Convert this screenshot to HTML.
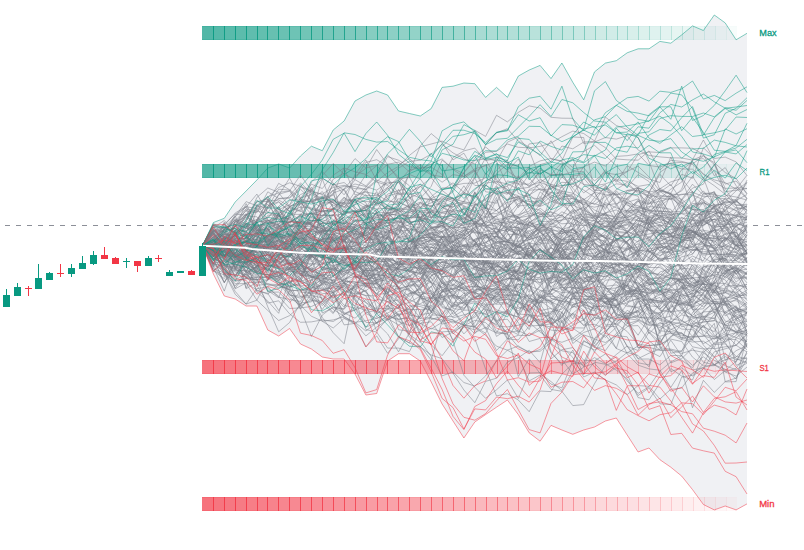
<!DOCTYPE html>
<html><head><meta charset="utf-8"><style>
html,body{margin:0;padding:0;background:#fff;}
body{width:804px;height:550px;overflow:hidden;}
svg{display:block;}
.t{stroke:#089981;}
.r{stroke:#f23645;}
.g{stroke:#787b86;}
#L path{fill:none;stroke-width:1;stroke-opacity:0.5;stroke-linejoin:miter;}
text{font-family:"Liberation Sans",sans-serif;font-size:9.6px;stroke-width:0.3px;}
</style></head><body>
<svg width="804" height="550" viewBox="0 0 804 550">
<rect width="804" height="550" fill="#ffffff"/>
<line x1="5" y1="225.5" x2="804" y2="225.5" stroke="#787b86" stroke-opacity="0.85" stroke-width="1" stroke-dasharray="5 6"/>
<path d="M202.5 245.5 213.4 222.5 224.3 218.3 235.2 202.0 246.1 191.0 256.9 180.0 267.8 168.0 278.7 164.0 289.6 168.0 300.5 156.0 311.4 146.2 322.3 150.7 333.2 130.0 344.1 121.0 355.0 101.0 365.9 95.0 376.7 91.0 387.6 95.0 398.5 111.0 409.4 113.5 420.3 116.0 431.2 108.6 442.1 87.4 453.0 86.2 463.9 83.0 474.8 83.7 485.6 97.4 496.5 87.4 507.4 97.3 518.3 76.1 529.2 70.0 540.1 65.4 551.0 78.6 561.9 63.0 572.8 82.3 583.7 99.8 594.5 71.9 605.4 63.1 616.3 60.7 627.2 52.8 638.1 48.8 649.0 48.8 659.9 41.4 670.8 43.2 681.7 34.9 692.5 25.9 703.4 30.5 714.3 15.0 725.2 22.9 736.1 39.8 747.0 33.3 747.0 503.9 736.1 509.9 725.2 506.0 714.3 509.9 703.4 504.5 692.5 489.6 681.7 476.1 670.8 467.2 659.9 459.7 649.0 448.0 638.1 452.0 627.2 435.0 616.3 418.0 605.4 421.0 594.5 427.0 583.7 430.0 572.8 434.3 561.9 430.0 551.0 425.4 540.1 441.2 529.2 432.8 518.3 414.6 507.4 400.0 496.5 407.2 485.6 414.6 474.8 422.0 463.9 438.0 453.0 421.0 442.1 404.0 431.2 382.0 420.3 361.0 409.4 353.7 398.5 353.7 387.6 361.0 376.7 393.5 365.9 395.0 355.0 374.0 344.1 359.0 333.2 359.0 322.3 357.0 311.4 349.0 300.5 344.0 289.6 328.5 278.7 336.0 267.8 330.0 256.9 306.0 246.1 306.0 235.2 299.0 224.3 296.0 213.4 274.0 202.5 245.5Z" fill="#f0f1f4"/>
<g id="B">
<rect x="202" y="26" width="11" height="14" fill="#089981" fill-opacity="0.700"/>
<rect x="202" y="26" width="11" height="1" fill="#089981" fill-opacity="0.175"/>
<rect x="202" y="39" width="11" height="1" fill="#089981" fill-opacity="0.175"/>
<rect x="213" y="26" width="11" height="14" fill="#089981" fill-opacity="0.686"/>
<rect x="213" y="26" width="11" height="1" fill="#089981" fill-opacity="0.172"/>
<rect x="213" y="39" width="11" height="1" fill="#089981" fill-opacity="0.172"/>
<rect x="213" y="26" width="1" height="14" fill="#089981" fill-opacity="0.901"/>
<rect x="224" y="26" width="11" height="14" fill="#089981" fill-opacity="0.672"/>
<rect x="224" y="26" width="11" height="1" fill="#089981" fill-opacity="0.168"/>
<rect x="224" y="39" width="11" height="1" fill="#089981" fill-opacity="0.168"/>
<rect x="224" y="26" width="1" height="14" fill="#089981" fill-opacity="0.892"/>
<rect x="235" y="26" width="11" height="14" fill="#089981" fill-opacity="0.658"/>
<rect x="235" y="26" width="11" height="1" fill="#089981" fill-opacity="0.165"/>
<rect x="235" y="39" width="11" height="1" fill="#089981" fill-opacity="0.165"/>
<rect x="235" y="26" width="1" height="14" fill="#089981" fill-opacity="0.883"/>
<rect x="246" y="26" width="11" height="14" fill="#089981" fill-opacity="0.644"/>
<rect x="246" y="26" width="11" height="1" fill="#089981" fill-opacity="0.161"/>
<rect x="246" y="39" width="11" height="1" fill="#089981" fill-opacity="0.161"/>
<rect x="246" y="26" width="1" height="14" fill="#089981" fill-opacity="0.873"/>
<rect x="257" y="26" width="10" height="14" fill="#089981" fill-opacity="0.630"/>
<rect x="257" y="26" width="10" height="1" fill="#089981" fill-opacity="0.158"/>
<rect x="257" y="39" width="10" height="1" fill="#089981" fill-opacity="0.158"/>
<rect x="257" y="26" width="1" height="14" fill="#089981" fill-opacity="0.863"/>
<rect x="267" y="26" width="11" height="14" fill="#089981" fill-opacity="0.616"/>
<rect x="267" y="26" width="11" height="1" fill="#089981" fill-opacity="0.154"/>
<rect x="267" y="39" width="11" height="1" fill="#089981" fill-opacity="0.154"/>
<rect x="267" y="26" width="1" height="14" fill="#089981" fill-opacity="0.853"/>
<rect x="278" y="26" width="11" height="14" fill="#089981" fill-opacity="0.602"/>
<rect x="278" y="26" width="11" height="1" fill="#089981" fill-opacity="0.151"/>
<rect x="278" y="39" width="11" height="1" fill="#089981" fill-opacity="0.151"/>
<rect x="278" y="26" width="1" height="14" fill="#089981" fill-opacity="0.842"/>
<rect x="289" y="26" width="11" height="14" fill="#089981" fill-opacity="0.588"/>
<rect x="289" y="26" width="11" height="1" fill="#089981" fill-opacity="0.147"/>
<rect x="289" y="39" width="11" height="1" fill="#089981" fill-opacity="0.147"/>
<rect x="289" y="26" width="1" height="14" fill="#089981" fill-opacity="0.831"/>
<rect x="300" y="26" width="11" height="14" fill="#089981" fill-opacity="0.574"/>
<rect x="300" y="26" width="11" height="1" fill="#089981" fill-opacity="0.144"/>
<rect x="300" y="39" width="11" height="1" fill="#089981" fill-opacity="0.144"/>
<rect x="300" y="26" width="1" height="14" fill="#089981" fill-opacity="0.819"/>
<rect x="311" y="26" width="11" height="14" fill="#089981" fill-opacity="0.560"/>
<rect x="311" y="26" width="11" height="1" fill="#089981" fill-opacity="0.140"/>
<rect x="311" y="39" width="11" height="1" fill="#089981" fill-opacity="0.140"/>
<rect x="311" y="26" width="1" height="14" fill="#089981" fill-opacity="0.807"/>
<rect x="322" y="26" width="11" height="14" fill="#089981" fill-opacity="0.546"/>
<rect x="322" y="26" width="11" height="1" fill="#089981" fill-opacity="0.137"/>
<rect x="322" y="39" width="11" height="1" fill="#089981" fill-opacity="0.137"/>
<rect x="322" y="26" width="1" height="14" fill="#089981" fill-opacity="0.794"/>
<rect x="333" y="26" width="11" height="14" fill="#089981" fill-opacity="0.532"/>
<rect x="333" y="26" width="11" height="1" fill="#089981" fill-opacity="0.133"/>
<rect x="333" y="39" width="11" height="1" fill="#089981" fill-opacity="0.133"/>
<rect x="333" y="26" width="1" height="14" fill="#089981" fill-opacity="0.781"/>
<rect x="344" y="26" width="11" height="14" fill="#089981" fill-opacity="0.519"/>
<rect x="344" y="26" width="11" height="1" fill="#089981" fill-opacity="0.130"/>
<rect x="344" y="39" width="11" height="1" fill="#089981" fill-opacity="0.130"/>
<rect x="344" y="26" width="1" height="14" fill="#089981" fill-opacity="0.768"/>
<rect x="355" y="26" width="11" height="14" fill="#089981" fill-opacity="0.505"/>
<rect x="355" y="26" width="11" height="1" fill="#089981" fill-opacity="0.126"/>
<rect x="355" y="39" width="11" height="1" fill="#089981" fill-opacity="0.126"/>
<rect x="355" y="26" width="1" height="14" fill="#089981" fill-opacity="0.755"/>
<rect x="366" y="26" width="11" height="14" fill="#089981" fill-opacity="0.491"/>
<rect x="366" y="26" width="11" height="1" fill="#089981" fill-opacity="0.123"/>
<rect x="366" y="39" width="11" height="1" fill="#089981" fill-opacity="0.123"/>
<rect x="366" y="26" width="1" height="14" fill="#089981" fill-opacity="0.741"/>
<rect x="377" y="26" width="10" height="14" fill="#089981" fill-opacity="0.477"/>
<rect x="377" y="26" width="10" height="1" fill="#089981" fill-opacity="0.119"/>
<rect x="377" y="39" width="10" height="1" fill="#089981" fill-opacity="0.119"/>
<rect x="377" y="26" width="1" height="14" fill="#089981" fill-opacity="0.726"/>
<rect x="387" y="26" width="11" height="14" fill="#089981" fill-opacity="0.463"/>
<rect x="387" y="26" width="11" height="1" fill="#089981" fill-opacity="0.116"/>
<rect x="387" y="39" width="11" height="1" fill="#089981" fill-opacity="0.116"/>
<rect x="387" y="26" width="1" height="14" fill="#089981" fill-opacity="0.711"/>
<rect x="398" y="26" width="11" height="14" fill="#089981" fill-opacity="0.449"/>
<rect x="398" y="26" width="11" height="1" fill="#089981" fill-opacity="0.112"/>
<rect x="398" y="39" width="11" height="1" fill="#089981" fill-opacity="0.112"/>
<rect x="398" y="26" width="1" height="14" fill="#089981" fill-opacity="0.696"/>
<rect x="409" y="26" width="11" height="14" fill="#089981" fill-opacity="0.435"/>
<rect x="409" y="26" width="11" height="1" fill="#089981" fill-opacity="0.109"/>
<rect x="409" y="39" width="11" height="1" fill="#089981" fill-opacity="0.109"/>
<rect x="409" y="26" width="1" height="14" fill="#089981" fill-opacity="0.681"/>
<rect x="420" y="26" width="11" height="14" fill="#089981" fill-opacity="0.421"/>
<rect x="420" y="26" width="11" height="1" fill="#089981" fill-opacity="0.105"/>
<rect x="420" y="39" width="11" height="1" fill="#089981" fill-opacity="0.105"/>
<rect x="420" y="26" width="1" height="14" fill="#089981" fill-opacity="0.665"/>
<rect x="431" y="26" width="11" height="14" fill="#089981" fill-opacity="0.407"/>
<rect x="431" y="26" width="11" height="1" fill="#089981" fill-opacity="0.102"/>
<rect x="431" y="39" width="11" height="1" fill="#089981" fill-opacity="0.102"/>
<rect x="431" y="26" width="1" height="14" fill="#089981" fill-opacity="0.648"/>
<rect x="442" y="26" width="11" height="14" fill="#089981" fill-opacity="0.393"/>
<rect x="442" y="26" width="11" height="1" fill="#089981" fill-opacity="0.098"/>
<rect x="442" y="39" width="11" height="1" fill="#089981" fill-opacity="0.098"/>
<rect x="442" y="26" width="1" height="14" fill="#089981" fill-opacity="0.631"/>
<rect x="453" y="26" width="11" height="14" fill="#089981" fill-opacity="0.379"/>
<rect x="453" y="26" width="11" height="1" fill="#089981" fill-opacity="0.095"/>
<rect x="453" y="39" width="11" height="1" fill="#089981" fill-opacity="0.095"/>
<rect x="453" y="26" width="1" height="14" fill="#089981" fill-opacity="0.614"/>
<rect x="464" y="26" width="11" height="14" fill="#089981" fill-opacity="0.365"/>
<rect x="464" y="26" width="11" height="1" fill="#089981" fill-opacity="0.091"/>
<rect x="464" y="39" width="11" height="1" fill="#089981" fill-opacity="0.091"/>
<rect x="464" y="26" width="1" height="14" fill="#089981" fill-opacity="0.597"/>
<rect x="475" y="26" width="11" height="14" fill="#089981" fill-opacity="0.351"/>
<rect x="475" y="26" width="11" height="1" fill="#089981" fill-opacity="0.088"/>
<rect x="475" y="39" width="11" height="1" fill="#089981" fill-opacity="0.088"/>
<rect x="475" y="26" width="1" height="14" fill="#089981" fill-opacity="0.579"/>
<rect x="486" y="26" width="11" height="14" fill="#089981" fill-opacity="0.337"/>
<rect x="486" y="26" width="11" height="1" fill="#089981" fill-opacity="0.084"/>
<rect x="486" y="39" width="11" height="1" fill="#089981" fill-opacity="0.084"/>
<rect x="486" y="26" width="1" height="14" fill="#089981" fill-opacity="0.561"/>
<rect x="497" y="26" width="10" height="14" fill="#089981" fill-opacity="0.323"/>
<rect x="497" y="26" width="10" height="1" fill="#089981" fill-opacity="0.081"/>
<rect x="497" y="39" width="10" height="1" fill="#089981" fill-opacity="0.081"/>
<rect x="497" y="26" width="1" height="14" fill="#089981" fill-opacity="0.542"/>
<rect x="507" y="26" width="11" height="14" fill="#089981" fill-opacity="0.309"/>
<rect x="507" y="26" width="11" height="1" fill="#089981" fill-opacity="0.077"/>
<rect x="507" y="39" width="11" height="1" fill="#089981" fill-opacity="0.077"/>
<rect x="507" y="26" width="1" height="14" fill="#089981" fill-opacity="0.523"/>
<rect x="518" y="26" width="11" height="14" fill="#089981" fill-opacity="0.295"/>
<rect x="518" y="26" width="11" height="1" fill="#089981" fill-opacity="0.074"/>
<rect x="518" y="39" width="11" height="1" fill="#089981" fill-opacity="0.074"/>
<rect x="518" y="26" width="1" height="14" fill="#089981" fill-opacity="0.503"/>
<rect x="529" y="26" width="11" height="14" fill="#089981" fill-opacity="0.281"/>
<rect x="529" y="26" width="11" height="1" fill="#089981" fill-opacity="0.070"/>
<rect x="529" y="39" width="11" height="1" fill="#089981" fill-opacity="0.070"/>
<rect x="529" y="26" width="1" height="14" fill="#089981" fill-opacity="0.483"/>
<rect x="540" y="26" width="11" height="14" fill="#089981" fill-opacity="0.267"/>
<rect x="540" y="26" width="11" height="1" fill="#089981" fill-opacity="0.067"/>
<rect x="540" y="39" width="11" height="1" fill="#089981" fill-opacity="0.067"/>
<rect x="540" y="26" width="1" height="14" fill="#089981" fill-opacity="0.463"/>
<rect x="551" y="26" width="11" height="14" fill="#089981" fill-opacity="0.253"/>
<rect x="551" y="26" width="11" height="1" fill="#089981" fill-opacity="0.063"/>
<rect x="551" y="39" width="11" height="1" fill="#089981" fill-opacity="0.063"/>
<rect x="551" y="26" width="1" height="14" fill="#089981" fill-opacity="0.442"/>
<rect x="562" y="26" width="11" height="14" fill="#089981" fill-opacity="0.239"/>
<rect x="562" y="26" width="11" height="1" fill="#089981" fill-opacity="0.060"/>
<rect x="562" y="39" width="11" height="1" fill="#089981" fill-opacity="0.060"/>
<rect x="562" y="26" width="1" height="14" fill="#089981" fill-opacity="0.421"/>
<rect x="573" y="26" width="11" height="14" fill="#089981" fill-opacity="0.225"/>
<rect x="573" y="26" width="11" height="1" fill="#089981" fill-opacity="0.056"/>
<rect x="573" y="39" width="11" height="1" fill="#089981" fill-opacity="0.056"/>
<rect x="573" y="26" width="1" height="14" fill="#089981" fill-opacity="0.400"/>
<rect x="584" y="26" width="11" height="14" fill="#089981" fill-opacity="0.211"/>
<rect x="584" y="26" width="11" height="1" fill="#089981" fill-opacity="0.053"/>
<rect x="584" y="39" width="11" height="1" fill="#089981" fill-opacity="0.053"/>
<rect x="584" y="26" width="1" height="14" fill="#089981" fill-opacity="0.378"/>
<rect x="595" y="26" width="11" height="14" fill="#089981" fill-opacity="0.198"/>
<rect x="595" y="26" width="11" height="1" fill="#089981" fill-opacity="0.049"/>
<rect x="595" y="39" width="11" height="1" fill="#089981" fill-opacity="0.049"/>
<rect x="595" y="26" width="1" height="14" fill="#089981" fill-opacity="0.356"/>
<rect x="606" y="26" width="11" height="14" fill="#089981" fill-opacity="0.184"/>
<rect x="606" y="26" width="11" height="1" fill="#089981" fill-opacity="0.046"/>
<rect x="606" y="39" width="11" height="1" fill="#089981" fill-opacity="0.046"/>
<rect x="606" y="26" width="1" height="14" fill="#089981" fill-opacity="0.333"/>
<rect x="617" y="26" width="10" height="14" fill="#089981" fill-opacity="0.170"/>
<rect x="617" y="26" width="10" height="1" fill="#089981" fill-opacity="0.042"/>
<rect x="617" y="39" width="10" height="1" fill="#089981" fill-opacity="0.042"/>
<rect x="617" y="26" width="1" height="14" fill="#089981" fill-opacity="0.310"/>
<rect x="627" y="26" width="11" height="14" fill="#089981" fill-opacity="0.156"/>
<rect x="627" y="26" width="11" height="1" fill="#089981" fill-opacity="0.039"/>
<rect x="627" y="39" width="11" height="1" fill="#089981" fill-opacity="0.039"/>
<rect x="627" y="26" width="1" height="14" fill="#089981" fill-opacity="0.287"/>
<rect x="638" y="26" width="11" height="14" fill="#089981" fill-opacity="0.142"/>
<rect x="638" y="26" width="11" height="1" fill="#089981" fill-opacity="0.035"/>
<rect x="638" y="39" width="11" height="1" fill="#089981" fill-opacity="0.035"/>
<rect x="638" y="26" width="1" height="14" fill="#089981" fill-opacity="0.263"/>
<rect x="649" y="26" width="11" height="14" fill="#089981" fill-opacity="0.128"/>
<rect x="649" y="26" width="11" height="1" fill="#089981" fill-opacity="0.032"/>
<rect x="649" y="39" width="11" height="1" fill="#089981" fill-opacity="0.032"/>
<rect x="649" y="26" width="1" height="14" fill="#089981" fill-opacity="0.239"/>
<rect x="660" y="26" width="11" height="14" fill="#089981" fill-opacity="0.114"/>
<rect x="660" y="26" width="11" height="1" fill="#089981" fill-opacity="0.028"/>
<rect x="660" y="39" width="11" height="1" fill="#089981" fill-opacity="0.028"/>
<rect x="660" y="26" width="1" height="14" fill="#089981" fill-opacity="0.215"/>
<rect x="671" y="26" width="11" height="14" fill="#089981" fill-opacity="0.100"/>
<rect x="671" y="26" width="11" height="1" fill="#089981" fill-opacity="0.025"/>
<rect x="671" y="39" width="11" height="1" fill="#089981" fill-opacity="0.025"/>
<rect x="671" y="26" width="1" height="14" fill="#089981" fill-opacity="0.190"/>
<rect x="682" y="26" width="11" height="14" fill="#089981" fill-opacity="0.086"/>
<rect x="682" y="26" width="11" height="1" fill="#089981" fill-opacity="0.021"/>
<rect x="682" y="39" width="11" height="1" fill="#089981" fill-opacity="0.021"/>
<rect x="682" y="26" width="1" height="14" fill="#089981" fill-opacity="0.164"/>
<rect x="693" y="26" width="11" height="14" fill="#089981" fill-opacity="0.072"/>
<rect x="693" y="26" width="11" height="1" fill="#089981" fill-opacity="0.018"/>
<rect x="693" y="39" width="11" height="1" fill="#089981" fill-opacity="0.018"/>
<rect x="693" y="26" width="1" height="14" fill="#089981" fill-opacity="0.139"/>
<rect x="704" y="26" width="11" height="14" fill="#089981" fill-opacity="0.058"/>
<rect x="704" y="26" width="11" height="1" fill="#089981" fill-opacity="0.014"/>
<rect x="704" y="39" width="11" height="1" fill="#089981" fill-opacity="0.014"/>
<rect x="704" y="26" width="1" height="14" fill="#089981" fill-opacity="0.112"/>
<rect x="715" y="26" width="11" height="14" fill="#089981" fill-opacity="0.044"/>
<rect x="715" y="26" width="11" height="1" fill="#089981" fill-opacity="0.011"/>
<rect x="715" y="39" width="11" height="1" fill="#089981" fill-opacity="0.011"/>
<rect x="715" y="26" width="1" height="14" fill="#089981" fill-opacity="0.086"/>
<rect x="726" y="26" width="11" height="14" fill="#089981" fill-opacity="0.030"/>
<rect x="726" y="26" width="11" height="1" fill="#089981" fill-opacity="0.008"/>
<rect x="726" y="39" width="11" height="1" fill="#089981" fill-opacity="0.008"/>
<rect x="726" y="26" width="1" height="14" fill="#089981" fill-opacity="0.059"/>
<rect x="202" y="164" width="11" height="14" fill="#089981" fill-opacity="0.700"/>
<rect x="202" y="164" width="11" height="1" fill="#089981" fill-opacity="0.175"/>
<rect x="202" y="177" width="11" height="1" fill="#089981" fill-opacity="0.175"/>
<rect x="213" y="164" width="11" height="14" fill="#089981" fill-opacity="0.686"/>
<rect x="213" y="164" width="11" height="1" fill="#089981" fill-opacity="0.172"/>
<rect x="213" y="177" width="11" height="1" fill="#089981" fill-opacity="0.172"/>
<rect x="213" y="164" width="1" height="14" fill="#089981" fill-opacity="0.901"/>
<rect x="224" y="164" width="11" height="14" fill="#089981" fill-opacity="0.672"/>
<rect x="224" y="164" width="11" height="1" fill="#089981" fill-opacity="0.168"/>
<rect x="224" y="177" width="11" height="1" fill="#089981" fill-opacity="0.168"/>
<rect x="224" y="164" width="1" height="14" fill="#089981" fill-opacity="0.892"/>
<rect x="235" y="164" width="11" height="14" fill="#089981" fill-opacity="0.658"/>
<rect x="235" y="164" width="11" height="1" fill="#089981" fill-opacity="0.165"/>
<rect x="235" y="177" width="11" height="1" fill="#089981" fill-opacity="0.165"/>
<rect x="235" y="164" width="1" height="14" fill="#089981" fill-opacity="0.883"/>
<rect x="246" y="164" width="11" height="14" fill="#089981" fill-opacity="0.644"/>
<rect x="246" y="164" width="11" height="1" fill="#089981" fill-opacity="0.161"/>
<rect x="246" y="177" width="11" height="1" fill="#089981" fill-opacity="0.161"/>
<rect x="246" y="164" width="1" height="14" fill="#089981" fill-opacity="0.873"/>
<rect x="257" y="164" width="10" height="14" fill="#089981" fill-opacity="0.630"/>
<rect x="257" y="164" width="10" height="1" fill="#089981" fill-opacity="0.158"/>
<rect x="257" y="177" width="10" height="1" fill="#089981" fill-opacity="0.158"/>
<rect x="257" y="164" width="1" height="14" fill="#089981" fill-opacity="0.863"/>
<rect x="267" y="164" width="11" height="14" fill="#089981" fill-opacity="0.616"/>
<rect x="267" y="164" width="11" height="1" fill="#089981" fill-opacity="0.154"/>
<rect x="267" y="177" width="11" height="1" fill="#089981" fill-opacity="0.154"/>
<rect x="267" y="164" width="1" height="14" fill="#089981" fill-opacity="0.853"/>
<rect x="278" y="164" width="11" height="14" fill="#089981" fill-opacity="0.602"/>
<rect x="278" y="164" width="11" height="1" fill="#089981" fill-opacity="0.151"/>
<rect x="278" y="177" width="11" height="1" fill="#089981" fill-opacity="0.151"/>
<rect x="278" y="164" width="1" height="14" fill="#089981" fill-opacity="0.842"/>
<rect x="289" y="164" width="11" height="14" fill="#089981" fill-opacity="0.588"/>
<rect x="289" y="164" width="11" height="1" fill="#089981" fill-opacity="0.147"/>
<rect x="289" y="177" width="11" height="1" fill="#089981" fill-opacity="0.147"/>
<rect x="289" y="164" width="1" height="14" fill="#089981" fill-opacity="0.831"/>
<rect x="300" y="164" width="11" height="14" fill="#089981" fill-opacity="0.574"/>
<rect x="300" y="164" width="11" height="1" fill="#089981" fill-opacity="0.144"/>
<rect x="300" y="177" width="11" height="1" fill="#089981" fill-opacity="0.144"/>
<rect x="300" y="164" width="1" height="14" fill="#089981" fill-opacity="0.819"/>
<rect x="311" y="164" width="11" height="14" fill="#089981" fill-opacity="0.560"/>
<rect x="311" y="164" width="11" height="1" fill="#089981" fill-opacity="0.140"/>
<rect x="311" y="177" width="11" height="1" fill="#089981" fill-opacity="0.140"/>
<rect x="311" y="164" width="1" height="14" fill="#089981" fill-opacity="0.807"/>
<rect x="322" y="164" width="11" height="14" fill="#089981" fill-opacity="0.546"/>
<rect x="322" y="164" width="11" height="1" fill="#089981" fill-opacity="0.137"/>
<rect x="322" y="177" width="11" height="1" fill="#089981" fill-opacity="0.137"/>
<rect x="322" y="164" width="1" height="14" fill="#089981" fill-opacity="0.794"/>
<rect x="333" y="164" width="11" height="14" fill="#089981" fill-opacity="0.532"/>
<rect x="333" y="164" width="11" height="1" fill="#089981" fill-opacity="0.133"/>
<rect x="333" y="177" width="11" height="1" fill="#089981" fill-opacity="0.133"/>
<rect x="333" y="164" width="1" height="14" fill="#089981" fill-opacity="0.781"/>
<rect x="344" y="164" width="11" height="14" fill="#089981" fill-opacity="0.519"/>
<rect x="344" y="164" width="11" height="1" fill="#089981" fill-opacity="0.130"/>
<rect x="344" y="177" width="11" height="1" fill="#089981" fill-opacity="0.130"/>
<rect x="344" y="164" width="1" height="14" fill="#089981" fill-opacity="0.768"/>
<rect x="355" y="164" width="11" height="14" fill="#089981" fill-opacity="0.505"/>
<rect x="355" y="164" width="11" height="1" fill="#089981" fill-opacity="0.126"/>
<rect x="355" y="177" width="11" height="1" fill="#089981" fill-opacity="0.126"/>
<rect x="355" y="164" width="1" height="14" fill="#089981" fill-opacity="0.755"/>
<rect x="366" y="164" width="11" height="14" fill="#089981" fill-opacity="0.491"/>
<rect x="366" y="164" width="11" height="1" fill="#089981" fill-opacity="0.123"/>
<rect x="366" y="177" width="11" height="1" fill="#089981" fill-opacity="0.123"/>
<rect x="366" y="164" width="1" height="14" fill="#089981" fill-opacity="0.741"/>
<rect x="377" y="164" width="10" height="14" fill="#089981" fill-opacity="0.477"/>
<rect x="377" y="164" width="10" height="1" fill="#089981" fill-opacity="0.119"/>
<rect x="377" y="177" width="10" height="1" fill="#089981" fill-opacity="0.119"/>
<rect x="377" y="164" width="1" height="14" fill="#089981" fill-opacity="0.726"/>
<rect x="387" y="164" width="11" height="14" fill="#089981" fill-opacity="0.463"/>
<rect x="387" y="164" width="11" height="1" fill="#089981" fill-opacity="0.116"/>
<rect x="387" y="177" width="11" height="1" fill="#089981" fill-opacity="0.116"/>
<rect x="387" y="164" width="1" height="14" fill="#089981" fill-opacity="0.711"/>
<rect x="398" y="164" width="11" height="14" fill="#089981" fill-opacity="0.449"/>
<rect x="398" y="164" width="11" height="1" fill="#089981" fill-opacity="0.112"/>
<rect x="398" y="177" width="11" height="1" fill="#089981" fill-opacity="0.112"/>
<rect x="398" y="164" width="1" height="14" fill="#089981" fill-opacity="0.696"/>
<rect x="409" y="164" width="11" height="14" fill="#089981" fill-opacity="0.435"/>
<rect x="409" y="164" width="11" height="1" fill="#089981" fill-opacity="0.109"/>
<rect x="409" y="177" width="11" height="1" fill="#089981" fill-opacity="0.109"/>
<rect x="409" y="164" width="1" height="14" fill="#089981" fill-opacity="0.681"/>
<rect x="420" y="164" width="11" height="14" fill="#089981" fill-opacity="0.421"/>
<rect x="420" y="164" width="11" height="1" fill="#089981" fill-opacity="0.105"/>
<rect x="420" y="177" width="11" height="1" fill="#089981" fill-opacity="0.105"/>
<rect x="420" y="164" width="1" height="14" fill="#089981" fill-opacity="0.665"/>
<rect x="431" y="164" width="11" height="14" fill="#089981" fill-opacity="0.407"/>
<rect x="431" y="164" width="11" height="1" fill="#089981" fill-opacity="0.102"/>
<rect x="431" y="177" width="11" height="1" fill="#089981" fill-opacity="0.102"/>
<rect x="431" y="164" width="1" height="14" fill="#089981" fill-opacity="0.648"/>
<rect x="442" y="164" width="11" height="14" fill="#089981" fill-opacity="0.393"/>
<rect x="442" y="164" width="11" height="1" fill="#089981" fill-opacity="0.098"/>
<rect x="442" y="177" width="11" height="1" fill="#089981" fill-opacity="0.098"/>
<rect x="442" y="164" width="1" height="14" fill="#089981" fill-opacity="0.631"/>
<rect x="453" y="164" width="11" height="14" fill="#089981" fill-opacity="0.379"/>
<rect x="453" y="164" width="11" height="1" fill="#089981" fill-opacity="0.095"/>
<rect x="453" y="177" width="11" height="1" fill="#089981" fill-opacity="0.095"/>
<rect x="453" y="164" width="1" height="14" fill="#089981" fill-opacity="0.614"/>
<rect x="464" y="164" width="11" height="14" fill="#089981" fill-opacity="0.365"/>
<rect x="464" y="164" width="11" height="1" fill="#089981" fill-opacity="0.091"/>
<rect x="464" y="177" width="11" height="1" fill="#089981" fill-opacity="0.091"/>
<rect x="464" y="164" width="1" height="14" fill="#089981" fill-opacity="0.597"/>
<rect x="475" y="164" width="11" height="14" fill="#089981" fill-opacity="0.351"/>
<rect x="475" y="164" width="11" height="1" fill="#089981" fill-opacity="0.088"/>
<rect x="475" y="177" width="11" height="1" fill="#089981" fill-opacity="0.088"/>
<rect x="475" y="164" width="1" height="14" fill="#089981" fill-opacity="0.579"/>
<rect x="486" y="164" width="11" height="14" fill="#089981" fill-opacity="0.337"/>
<rect x="486" y="164" width="11" height="1" fill="#089981" fill-opacity="0.084"/>
<rect x="486" y="177" width="11" height="1" fill="#089981" fill-opacity="0.084"/>
<rect x="486" y="164" width="1" height="14" fill="#089981" fill-opacity="0.561"/>
<rect x="497" y="164" width="10" height="14" fill="#089981" fill-opacity="0.323"/>
<rect x="497" y="164" width="10" height="1" fill="#089981" fill-opacity="0.081"/>
<rect x="497" y="177" width="10" height="1" fill="#089981" fill-opacity="0.081"/>
<rect x="497" y="164" width="1" height="14" fill="#089981" fill-opacity="0.542"/>
<rect x="507" y="164" width="11" height="14" fill="#089981" fill-opacity="0.309"/>
<rect x="507" y="164" width="11" height="1" fill="#089981" fill-opacity="0.077"/>
<rect x="507" y="177" width="11" height="1" fill="#089981" fill-opacity="0.077"/>
<rect x="507" y="164" width="1" height="14" fill="#089981" fill-opacity="0.523"/>
<rect x="518" y="164" width="11" height="14" fill="#089981" fill-opacity="0.295"/>
<rect x="518" y="164" width="11" height="1" fill="#089981" fill-opacity="0.074"/>
<rect x="518" y="177" width="11" height="1" fill="#089981" fill-opacity="0.074"/>
<rect x="518" y="164" width="1" height="14" fill="#089981" fill-opacity="0.503"/>
<rect x="529" y="164" width="11" height="14" fill="#089981" fill-opacity="0.281"/>
<rect x="529" y="164" width="11" height="1" fill="#089981" fill-opacity="0.070"/>
<rect x="529" y="177" width="11" height="1" fill="#089981" fill-opacity="0.070"/>
<rect x="529" y="164" width="1" height="14" fill="#089981" fill-opacity="0.483"/>
<rect x="540" y="164" width="11" height="14" fill="#089981" fill-opacity="0.267"/>
<rect x="540" y="164" width="11" height="1" fill="#089981" fill-opacity="0.067"/>
<rect x="540" y="177" width="11" height="1" fill="#089981" fill-opacity="0.067"/>
<rect x="540" y="164" width="1" height="14" fill="#089981" fill-opacity="0.463"/>
<rect x="551" y="164" width="11" height="14" fill="#089981" fill-opacity="0.253"/>
<rect x="551" y="164" width="11" height="1" fill="#089981" fill-opacity="0.063"/>
<rect x="551" y="177" width="11" height="1" fill="#089981" fill-opacity="0.063"/>
<rect x="551" y="164" width="1" height="14" fill="#089981" fill-opacity="0.442"/>
<rect x="562" y="164" width="11" height="14" fill="#089981" fill-opacity="0.239"/>
<rect x="562" y="164" width="11" height="1" fill="#089981" fill-opacity="0.060"/>
<rect x="562" y="177" width="11" height="1" fill="#089981" fill-opacity="0.060"/>
<rect x="562" y="164" width="1" height="14" fill="#089981" fill-opacity="0.421"/>
<rect x="573" y="164" width="11" height="14" fill="#089981" fill-opacity="0.225"/>
<rect x="573" y="164" width="11" height="1" fill="#089981" fill-opacity="0.056"/>
<rect x="573" y="177" width="11" height="1" fill="#089981" fill-opacity="0.056"/>
<rect x="573" y="164" width="1" height="14" fill="#089981" fill-opacity="0.400"/>
<rect x="584" y="164" width="11" height="14" fill="#089981" fill-opacity="0.211"/>
<rect x="584" y="164" width="11" height="1" fill="#089981" fill-opacity="0.053"/>
<rect x="584" y="177" width="11" height="1" fill="#089981" fill-opacity="0.053"/>
<rect x="584" y="164" width="1" height="14" fill="#089981" fill-opacity="0.378"/>
<rect x="595" y="164" width="11" height="14" fill="#089981" fill-opacity="0.198"/>
<rect x="595" y="164" width="11" height="1" fill="#089981" fill-opacity="0.049"/>
<rect x="595" y="177" width="11" height="1" fill="#089981" fill-opacity="0.049"/>
<rect x="595" y="164" width="1" height="14" fill="#089981" fill-opacity="0.356"/>
<rect x="606" y="164" width="11" height="14" fill="#089981" fill-opacity="0.184"/>
<rect x="606" y="164" width="11" height="1" fill="#089981" fill-opacity="0.046"/>
<rect x="606" y="177" width="11" height="1" fill="#089981" fill-opacity="0.046"/>
<rect x="606" y="164" width="1" height="14" fill="#089981" fill-opacity="0.333"/>
<rect x="617" y="164" width="10" height="14" fill="#089981" fill-opacity="0.170"/>
<rect x="617" y="164" width="10" height="1" fill="#089981" fill-opacity="0.042"/>
<rect x="617" y="177" width="10" height="1" fill="#089981" fill-opacity="0.042"/>
<rect x="617" y="164" width="1" height="14" fill="#089981" fill-opacity="0.310"/>
<rect x="627" y="164" width="11" height="14" fill="#089981" fill-opacity="0.156"/>
<rect x="627" y="164" width="11" height="1" fill="#089981" fill-opacity="0.039"/>
<rect x="627" y="177" width="11" height="1" fill="#089981" fill-opacity="0.039"/>
<rect x="627" y="164" width="1" height="14" fill="#089981" fill-opacity="0.287"/>
<rect x="638" y="164" width="11" height="14" fill="#089981" fill-opacity="0.142"/>
<rect x="638" y="164" width="11" height="1" fill="#089981" fill-opacity="0.035"/>
<rect x="638" y="177" width="11" height="1" fill="#089981" fill-opacity="0.035"/>
<rect x="638" y="164" width="1" height="14" fill="#089981" fill-opacity="0.263"/>
<rect x="649" y="164" width="11" height="14" fill="#089981" fill-opacity="0.128"/>
<rect x="649" y="164" width="11" height="1" fill="#089981" fill-opacity="0.032"/>
<rect x="649" y="177" width="11" height="1" fill="#089981" fill-opacity="0.032"/>
<rect x="649" y="164" width="1" height="14" fill="#089981" fill-opacity="0.239"/>
<rect x="660" y="164" width="11" height="14" fill="#089981" fill-opacity="0.114"/>
<rect x="660" y="164" width="11" height="1" fill="#089981" fill-opacity="0.028"/>
<rect x="660" y="177" width="11" height="1" fill="#089981" fill-opacity="0.028"/>
<rect x="660" y="164" width="1" height="14" fill="#089981" fill-opacity="0.215"/>
<rect x="671" y="164" width="11" height="14" fill="#089981" fill-opacity="0.100"/>
<rect x="671" y="164" width="11" height="1" fill="#089981" fill-opacity="0.025"/>
<rect x="671" y="177" width="11" height="1" fill="#089981" fill-opacity="0.025"/>
<rect x="671" y="164" width="1" height="14" fill="#089981" fill-opacity="0.190"/>
<rect x="682" y="164" width="11" height="14" fill="#089981" fill-opacity="0.086"/>
<rect x="682" y="164" width="11" height="1" fill="#089981" fill-opacity="0.021"/>
<rect x="682" y="177" width="11" height="1" fill="#089981" fill-opacity="0.021"/>
<rect x="682" y="164" width="1" height="14" fill="#089981" fill-opacity="0.164"/>
<rect x="693" y="164" width="11" height="14" fill="#089981" fill-opacity="0.072"/>
<rect x="693" y="164" width="11" height="1" fill="#089981" fill-opacity="0.018"/>
<rect x="693" y="177" width="11" height="1" fill="#089981" fill-opacity="0.018"/>
<rect x="693" y="164" width="1" height="14" fill="#089981" fill-opacity="0.139"/>
<rect x="704" y="164" width="11" height="14" fill="#089981" fill-opacity="0.058"/>
<rect x="704" y="164" width="11" height="1" fill="#089981" fill-opacity="0.014"/>
<rect x="704" y="177" width="11" height="1" fill="#089981" fill-opacity="0.014"/>
<rect x="704" y="164" width="1" height="14" fill="#089981" fill-opacity="0.112"/>
<rect x="715" y="164" width="11" height="14" fill="#089981" fill-opacity="0.044"/>
<rect x="715" y="164" width="11" height="1" fill="#089981" fill-opacity="0.011"/>
<rect x="715" y="177" width="11" height="1" fill="#089981" fill-opacity="0.011"/>
<rect x="715" y="164" width="1" height="14" fill="#089981" fill-opacity="0.086"/>
<rect x="726" y="164" width="11" height="14" fill="#089981" fill-opacity="0.030"/>
<rect x="726" y="164" width="11" height="1" fill="#089981" fill-opacity="0.008"/>
<rect x="726" y="177" width="11" height="1" fill="#089981" fill-opacity="0.008"/>
<rect x="726" y="164" width="1" height="14" fill="#089981" fill-opacity="0.059"/>
<rect x="202" y="360" width="11" height="14" fill="#f23645" fill-opacity="0.700"/>
<rect x="202" y="360" width="11" height="1" fill="#f23645" fill-opacity="0.175"/>
<rect x="202" y="373" width="11" height="1" fill="#f23645" fill-opacity="0.175"/>
<rect x="213" y="360" width="11" height="14" fill="#f23645" fill-opacity="0.686"/>
<rect x="213" y="360" width="11" height="1" fill="#f23645" fill-opacity="0.172"/>
<rect x="213" y="373" width="11" height="1" fill="#f23645" fill-opacity="0.172"/>
<rect x="213" y="360" width="1" height="14" fill="#f23645" fill-opacity="0.901"/>
<rect x="224" y="360" width="11" height="14" fill="#f23645" fill-opacity="0.672"/>
<rect x="224" y="360" width="11" height="1" fill="#f23645" fill-opacity="0.168"/>
<rect x="224" y="373" width="11" height="1" fill="#f23645" fill-opacity="0.168"/>
<rect x="224" y="360" width="1" height="14" fill="#f23645" fill-opacity="0.892"/>
<rect x="235" y="360" width="11" height="14" fill="#f23645" fill-opacity="0.658"/>
<rect x="235" y="360" width="11" height="1" fill="#f23645" fill-opacity="0.165"/>
<rect x="235" y="373" width="11" height="1" fill="#f23645" fill-opacity="0.165"/>
<rect x="235" y="360" width="1" height="14" fill="#f23645" fill-opacity="0.883"/>
<rect x="246" y="360" width="11" height="14" fill="#f23645" fill-opacity="0.644"/>
<rect x="246" y="360" width="11" height="1" fill="#f23645" fill-opacity="0.161"/>
<rect x="246" y="373" width="11" height="1" fill="#f23645" fill-opacity="0.161"/>
<rect x="246" y="360" width="1" height="14" fill="#f23645" fill-opacity="0.873"/>
<rect x="257" y="360" width="10" height="14" fill="#f23645" fill-opacity="0.630"/>
<rect x="257" y="360" width="10" height="1" fill="#f23645" fill-opacity="0.158"/>
<rect x="257" y="373" width="10" height="1" fill="#f23645" fill-opacity="0.158"/>
<rect x="257" y="360" width="1" height="14" fill="#f23645" fill-opacity="0.863"/>
<rect x="267" y="360" width="11" height="14" fill="#f23645" fill-opacity="0.616"/>
<rect x="267" y="360" width="11" height="1" fill="#f23645" fill-opacity="0.154"/>
<rect x="267" y="373" width="11" height="1" fill="#f23645" fill-opacity="0.154"/>
<rect x="267" y="360" width="1" height="14" fill="#f23645" fill-opacity="0.853"/>
<rect x="278" y="360" width="11" height="14" fill="#f23645" fill-opacity="0.602"/>
<rect x="278" y="360" width="11" height="1" fill="#f23645" fill-opacity="0.151"/>
<rect x="278" y="373" width="11" height="1" fill="#f23645" fill-opacity="0.151"/>
<rect x="278" y="360" width="1" height="14" fill="#f23645" fill-opacity="0.842"/>
<rect x="289" y="360" width="11" height="14" fill="#f23645" fill-opacity="0.588"/>
<rect x="289" y="360" width="11" height="1" fill="#f23645" fill-opacity="0.147"/>
<rect x="289" y="373" width="11" height="1" fill="#f23645" fill-opacity="0.147"/>
<rect x="289" y="360" width="1" height="14" fill="#f23645" fill-opacity="0.831"/>
<rect x="300" y="360" width="11" height="14" fill="#f23645" fill-opacity="0.574"/>
<rect x="300" y="360" width="11" height="1" fill="#f23645" fill-opacity="0.144"/>
<rect x="300" y="373" width="11" height="1" fill="#f23645" fill-opacity="0.144"/>
<rect x="300" y="360" width="1" height="14" fill="#f23645" fill-opacity="0.819"/>
<rect x="311" y="360" width="11" height="14" fill="#f23645" fill-opacity="0.560"/>
<rect x="311" y="360" width="11" height="1" fill="#f23645" fill-opacity="0.140"/>
<rect x="311" y="373" width="11" height="1" fill="#f23645" fill-opacity="0.140"/>
<rect x="311" y="360" width="1" height="14" fill="#f23645" fill-opacity="0.807"/>
<rect x="322" y="360" width="11" height="14" fill="#f23645" fill-opacity="0.546"/>
<rect x="322" y="360" width="11" height="1" fill="#f23645" fill-opacity="0.137"/>
<rect x="322" y="373" width="11" height="1" fill="#f23645" fill-opacity="0.137"/>
<rect x="322" y="360" width="1" height="14" fill="#f23645" fill-opacity="0.794"/>
<rect x="333" y="360" width="11" height="14" fill="#f23645" fill-opacity="0.532"/>
<rect x="333" y="360" width="11" height="1" fill="#f23645" fill-opacity="0.133"/>
<rect x="333" y="373" width="11" height="1" fill="#f23645" fill-opacity="0.133"/>
<rect x="333" y="360" width="1" height="14" fill="#f23645" fill-opacity="0.781"/>
<rect x="344" y="360" width="11" height="14" fill="#f23645" fill-opacity="0.519"/>
<rect x="344" y="360" width="11" height="1" fill="#f23645" fill-opacity="0.130"/>
<rect x="344" y="373" width="11" height="1" fill="#f23645" fill-opacity="0.130"/>
<rect x="344" y="360" width="1" height="14" fill="#f23645" fill-opacity="0.768"/>
<rect x="355" y="360" width="11" height="14" fill="#f23645" fill-opacity="0.505"/>
<rect x="355" y="360" width="11" height="1" fill="#f23645" fill-opacity="0.126"/>
<rect x="355" y="373" width="11" height="1" fill="#f23645" fill-opacity="0.126"/>
<rect x="355" y="360" width="1" height="14" fill="#f23645" fill-opacity="0.755"/>
<rect x="366" y="360" width="11" height="14" fill="#f23645" fill-opacity="0.491"/>
<rect x="366" y="360" width="11" height="1" fill="#f23645" fill-opacity="0.123"/>
<rect x="366" y="373" width="11" height="1" fill="#f23645" fill-opacity="0.123"/>
<rect x="366" y="360" width="1" height="14" fill="#f23645" fill-opacity="0.741"/>
<rect x="377" y="360" width="10" height="14" fill="#f23645" fill-opacity="0.477"/>
<rect x="377" y="360" width="10" height="1" fill="#f23645" fill-opacity="0.119"/>
<rect x="377" y="373" width="10" height="1" fill="#f23645" fill-opacity="0.119"/>
<rect x="377" y="360" width="1" height="14" fill="#f23645" fill-opacity="0.726"/>
<rect x="387" y="360" width="11" height="14" fill="#f23645" fill-opacity="0.463"/>
<rect x="387" y="360" width="11" height="1" fill="#f23645" fill-opacity="0.116"/>
<rect x="387" y="373" width="11" height="1" fill="#f23645" fill-opacity="0.116"/>
<rect x="387" y="360" width="1" height="14" fill="#f23645" fill-opacity="0.711"/>
<rect x="398" y="360" width="11" height="14" fill="#f23645" fill-opacity="0.449"/>
<rect x="398" y="360" width="11" height="1" fill="#f23645" fill-opacity="0.112"/>
<rect x="398" y="373" width="11" height="1" fill="#f23645" fill-opacity="0.112"/>
<rect x="398" y="360" width="1" height="14" fill="#f23645" fill-opacity="0.696"/>
<rect x="409" y="360" width="11" height="14" fill="#f23645" fill-opacity="0.435"/>
<rect x="409" y="360" width="11" height="1" fill="#f23645" fill-opacity="0.109"/>
<rect x="409" y="373" width="11" height="1" fill="#f23645" fill-opacity="0.109"/>
<rect x="409" y="360" width="1" height="14" fill="#f23645" fill-opacity="0.681"/>
<rect x="420" y="360" width="11" height="14" fill="#f23645" fill-opacity="0.421"/>
<rect x="420" y="360" width="11" height="1" fill="#f23645" fill-opacity="0.105"/>
<rect x="420" y="373" width="11" height="1" fill="#f23645" fill-opacity="0.105"/>
<rect x="420" y="360" width="1" height="14" fill="#f23645" fill-opacity="0.665"/>
<rect x="431" y="360" width="11" height="14" fill="#f23645" fill-opacity="0.407"/>
<rect x="431" y="360" width="11" height="1" fill="#f23645" fill-opacity="0.102"/>
<rect x="431" y="373" width="11" height="1" fill="#f23645" fill-opacity="0.102"/>
<rect x="431" y="360" width="1" height="14" fill="#f23645" fill-opacity="0.648"/>
<rect x="442" y="360" width="11" height="14" fill="#f23645" fill-opacity="0.393"/>
<rect x="442" y="360" width="11" height="1" fill="#f23645" fill-opacity="0.098"/>
<rect x="442" y="373" width="11" height="1" fill="#f23645" fill-opacity="0.098"/>
<rect x="442" y="360" width="1" height="14" fill="#f23645" fill-opacity="0.631"/>
<rect x="453" y="360" width="11" height="14" fill="#f23645" fill-opacity="0.379"/>
<rect x="453" y="360" width="11" height="1" fill="#f23645" fill-opacity="0.095"/>
<rect x="453" y="373" width="11" height="1" fill="#f23645" fill-opacity="0.095"/>
<rect x="453" y="360" width="1" height="14" fill="#f23645" fill-opacity="0.614"/>
<rect x="464" y="360" width="11" height="14" fill="#f23645" fill-opacity="0.365"/>
<rect x="464" y="360" width="11" height="1" fill="#f23645" fill-opacity="0.091"/>
<rect x="464" y="373" width="11" height="1" fill="#f23645" fill-opacity="0.091"/>
<rect x="464" y="360" width="1" height="14" fill="#f23645" fill-opacity="0.597"/>
<rect x="475" y="360" width="11" height="14" fill="#f23645" fill-opacity="0.351"/>
<rect x="475" y="360" width="11" height="1" fill="#f23645" fill-opacity="0.088"/>
<rect x="475" y="373" width="11" height="1" fill="#f23645" fill-opacity="0.088"/>
<rect x="475" y="360" width="1" height="14" fill="#f23645" fill-opacity="0.579"/>
<rect x="486" y="360" width="11" height="14" fill="#f23645" fill-opacity="0.337"/>
<rect x="486" y="360" width="11" height="1" fill="#f23645" fill-opacity="0.084"/>
<rect x="486" y="373" width="11" height="1" fill="#f23645" fill-opacity="0.084"/>
<rect x="486" y="360" width="1" height="14" fill="#f23645" fill-opacity="0.561"/>
<rect x="497" y="360" width="10" height="14" fill="#f23645" fill-opacity="0.323"/>
<rect x="497" y="360" width="10" height="1" fill="#f23645" fill-opacity="0.081"/>
<rect x="497" y="373" width="10" height="1" fill="#f23645" fill-opacity="0.081"/>
<rect x="497" y="360" width="1" height="14" fill="#f23645" fill-opacity="0.542"/>
<rect x="507" y="360" width="11" height="14" fill="#f23645" fill-opacity="0.309"/>
<rect x="507" y="360" width="11" height="1" fill="#f23645" fill-opacity="0.077"/>
<rect x="507" y="373" width="11" height="1" fill="#f23645" fill-opacity="0.077"/>
<rect x="507" y="360" width="1" height="14" fill="#f23645" fill-opacity="0.523"/>
<rect x="518" y="360" width="11" height="14" fill="#f23645" fill-opacity="0.295"/>
<rect x="518" y="360" width="11" height="1" fill="#f23645" fill-opacity="0.074"/>
<rect x="518" y="373" width="11" height="1" fill="#f23645" fill-opacity="0.074"/>
<rect x="518" y="360" width="1" height="14" fill="#f23645" fill-opacity="0.503"/>
<rect x="529" y="360" width="11" height="14" fill="#f23645" fill-opacity="0.281"/>
<rect x="529" y="360" width="11" height="1" fill="#f23645" fill-opacity="0.070"/>
<rect x="529" y="373" width="11" height="1" fill="#f23645" fill-opacity="0.070"/>
<rect x="529" y="360" width="1" height="14" fill="#f23645" fill-opacity="0.483"/>
<rect x="540" y="360" width="11" height="14" fill="#f23645" fill-opacity="0.267"/>
<rect x="540" y="360" width="11" height="1" fill="#f23645" fill-opacity="0.067"/>
<rect x="540" y="373" width="11" height="1" fill="#f23645" fill-opacity="0.067"/>
<rect x="540" y="360" width="1" height="14" fill="#f23645" fill-opacity="0.463"/>
<rect x="551" y="360" width="11" height="14" fill="#f23645" fill-opacity="0.253"/>
<rect x="551" y="360" width="11" height="1" fill="#f23645" fill-opacity="0.063"/>
<rect x="551" y="373" width="11" height="1" fill="#f23645" fill-opacity="0.063"/>
<rect x="551" y="360" width="1" height="14" fill="#f23645" fill-opacity="0.442"/>
<rect x="562" y="360" width="11" height="14" fill="#f23645" fill-opacity="0.239"/>
<rect x="562" y="360" width="11" height="1" fill="#f23645" fill-opacity="0.060"/>
<rect x="562" y="373" width="11" height="1" fill="#f23645" fill-opacity="0.060"/>
<rect x="562" y="360" width="1" height="14" fill="#f23645" fill-opacity="0.421"/>
<rect x="573" y="360" width="11" height="14" fill="#f23645" fill-opacity="0.225"/>
<rect x="573" y="360" width="11" height="1" fill="#f23645" fill-opacity="0.056"/>
<rect x="573" y="373" width="11" height="1" fill="#f23645" fill-opacity="0.056"/>
<rect x="573" y="360" width="1" height="14" fill="#f23645" fill-opacity="0.400"/>
<rect x="584" y="360" width="11" height="14" fill="#f23645" fill-opacity="0.211"/>
<rect x="584" y="360" width="11" height="1" fill="#f23645" fill-opacity="0.053"/>
<rect x="584" y="373" width="11" height="1" fill="#f23645" fill-opacity="0.053"/>
<rect x="584" y="360" width="1" height="14" fill="#f23645" fill-opacity="0.378"/>
<rect x="595" y="360" width="11" height="14" fill="#f23645" fill-opacity="0.198"/>
<rect x="595" y="360" width="11" height="1" fill="#f23645" fill-opacity="0.049"/>
<rect x="595" y="373" width="11" height="1" fill="#f23645" fill-opacity="0.049"/>
<rect x="595" y="360" width="1" height="14" fill="#f23645" fill-opacity="0.356"/>
<rect x="606" y="360" width="11" height="14" fill="#f23645" fill-opacity="0.184"/>
<rect x="606" y="360" width="11" height="1" fill="#f23645" fill-opacity="0.046"/>
<rect x="606" y="373" width="11" height="1" fill="#f23645" fill-opacity="0.046"/>
<rect x="606" y="360" width="1" height="14" fill="#f23645" fill-opacity="0.333"/>
<rect x="617" y="360" width="10" height="14" fill="#f23645" fill-opacity="0.170"/>
<rect x="617" y="360" width="10" height="1" fill="#f23645" fill-opacity="0.042"/>
<rect x="617" y="373" width="10" height="1" fill="#f23645" fill-opacity="0.042"/>
<rect x="617" y="360" width="1" height="14" fill="#f23645" fill-opacity="0.310"/>
<rect x="627" y="360" width="11" height="14" fill="#f23645" fill-opacity="0.156"/>
<rect x="627" y="360" width="11" height="1" fill="#f23645" fill-opacity="0.039"/>
<rect x="627" y="373" width="11" height="1" fill="#f23645" fill-opacity="0.039"/>
<rect x="627" y="360" width="1" height="14" fill="#f23645" fill-opacity="0.287"/>
<rect x="638" y="360" width="11" height="14" fill="#f23645" fill-opacity="0.142"/>
<rect x="638" y="360" width="11" height="1" fill="#f23645" fill-opacity="0.035"/>
<rect x="638" y="373" width="11" height="1" fill="#f23645" fill-opacity="0.035"/>
<rect x="638" y="360" width="1" height="14" fill="#f23645" fill-opacity="0.263"/>
<rect x="649" y="360" width="11" height="14" fill="#f23645" fill-opacity="0.128"/>
<rect x="649" y="360" width="11" height="1" fill="#f23645" fill-opacity="0.032"/>
<rect x="649" y="373" width="11" height="1" fill="#f23645" fill-opacity="0.032"/>
<rect x="649" y="360" width="1" height="14" fill="#f23645" fill-opacity="0.239"/>
<rect x="660" y="360" width="11" height="14" fill="#f23645" fill-opacity="0.114"/>
<rect x="660" y="360" width="11" height="1" fill="#f23645" fill-opacity="0.028"/>
<rect x="660" y="373" width="11" height="1" fill="#f23645" fill-opacity="0.028"/>
<rect x="660" y="360" width="1" height="14" fill="#f23645" fill-opacity="0.215"/>
<rect x="671" y="360" width="11" height="14" fill="#f23645" fill-opacity="0.100"/>
<rect x="671" y="360" width="11" height="1" fill="#f23645" fill-opacity="0.025"/>
<rect x="671" y="373" width="11" height="1" fill="#f23645" fill-opacity="0.025"/>
<rect x="671" y="360" width="1" height="14" fill="#f23645" fill-opacity="0.190"/>
<rect x="682" y="360" width="11" height="14" fill="#f23645" fill-opacity="0.086"/>
<rect x="682" y="360" width="11" height="1" fill="#f23645" fill-opacity="0.021"/>
<rect x="682" y="373" width="11" height="1" fill="#f23645" fill-opacity="0.021"/>
<rect x="682" y="360" width="1" height="14" fill="#f23645" fill-opacity="0.164"/>
<rect x="693" y="360" width="11" height="14" fill="#f23645" fill-opacity="0.072"/>
<rect x="693" y="360" width="11" height="1" fill="#f23645" fill-opacity="0.018"/>
<rect x="693" y="373" width="11" height="1" fill="#f23645" fill-opacity="0.018"/>
<rect x="693" y="360" width="1" height="14" fill="#f23645" fill-opacity="0.139"/>
<rect x="704" y="360" width="11" height="14" fill="#f23645" fill-opacity="0.058"/>
<rect x="704" y="360" width="11" height="1" fill="#f23645" fill-opacity="0.014"/>
<rect x="704" y="373" width="11" height="1" fill="#f23645" fill-opacity="0.014"/>
<rect x="704" y="360" width="1" height="14" fill="#f23645" fill-opacity="0.112"/>
<rect x="715" y="360" width="11" height="14" fill="#f23645" fill-opacity="0.044"/>
<rect x="715" y="360" width="11" height="1" fill="#f23645" fill-opacity="0.011"/>
<rect x="715" y="373" width="11" height="1" fill="#f23645" fill-opacity="0.011"/>
<rect x="715" y="360" width="1" height="14" fill="#f23645" fill-opacity="0.086"/>
<rect x="726" y="360" width="11" height="14" fill="#f23645" fill-opacity="0.030"/>
<rect x="726" y="360" width="11" height="1" fill="#f23645" fill-opacity="0.008"/>
<rect x="726" y="373" width="11" height="1" fill="#f23645" fill-opacity="0.008"/>
<rect x="726" y="360" width="1" height="14" fill="#f23645" fill-opacity="0.059"/>
<rect x="202" y="497" width="11" height="14" fill="#f23645" fill-opacity="0.700"/>
<rect x="202" y="497" width="11" height="1" fill="#f23645" fill-opacity="0.175"/>
<rect x="202" y="510" width="11" height="1" fill="#f23645" fill-opacity="0.175"/>
<rect x="213" y="497" width="11" height="14" fill="#f23645" fill-opacity="0.686"/>
<rect x="213" y="497" width="11" height="1" fill="#f23645" fill-opacity="0.172"/>
<rect x="213" y="510" width="11" height="1" fill="#f23645" fill-opacity="0.172"/>
<rect x="213" y="497" width="1" height="14" fill="#f23645" fill-opacity="0.901"/>
<rect x="224" y="497" width="11" height="14" fill="#f23645" fill-opacity="0.672"/>
<rect x="224" y="497" width="11" height="1" fill="#f23645" fill-opacity="0.168"/>
<rect x="224" y="510" width="11" height="1" fill="#f23645" fill-opacity="0.168"/>
<rect x="224" y="497" width="1" height="14" fill="#f23645" fill-opacity="0.892"/>
<rect x="235" y="497" width="11" height="14" fill="#f23645" fill-opacity="0.658"/>
<rect x="235" y="497" width="11" height="1" fill="#f23645" fill-opacity="0.165"/>
<rect x="235" y="510" width="11" height="1" fill="#f23645" fill-opacity="0.165"/>
<rect x="235" y="497" width="1" height="14" fill="#f23645" fill-opacity="0.883"/>
<rect x="246" y="497" width="11" height="14" fill="#f23645" fill-opacity="0.644"/>
<rect x="246" y="497" width="11" height="1" fill="#f23645" fill-opacity="0.161"/>
<rect x="246" y="510" width="11" height="1" fill="#f23645" fill-opacity="0.161"/>
<rect x="246" y="497" width="1" height="14" fill="#f23645" fill-opacity="0.873"/>
<rect x="257" y="497" width="10" height="14" fill="#f23645" fill-opacity="0.630"/>
<rect x="257" y="497" width="10" height="1" fill="#f23645" fill-opacity="0.158"/>
<rect x="257" y="510" width="10" height="1" fill="#f23645" fill-opacity="0.158"/>
<rect x="257" y="497" width="1" height="14" fill="#f23645" fill-opacity="0.863"/>
<rect x="267" y="497" width="11" height="14" fill="#f23645" fill-opacity="0.616"/>
<rect x="267" y="497" width="11" height="1" fill="#f23645" fill-opacity="0.154"/>
<rect x="267" y="510" width="11" height="1" fill="#f23645" fill-opacity="0.154"/>
<rect x="267" y="497" width="1" height="14" fill="#f23645" fill-opacity="0.853"/>
<rect x="278" y="497" width="11" height="14" fill="#f23645" fill-opacity="0.602"/>
<rect x="278" y="497" width="11" height="1" fill="#f23645" fill-opacity="0.151"/>
<rect x="278" y="510" width="11" height="1" fill="#f23645" fill-opacity="0.151"/>
<rect x="278" y="497" width="1" height="14" fill="#f23645" fill-opacity="0.842"/>
<rect x="289" y="497" width="11" height="14" fill="#f23645" fill-opacity="0.588"/>
<rect x="289" y="497" width="11" height="1" fill="#f23645" fill-opacity="0.147"/>
<rect x="289" y="510" width="11" height="1" fill="#f23645" fill-opacity="0.147"/>
<rect x="289" y="497" width="1" height="14" fill="#f23645" fill-opacity="0.831"/>
<rect x="300" y="497" width="11" height="14" fill="#f23645" fill-opacity="0.574"/>
<rect x="300" y="497" width="11" height="1" fill="#f23645" fill-opacity="0.144"/>
<rect x="300" y="510" width="11" height="1" fill="#f23645" fill-opacity="0.144"/>
<rect x="300" y="497" width="1" height="14" fill="#f23645" fill-opacity="0.819"/>
<rect x="311" y="497" width="11" height="14" fill="#f23645" fill-opacity="0.560"/>
<rect x="311" y="497" width="11" height="1" fill="#f23645" fill-opacity="0.140"/>
<rect x="311" y="510" width="11" height="1" fill="#f23645" fill-opacity="0.140"/>
<rect x="311" y="497" width="1" height="14" fill="#f23645" fill-opacity="0.807"/>
<rect x="322" y="497" width="11" height="14" fill="#f23645" fill-opacity="0.546"/>
<rect x="322" y="497" width="11" height="1" fill="#f23645" fill-opacity="0.137"/>
<rect x="322" y="510" width="11" height="1" fill="#f23645" fill-opacity="0.137"/>
<rect x="322" y="497" width="1" height="14" fill="#f23645" fill-opacity="0.794"/>
<rect x="333" y="497" width="11" height="14" fill="#f23645" fill-opacity="0.532"/>
<rect x="333" y="497" width="11" height="1" fill="#f23645" fill-opacity="0.133"/>
<rect x="333" y="510" width="11" height="1" fill="#f23645" fill-opacity="0.133"/>
<rect x="333" y="497" width="1" height="14" fill="#f23645" fill-opacity="0.781"/>
<rect x="344" y="497" width="11" height="14" fill="#f23645" fill-opacity="0.519"/>
<rect x="344" y="497" width="11" height="1" fill="#f23645" fill-opacity="0.130"/>
<rect x="344" y="510" width="11" height="1" fill="#f23645" fill-opacity="0.130"/>
<rect x="344" y="497" width="1" height="14" fill="#f23645" fill-opacity="0.768"/>
<rect x="355" y="497" width="11" height="14" fill="#f23645" fill-opacity="0.505"/>
<rect x="355" y="497" width="11" height="1" fill="#f23645" fill-opacity="0.126"/>
<rect x="355" y="510" width="11" height="1" fill="#f23645" fill-opacity="0.126"/>
<rect x="355" y="497" width="1" height="14" fill="#f23645" fill-opacity="0.755"/>
<rect x="366" y="497" width="11" height="14" fill="#f23645" fill-opacity="0.491"/>
<rect x="366" y="497" width="11" height="1" fill="#f23645" fill-opacity="0.123"/>
<rect x="366" y="510" width="11" height="1" fill="#f23645" fill-opacity="0.123"/>
<rect x="366" y="497" width="1" height="14" fill="#f23645" fill-opacity="0.741"/>
<rect x="377" y="497" width="10" height="14" fill="#f23645" fill-opacity="0.477"/>
<rect x="377" y="497" width="10" height="1" fill="#f23645" fill-opacity="0.119"/>
<rect x="377" y="510" width="10" height="1" fill="#f23645" fill-opacity="0.119"/>
<rect x="377" y="497" width="1" height="14" fill="#f23645" fill-opacity="0.726"/>
<rect x="387" y="497" width="11" height="14" fill="#f23645" fill-opacity="0.463"/>
<rect x="387" y="497" width="11" height="1" fill="#f23645" fill-opacity="0.116"/>
<rect x="387" y="510" width="11" height="1" fill="#f23645" fill-opacity="0.116"/>
<rect x="387" y="497" width="1" height="14" fill="#f23645" fill-opacity="0.711"/>
<rect x="398" y="497" width="11" height="14" fill="#f23645" fill-opacity="0.449"/>
<rect x="398" y="497" width="11" height="1" fill="#f23645" fill-opacity="0.112"/>
<rect x="398" y="510" width="11" height="1" fill="#f23645" fill-opacity="0.112"/>
<rect x="398" y="497" width="1" height="14" fill="#f23645" fill-opacity="0.696"/>
<rect x="409" y="497" width="11" height="14" fill="#f23645" fill-opacity="0.435"/>
<rect x="409" y="497" width="11" height="1" fill="#f23645" fill-opacity="0.109"/>
<rect x="409" y="510" width="11" height="1" fill="#f23645" fill-opacity="0.109"/>
<rect x="409" y="497" width="1" height="14" fill="#f23645" fill-opacity="0.681"/>
<rect x="420" y="497" width="11" height="14" fill="#f23645" fill-opacity="0.421"/>
<rect x="420" y="497" width="11" height="1" fill="#f23645" fill-opacity="0.105"/>
<rect x="420" y="510" width="11" height="1" fill="#f23645" fill-opacity="0.105"/>
<rect x="420" y="497" width="1" height="14" fill="#f23645" fill-opacity="0.665"/>
<rect x="431" y="497" width="11" height="14" fill="#f23645" fill-opacity="0.407"/>
<rect x="431" y="497" width="11" height="1" fill="#f23645" fill-opacity="0.102"/>
<rect x="431" y="510" width="11" height="1" fill="#f23645" fill-opacity="0.102"/>
<rect x="431" y="497" width="1" height="14" fill="#f23645" fill-opacity="0.648"/>
<rect x="442" y="497" width="11" height="14" fill="#f23645" fill-opacity="0.393"/>
<rect x="442" y="497" width="11" height="1" fill="#f23645" fill-opacity="0.098"/>
<rect x="442" y="510" width="11" height="1" fill="#f23645" fill-opacity="0.098"/>
<rect x="442" y="497" width="1" height="14" fill="#f23645" fill-opacity="0.631"/>
<rect x="453" y="497" width="11" height="14" fill="#f23645" fill-opacity="0.379"/>
<rect x="453" y="497" width="11" height="1" fill="#f23645" fill-opacity="0.095"/>
<rect x="453" y="510" width="11" height="1" fill="#f23645" fill-opacity="0.095"/>
<rect x="453" y="497" width="1" height="14" fill="#f23645" fill-opacity="0.614"/>
<rect x="464" y="497" width="11" height="14" fill="#f23645" fill-opacity="0.365"/>
<rect x="464" y="497" width="11" height="1" fill="#f23645" fill-opacity="0.091"/>
<rect x="464" y="510" width="11" height="1" fill="#f23645" fill-opacity="0.091"/>
<rect x="464" y="497" width="1" height="14" fill="#f23645" fill-opacity="0.597"/>
<rect x="475" y="497" width="11" height="14" fill="#f23645" fill-opacity="0.351"/>
<rect x="475" y="497" width="11" height="1" fill="#f23645" fill-opacity="0.088"/>
<rect x="475" y="510" width="11" height="1" fill="#f23645" fill-opacity="0.088"/>
<rect x="475" y="497" width="1" height="14" fill="#f23645" fill-opacity="0.579"/>
<rect x="486" y="497" width="11" height="14" fill="#f23645" fill-opacity="0.337"/>
<rect x="486" y="497" width="11" height="1" fill="#f23645" fill-opacity="0.084"/>
<rect x="486" y="510" width="11" height="1" fill="#f23645" fill-opacity="0.084"/>
<rect x="486" y="497" width="1" height="14" fill="#f23645" fill-opacity="0.561"/>
<rect x="497" y="497" width="10" height="14" fill="#f23645" fill-opacity="0.323"/>
<rect x="497" y="497" width="10" height="1" fill="#f23645" fill-opacity="0.081"/>
<rect x="497" y="510" width="10" height="1" fill="#f23645" fill-opacity="0.081"/>
<rect x="497" y="497" width="1" height="14" fill="#f23645" fill-opacity="0.542"/>
<rect x="507" y="497" width="11" height="14" fill="#f23645" fill-opacity="0.309"/>
<rect x="507" y="497" width="11" height="1" fill="#f23645" fill-opacity="0.077"/>
<rect x="507" y="510" width="11" height="1" fill="#f23645" fill-opacity="0.077"/>
<rect x="507" y="497" width="1" height="14" fill="#f23645" fill-opacity="0.523"/>
<rect x="518" y="497" width="11" height="14" fill="#f23645" fill-opacity="0.295"/>
<rect x="518" y="497" width="11" height="1" fill="#f23645" fill-opacity="0.074"/>
<rect x="518" y="510" width="11" height="1" fill="#f23645" fill-opacity="0.074"/>
<rect x="518" y="497" width="1" height="14" fill="#f23645" fill-opacity="0.503"/>
<rect x="529" y="497" width="11" height="14" fill="#f23645" fill-opacity="0.281"/>
<rect x="529" y="497" width="11" height="1" fill="#f23645" fill-opacity="0.070"/>
<rect x="529" y="510" width="11" height="1" fill="#f23645" fill-opacity="0.070"/>
<rect x="529" y="497" width="1" height="14" fill="#f23645" fill-opacity="0.483"/>
<rect x="540" y="497" width="11" height="14" fill="#f23645" fill-opacity="0.267"/>
<rect x="540" y="497" width="11" height="1" fill="#f23645" fill-opacity="0.067"/>
<rect x="540" y="510" width="11" height="1" fill="#f23645" fill-opacity="0.067"/>
<rect x="540" y="497" width="1" height="14" fill="#f23645" fill-opacity="0.463"/>
<rect x="551" y="497" width="11" height="14" fill="#f23645" fill-opacity="0.253"/>
<rect x="551" y="497" width="11" height="1" fill="#f23645" fill-opacity="0.063"/>
<rect x="551" y="510" width="11" height="1" fill="#f23645" fill-opacity="0.063"/>
<rect x="551" y="497" width="1" height="14" fill="#f23645" fill-opacity="0.442"/>
<rect x="562" y="497" width="11" height="14" fill="#f23645" fill-opacity="0.239"/>
<rect x="562" y="497" width="11" height="1" fill="#f23645" fill-opacity="0.060"/>
<rect x="562" y="510" width="11" height="1" fill="#f23645" fill-opacity="0.060"/>
<rect x="562" y="497" width="1" height="14" fill="#f23645" fill-opacity="0.421"/>
<rect x="573" y="497" width="11" height="14" fill="#f23645" fill-opacity="0.225"/>
<rect x="573" y="497" width="11" height="1" fill="#f23645" fill-opacity="0.056"/>
<rect x="573" y="510" width="11" height="1" fill="#f23645" fill-opacity="0.056"/>
<rect x="573" y="497" width="1" height="14" fill="#f23645" fill-opacity="0.400"/>
<rect x="584" y="497" width="11" height="14" fill="#f23645" fill-opacity="0.211"/>
<rect x="584" y="497" width="11" height="1" fill="#f23645" fill-opacity="0.053"/>
<rect x="584" y="510" width="11" height="1" fill="#f23645" fill-opacity="0.053"/>
<rect x="584" y="497" width="1" height="14" fill="#f23645" fill-opacity="0.378"/>
<rect x="595" y="497" width="11" height="14" fill="#f23645" fill-opacity="0.198"/>
<rect x="595" y="497" width="11" height="1" fill="#f23645" fill-opacity="0.049"/>
<rect x="595" y="510" width="11" height="1" fill="#f23645" fill-opacity="0.049"/>
<rect x="595" y="497" width="1" height="14" fill="#f23645" fill-opacity="0.356"/>
<rect x="606" y="497" width="11" height="14" fill="#f23645" fill-opacity="0.184"/>
<rect x="606" y="497" width="11" height="1" fill="#f23645" fill-opacity="0.046"/>
<rect x="606" y="510" width="11" height="1" fill="#f23645" fill-opacity="0.046"/>
<rect x="606" y="497" width="1" height="14" fill="#f23645" fill-opacity="0.333"/>
<rect x="617" y="497" width="10" height="14" fill="#f23645" fill-opacity="0.170"/>
<rect x="617" y="497" width="10" height="1" fill="#f23645" fill-opacity="0.042"/>
<rect x="617" y="510" width="10" height="1" fill="#f23645" fill-opacity="0.042"/>
<rect x="617" y="497" width="1" height="14" fill="#f23645" fill-opacity="0.310"/>
<rect x="627" y="497" width="11" height="14" fill="#f23645" fill-opacity="0.156"/>
<rect x="627" y="497" width="11" height="1" fill="#f23645" fill-opacity="0.039"/>
<rect x="627" y="510" width="11" height="1" fill="#f23645" fill-opacity="0.039"/>
<rect x="627" y="497" width="1" height="14" fill="#f23645" fill-opacity="0.287"/>
<rect x="638" y="497" width="11" height="14" fill="#f23645" fill-opacity="0.142"/>
<rect x="638" y="497" width="11" height="1" fill="#f23645" fill-opacity="0.035"/>
<rect x="638" y="510" width="11" height="1" fill="#f23645" fill-opacity="0.035"/>
<rect x="638" y="497" width="1" height="14" fill="#f23645" fill-opacity="0.263"/>
<rect x="649" y="497" width="11" height="14" fill="#f23645" fill-opacity="0.128"/>
<rect x="649" y="497" width="11" height="1" fill="#f23645" fill-opacity="0.032"/>
<rect x="649" y="510" width="11" height="1" fill="#f23645" fill-opacity="0.032"/>
<rect x="649" y="497" width="1" height="14" fill="#f23645" fill-opacity="0.239"/>
<rect x="660" y="497" width="11" height="14" fill="#f23645" fill-opacity="0.114"/>
<rect x="660" y="497" width="11" height="1" fill="#f23645" fill-opacity="0.028"/>
<rect x="660" y="510" width="11" height="1" fill="#f23645" fill-opacity="0.028"/>
<rect x="660" y="497" width="1" height="14" fill="#f23645" fill-opacity="0.215"/>
<rect x="671" y="497" width="11" height="14" fill="#f23645" fill-opacity="0.100"/>
<rect x="671" y="497" width="11" height="1" fill="#f23645" fill-opacity="0.025"/>
<rect x="671" y="510" width="11" height="1" fill="#f23645" fill-opacity="0.025"/>
<rect x="671" y="497" width="1" height="14" fill="#f23645" fill-opacity="0.190"/>
<rect x="682" y="497" width="11" height="14" fill="#f23645" fill-opacity="0.086"/>
<rect x="682" y="497" width="11" height="1" fill="#f23645" fill-opacity="0.021"/>
<rect x="682" y="510" width="11" height="1" fill="#f23645" fill-opacity="0.021"/>
<rect x="682" y="497" width="1" height="14" fill="#f23645" fill-opacity="0.164"/>
<rect x="693" y="497" width="11" height="14" fill="#f23645" fill-opacity="0.072"/>
<rect x="693" y="497" width="11" height="1" fill="#f23645" fill-opacity="0.018"/>
<rect x="693" y="510" width="11" height="1" fill="#f23645" fill-opacity="0.018"/>
<rect x="693" y="497" width="1" height="14" fill="#f23645" fill-opacity="0.139"/>
<rect x="704" y="497" width="11" height="14" fill="#f23645" fill-opacity="0.058"/>
<rect x="704" y="497" width="11" height="1" fill="#f23645" fill-opacity="0.014"/>
<rect x="704" y="510" width="11" height="1" fill="#f23645" fill-opacity="0.014"/>
<rect x="704" y="497" width="1" height="14" fill="#f23645" fill-opacity="0.112"/>
<rect x="715" y="497" width="11" height="14" fill="#f23645" fill-opacity="0.044"/>
<rect x="715" y="497" width="11" height="1" fill="#f23645" fill-opacity="0.011"/>
<rect x="715" y="510" width="11" height="1" fill="#f23645" fill-opacity="0.011"/>
<rect x="715" y="497" width="1" height="14" fill="#f23645" fill-opacity="0.086"/>
<rect x="726" y="497" width="11" height="14" fill="#f23645" fill-opacity="0.030"/>
<rect x="726" y="497" width="11" height="1" fill="#f23645" fill-opacity="0.008"/>
<rect x="726" y="510" width="11" height="1" fill="#f23645" fill-opacity="0.008"/>
<rect x="726" y="497" width="1" height="14" fill="#f23645" fill-opacity="0.059"/>
</g>
<g id="L">
<path class="g" d="M202.5 245.5 213.4 245.9 224.3 263.5 235.2 256.4 246.1 264.1 256.9 269.0 267.8 269.1 278.7 275.7 289.6 271.6 300.5 271.3 311.4 272.0 322.3 266.6 333.2 270.5 344.1 255.8 355.0 261.0 365.9 276.8 376.7 272.8 387.6 268.4 398.5 290.2 409.4 299.6 420.3 304.8 431.2 307.3 442.1 324.1 453.0 321.3 463.9 325.1 474.8 326.7 485.6 316.3 496.5 326.0 507.4 326.9 518.3 325.2 529.2 322.4 540.1 332.1 551.0 339.2 561.9 346.7 572.8 357.4 583.7 377.0 594.5 372.0 605.4 380.0 616.3 384.9 627.2 394.6 638.1 385.6 649.0 386.3 659.9 399.0 670.8 389.3 681.7 388.1 692.5 373.0 703.4 367.4 714.3 364.7 725.2 372.0 736.1 376.1 747.0 367.0"/>
<path class="g" d="M202.5 245.5 213.4 254.9 224.3 275.1 235.2 239.6 246.1 252.5 256.9 264.3 267.8 249.8 278.7 211.1 289.6 220.2 300.5 225.3 311.4 221.7 322.3 210.8 333.2 219.7 344.1 227.4 355.0 227.4 365.9 222.0 376.7 224.3 387.6 211.5 398.5 198.7 409.4 200.6 420.3 218.1 431.2 222.3 442.1 225.8 453.0 227.1 463.9 222.2 474.8 206.9 485.6 225.0 496.5 226.1 507.4 215.3 518.3 203.5 529.2 199.3 540.1 205.3 551.0 196.3 561.9 191.2 572.8 198.9 583.7 204.4 594.5 207.2 605.4 204.5 616.3 221.2 627.2 232.9 638.1 223.6 649.0 229.8 659.9 233.1 670.8 248.9 681.7 264.2 692.5 277.8 703.4 283.6 714.3 303.6 725.2 304.2 736.1 312.6 747.0 309.6"/>
<path class="g" d="M202.5 245.5 213.4 242.4 224.3 246.2 235.2 253.3 246.1 255.6 256.9 252.3 267.8 274.7 278.7 271.8 289.6 269.5 300.5 269.5 311.4 254.7 322.3 257.9 333.2 249.7 344.1 235.1 355.0 252.2 365.9 246.7 376.7 243.6 387.6 233.0 398.5 221.7 409.4 219.9 420.3 211.2 431.2 209.3 442.1 221.9 453.0 228.4 463.9 224.6 474.8 223.8 485.6 223.9 496.5 233.2 507.4 223.5 518.3 218.1 529.2 212.9 540.1 216.8 551.0 211.6 561.9 227.9 572.8 242.9 583.7 249.7 594.5 240.2 605.4 231.3 616.3 228.5 627.2 219.4 638.1 220.5 649.0 224.0 659.9 222.5 670.8 215.0 681.7 212.4 692.5 203.6 703.4 203.0 714.3 206.4 725.2 198.7 736.1 208.2 747.0 207.9"/>
<path class="g" d="M202.5 245.5 213.4 253.1 224.3 245.9 235.2 247.6 246.1 240.4 256.9 245.1 267.8 238.0 278.7 247.5 289.6 240.6 300.5 238.3 311.4 251.1 322.3 253.3 333.2 254.1 344.1 253.2 355.0 256.5 365.9 249.2 376.7 241.0 387.6 252.4 398.5 252.6 409.4 254.5 420.3 254.6 431.2 255.8 442.1 264.9 453.0 266.8 463.9 266.3 474.8 261.9 485.6 263.7 496.5 272.6 507.4 269.1 518.3 266.3 529.2 275.8 540.1 278.0 551.0 286.9 561.9 279.6 572.8 274.6 583.7 267.4 594.5 271.2 605.4 260.4 616.3 265.1 627.2 265.5 638.1 269.9 649.0 276.9 659.9 284.9 670.8 268.1 681.7 273.5 692.5 282.8 703.4 280.7 714.3 286.7 725.2 292.4 736.1 299.0 747.0 291.9"/>
<path class="g" d="M202.5 245.5 213.4 250.7 224.3 256.5 235.2 237.8 246.1 259.9 256.9 250.2 267.8 236.1 278.7 234.0 289.6 231.0 300.5 224.5 311.4 231.1 322.3 222.9 333.2 246.5 344.1 251.0 355.0 225.5 365.9 223.8 376.7 238.0 387.6 248.6 398.5 268.7 409.4 271.8 420.3 273.0 431.2 278.1 442.1 298.5 453.0 307.1 463.9 302.2 474.8 310.9 485.6 284.3 496.5 255.1 507.4 228.6 518.3 220.5 529.2 244.6 540.1 229.7 551.0 255.1 561.9 233.8 572.8 228.6 583.7 219.3 594.5 230.8 605.4 227.1 616.3 215.2 627.2 192.4 638.1 187.7 649.0 197.2 659.9 206.7 670.8 243.4 681.7 260.6 692.5 265.1 703.4 282.9 714.3 293.0 725.2 293.2 736.1 268.0 747.0 289.5"/>
<path class="g" d="M202.5 245.5 213.4 225.2 224.3 228.3 235.2 224.2 246.1 237.5 256.9 239.7 267.8 206.6 278.7 198.8 289.6 198.2 300.5 189.3 311.4 199.8 322.3 227.3 333.2 240.4 344.1 254.9 355.0 255.8 365.9 270.1 376.7 270.0 387.6 278.9 398.5 282.8 409.4 267.4 420.3 267.3 431.2 282.5 442.1 287.2 453.0 292.3 463.9 287.2 474.8 293.5 485.6 294.1 496.5 296.6 507.4 280.0 518.3 270.4 529.2 274.8 540.1 254.1 551.0 260.0 561.9 252.0 572.8 292.9 583.7 302.8 594.5 327.2 605.4 313.3 616.3 287.4 627.2 285.4 638.1 292.2 649.0 277.6 659.9 285.5 670.8 318.8 681.7 320.6 692.5 327.3 703.4 321.8 714.3 320.8 725.2 287.3 736.1 296.5 747.0 298.3"/>
<path class="g" d="M202.5 245.5 213.4 252.0 224.3 255.0 235.2 257.2 246.1 238.5 256.9 225.9 267.8 224.8 278.7 221.1 289.6 226.5 300.5 226.5 311.4 226.7 322.3 231.8 333.2 239.8 344.1 250.9 355.0 259.5 365.9 268.5 376.7 268.1 387.6 262.8 398.5 283.7 409.4 279.0 420.3 293.9 431.2 312.7 442.1 290.8 453.0 281.1 463.9 255.6 474.8 260.6 485.6 250.3 496.5 260.3 507.4 241.6 518.3 250.0 529.2 257.4 540.1 228.9 551.0 218.6 561.9 223.8 572.8 223.0 583.7 254.6 594.5 227.1 605.4 226.3 616.3 226.9 627.2 224.5 638.1 234.8 649.0 229.7 659.9 215.3 670.8 221.1 681.7 220.4 692.5 240.0 703.4 221.1 714.3 206.5 725.2 215.8 736.1 207.6 747.0 209.7"/>
<path class="g" d="M202.5 245.5 213.4 244.2 224.3 227.6 235.2 216.2 246.1 235.6 256.9 224.7 267.8 229.1 278.7 248.1 289.6 245.9 300.5 255.2 311.4 245.7 322.3 239.6 333.2 231.8 344.1 224.5 355.0 217.3 365.9 213.7 376.7 213.6 387.6 218.6 398.5 218.3 409.4 231.8 420.3 245.4 431.2 247.2 442.1 237.6 453.0 240.9 463.9 260.2 474.8 266.7 485.6 260.2 496.5 261.3 507.4 256.9 518.3 276.0 529.2 273.3 540.1 298.3 551.0 289.4 561.9 292.5 572.8 291.9 583.7 294.0 594.5 301.3 605.4 298.3 616.3 299.2 627.2 321.5 638.1 347.6 649.0 347.3 659.9 350.4 670.8 350.1 681.7 353.4 692.5 350.2 703.4 352.4 714.3 342.9 725.2 335.7 736.1 332.6 747.0 346.1"/>
<path class="g" d="M202.5 245.5 213.4 240.5 224.3 240.5 235.2 253.2 246.1 257.0 256.9 262.3 267.8 242.5 278.7 251.7 289.6 251.0 300.5 273.3 311.4 285.1 322.3 299.9 333.2 292.2 344.1 286.3 355.0 294.2 365.9 306.5 376.7 323.6 387.6 305.2 398.5 314.6 409.4 337.1 420.3 346.2 431.2 360.0 442.1 321.1 453.0 319.6 463.9 333.9 474.8 322.6 485.6 305.0 496.5 294.7 507.4 294.3 518.3 284.3 529.2 286.0 540.1 268.7 551.0 259.1 561.9 273.1 572.8 281.5 583.7 265.2 594.5 261.0 605.4 254.7 616.3 249.0 627.2 256.2 638.1 251.5 649.0 224.2 659.9 218.1 670.8 194.4 681.7 205.1 692.5 216.0 703.4 193.3 714.3 194.8 725.2 196.6 736.1 187.6 747.0 188.5"/>
<path class="g" d="M202.5 245.5 213.4 237.8 224.3 229.8 235.2 221.8 246.1 217.3 256.9 222.4 267.8 220.2 278.7 226.9 289.6 225.9 300.5 225.5 311.4 241.9 322.3 258.1 333.2 266.3 344.1 271.7 355.0 273.9 365.9 287.1 376.7 287.6 387.6 282.5 398.5 271.4 409.4 269.8 420.3 274.7 431.2 263.8 442.1 277.2 453.0 274.8 463.9 264.3 474.8 278.3 485.6 287.7 496.5 276.5 507.4 269.9 518.3 272.4 529.2 273.6 540.1 270.7 551.0 268.5 561.9 269.9 572.8 260.3 583.7 248.3 594.5 243.6 605.4 250.1 616.3 254.0 627.2 240.7 638.1 234.4 649.0 221.2 659.9 211.7 670.8 221.2 681.7 225.7 692.5 231.5 703.4 211.6 714.3 222.5 725.2 210.5 736.1 199.5 747.0 182.6"/>
<path class="g" d="M202.5 245.5 213.4 225.1 224.3 229.6 235.2 216.9 246.1 206.8 256.9 208.4 267.8 197.4 278.7 187.5 289.6 182.8 300.5 186.4 311.4 190.9 322.3 194.5 333.2 199.7 344.1 208.2 355.0 191.6 365.9 195.7 376.7 195.4 387.6 187.4 398.5 204.0 409.4 217.5 420.3 213.9 431.2 217.5 442.1 216.7 453.0 216.1 463.9 222.8 474.8 218.3 485.6 227.0 496.5 229.1 507.4 231.4 518.3 224.6 529.2 217.4 540.1 211.8 551.0 220.0 561.9 216.8 572.8 219.1 583.7 224.2 594.5 230.9 605.4 238.2 616.3 240.4 627.2 231.1 638.1 221.2 649.0 220.4 659.9 230.7 670.8 229.6 681.7 227.5 692.5 231.4 703.4 234.2 714.3 230.3 725.2 231.1 736.1 223.9 747.0 226.7"/>
<path class="g" d="M202.5 245.5 213.4 231.4 224.3 237.5 235.2 269.7 246.1 271.4 256.9 248.7 267.8 247.8 278.7 258.8 289.6 264.3 300.5 287.1 311.4 300.1 322.3 301.5 333.2 295.4 344.1 307.3 355.0 284.1 365.9 291.8 376.7 312.8 387.6 288.4 398.5 297.4 409.4 293.6 420.3 289.7 431.2 268.5 442.1 258.4 453.0 255.4 463.9 247.5 474.8 240.5 485.6 260.2 496.5 233.7 507.4 244.7 518.3 254.6 529.2 243.1 540.1 258.8 551.0 261.3 561.9 281.1 572.8 276.4 583.7 298.7 594.5 317.9 605.4 318.1 616.3 324.6 627.2 315.6 638.1 297.2 649.0 332.4 659.9 345.1 670.8 371.6 681.7 367.8 692.5 376.0 703.4 368.9 714.3 351.8 725.2 348.8 736.1 345.3 747.0 334.6"/>
<path class="g" d="M202.5 245.5 213.4 261.2 224.3 255.9 235.2 288.8 246.1 282.9 256.9 282.0 267.8 283.5 278.7 287.9 289.6 286.6 300.5 284.1 311.4 279.8 322.3 288.3 333.2 288.1 344.1 289.5 355.0 278.4 365.9 272.2 376.7 275.1 387.6 275.8 398.5 287.6 409.4 315.5 420.3 296.4 431.2 303.0 442.1 291.7 453.0 283.9 463.9 289.4 474.8 285.7 485.6 288.3 496.5 288.7 507.4 273.9 518.3 268.8 529.2 248.5 540.1 242.2 551.0 254.6 561.9 260.6 572.8 235.1 583.7 239.0 594.5 228.7 605.4 239.0 616.3 217.8 627.2 201.8 638.1 211.4 649.0 217.9 659.9 214.9 670.8 232.1 681.7 236.2 692.5 234.7 703.4 243.2 714.3 261.4 725.2 278.2 736.1 270.2 747.0 282.9"/>
<path class="g" d="M202.5 245.5 213.4 229.7 224.3 237.2 235.2 238.1 246.1 238.5 256.9 227.7 267.8 220.4 278.7 231.1 289.6 225.1 300.5 230.4 311.4 251.8 322.3 231.5 333.2 230.3 344.1 223.4 355.0 211.2 365.9 207.8 376.7 191.5 387.6 215.2 398.5 208.8 409.4 224.0 420.3 217.3 431.2 228.5 442.1 223.2 453.0 228.5 463.9 233.6 474.8 265.2 485.6 290.0 496.5 290.1 507.4 307.3 518.3 301.2 529.2 310.6 540.1 295.2 551.0 304.4 561.9 294.7 572.8 307.9 583.7 291.2 594.5 281.3 605.4 265.9 616.3 251.5 627.2 264.2 638.1 266.7 649.0 261.7 659.9 244.6 670.8 239.6 681.7 243.0 692.5 234.3 703.4 234.6 714.3 229.7 725.2 245.2 736.1 258.1 747.0 250.1"/>
<path class="g" d="M202.5 245.5 213.4 256.8 224.3 240.3 235.2 242.7 246.1 241.3 256.9 219.1 267.8 208.7 278.7 195.4 289.6 178.1 300.5 198.1 311.4 194.4 322.3 235.2 333.2 251.3 344.1 239.8 355.0 252.7 365.9 228.0 376.7 230.8 387.6 252.3 398.5 228.8 409.4 249.3 420.3 220.4 431.2 214.4 442.1 223.5 453.0 212.8 463.9 223.7 474.8 191.8 485.6 217.2 496.5 210.5 507.4 219.1 518.3 242.1 529.2 231.4 540.1 226.4 551.0 196.8 561.9 204.5 572.8 213.6 583.7 206.4 594.5 243.3 605.4 263.7 616.3 264.2 627.2 246.2 638.1 251.9 649.0 282.8 659.9 307.7 670.8 333.2 681.7 339.9 692.5 312.6 703.4 301.4 714.3 281.5 725.2 315.9 736.1 310.2 747.0 308.4"/>
<path class="g" d="M202.5 245.5 213.4 239.0 224.3 246.1 235.2 236.4 246.1 223.6 256.9 227.3 267.8 221.1 278.7 214.5 289.6 231.2 300.5 235.4 311.4 249.9 322.3 255.5 333.2 254.0 344.1 275.0 355.0 260.2 365.9 272.7 376.7 308.1 387.6 294.2 398.5 301.7 409.4 315.1 420.3 316.8 431.2 298.2 442.1 289.4 453.0 288.2 463.9 290.9 474.8 332.6 485.6 327.4 496.5 333.1 507.4 312.6 518.3 278.1 529.2 290.0 540.1 297.0 551.0 293.0 561.9 305.1 572.8 291.8 583.7 320.7 594.5 306.0 605.4 294.4 616.3 307.7 627.2 323.8 638.1 298.5 649.0 308.5 659.9 314.4 670.8 353.3 681.7 350.7 692.5 337.3 703.4 336.3 714.3 323.4 725.2 381.9 736.1 381.6 747.0 335.3"/>
<path class="g" d="M202.5 245.5 213.4 245.1 224.3 254.3 235.2 277.1 246.1 257.8 256.9 265.6 267.8 270.4 278.7 257.1 289.6 256.5 300.5 264.9 311.4 278.1 322.3 267.7 333.2 269.7 344.1 271.8 355.0 277.1 365.9 279.3 376.7 277.8 387.6 270.5 398.5 288.1 409.4 290.2 420.3 295.4 431.2 290.6 442.1 299.9 453.0 294.7 463.9 304.7 474.8 296.7 485.6 295.5 496.5 289.4 507.4 289.6 518.3 285.7 529.2 298.3 540.1 300.6 551.0 308.4 561.9 312.4 572.8 296.1 583.7 279.3 594.5 274.6 605.4 276.9 616.3 272.6 627.2 266.0 638.1 269.4 649.0 261.8 659.9 264.9 670.8 246.9 681.7 251.4 692.5 244.2 703.4 244.2 714.3 255.0 725.2 254.0 736.1 254.9 747.0 265.8"/>
<path class="g" d="M202.5 245.5 213.4 230.3 224.3 238.0 235.2 261.6 246.1 253.6 256.9 249.8 267.8 244.7 278.7 227.0 289.6 236.5 300.5 260.0 311.4 255.7 322.3 240.4 333.2 251.2 344.1 247.5 355.0 265.8 365.9 276.7 376.7 267.5 387.6 256.7 398.5 263.7 409.4 263.1 420.3 260.7 431.2 259.8 442.1 244.2 453.0 250.9 463.9 244.6 474.8 243.9 485.6 246.0 496.5 255.1 507.4 247.8 518.3 252.6 529.2 244.8 540.1 256.7 551.0 267.6 561.9 273.8 572.8 275.6 583.7 286.5 594.5 289.6 605.4 274.9 616.3 281.9 627.2 285.8 638.1 263.6 649.0 264.1 659.9 261.9 670.8 255.0 681.7 252.8 692.5 249.4 703.4 251.9 714.3 250.3 725.2 238.4 736.1 242.4 747.0 216.1"/>
<path class="g" d="M202.5 245.5 213.4 241.5 224.3 222.2 235.2 257.0 246.1 264.1 256.9 238.8 267.8 253.2 278.7 228.5 289.6 246.4 300.5 247.2 311.4 238.0 322.3 229.6 333.2 232.0 344.1 226.6 355.0 233.4 365.9 233.8 376.7 251.9 387.6 238.0 398.5 206.4 409.4 220.2 420.3 273.8 431.2 291.6 442.1 305.2 453.0 266.2 463.9 254.1 474.8 245.3 485.6 265.3 496.5 245.1 507.4 249.4 518.3 254.4 529.2 283.4 540.1 313.8 551.0 318.1 561.9 322.5 572.8 313.7 583.7 325.4 594.5 317.4 605.4 302.0 616.3 294.5 627.2 293.9 638.1 287.1 649.0 313.8 659.9 312.6 670.8 301.3 681.7 305.1 692.5 304.9 703.4 316.3 714.3 335.2 725.2 342.7 736.1 358.7 747.0 362.8"/>
<path class="g" d="M202.5 245.5 213.4 255.1 224.3 245.8 235.2 240.2 246.1 264.8 256.9 276.8 267.8 276.7 278.7 280.3 289.6 270.8 300.5 273.6 311.4 270.1 322.3 263.2 333.2 266.0 344.1 262.1 355.0 264.9 365.9 273.3 376.7 278.2 387.6 257.1 398.5 273.3 409.4 289.4 420.3 314.7 431.2 313.0 442.1 280.7 453.0 307.5 463.9 278.4 474.8 273.5 485.6 275.3 496.5 286.0 507.4 295.0 518.3 300.9 529.2 281.1 540.1 269.5 551.0 255.8 561.9 249.6 572.8 249.2 583.7 268.7 594.5 299.1 605.4 308.2 616.3 307.0 627.2 318.5 638.1 320.1 649.0 325.4 659.9 323.8 670.8 322.4 681.7 337.9 692.5 336.6 703.4 336.0 714.3 339.1 725.2 333.9 736.1 345.2 747.0 333.7"/>
<path class="g" d="M202.5 245.5 213.4 247.3 224.3 252.4 235.2 236.7 246.1 234.6 256.9 261.7 267.8 266.2 278.7 264.3 289.6 254.5 300.5 233.9 311.4 213.9 322.3 210.9 333.2 209.6 344.1 203.6 355.0 174.4 365.9 160.0 376.7 180.6 387.6 199.1 398.5 205.6 409.4 194.5 420.3 184.1 431.2 198.8 442.1 202.1 453.0 198.2 463.9 207.3 474.8 224.2 485.6 236.7 496.5 243.1 507.4 245.0 518.3 222.5 529.2 227.0 540.1 240.6 551.0 222.8 561.9 232.0 572.8 232.8 583.7 238.1 594.5 224.9 605.4 200.2 616.3 189.6 627.2 182.3 638.1 193.8 649.0 203.2 659.9 198.1 670.8 199.4 681.7 189.1 692.5 159.9 703.4 158.6 714.3 171.4 725.2 191.7 736.1 190.3 747.0 188.5"/>
<path class="g" d="M202.5 245.5 213.4 248.8 224.3 238.6 235.2 236.2 246.1 244.3 256.9 230.3 267.8 229.3 278.7 243.4 289.6 229.5 300.5 238.0 311.4 238.1 322.3 241.6 333.2 251.7 344.1 252.6 355.0 262.1 365.9 249.2 376.7 222.5 387.6 223.0 398.5 221.6 409.4 226.4 420.3 227.6 431.2 238.3 442.1 247.4 453.0 253.9 463.9 260.8 474.8 257.7 485.6 249.5 496.5 253.6 507.4 255.9 518.3 253.5 529.2 260.9 540.1 266.6 551.0 266.5 561.9 272.3 572.8 274.1 583.7 254.4 594.5 266.0 605.4 268.6 616.3 262.3 627.2 261.9 638.1 251.8 649.0 236.1 659.9 250.8 670.8 252.9 681.7 249.6 692.5 246.7 703.4 253.8 714.3 253.7 725.2 267.0 736.1 277.3 747.0 277.0"/>
<path class="g" d="M202.5 245.5 213.4 244.4 224.3 255.4 235.2 230.3 246.1 230.8 256.9 244.4 267.8 244.0 278.7 249.9 289.6 243.5 300.5 246.6 311.4 230.4 322.3 225.8 333.2 232.1 344.1 253.6 355.0 232.6 365.9 224.9 376.7 235.2 387.6 259.4 398.5 262.4 409.4 257.9 420.3 238.0 431.2 237.0 442.1 228.8 453.0 219.9 463.9 219.3 474.8 205.7 485.6 200.0 496.5 185.6 507.4 207.2 518.3 197.9 529.2 205.3 540.1 199.5 551.0 193.3 561.9 176.8 572.8 187.3 583.7 175.6 594.5 187.2 605.4 189.2 616.3 178.1 627.2 171.8 638.1 154.5 649.0 151.9 659.9 152.5 670.8 147.9 681.7 147.9 692.5 148.3 703.4 154.3 714.3 175.8 725.2 167.6 736.1 185.6 747.0 198.3"/>
<path class="g" d="M202.5 245.5 213.4 253.1 224.3 249.7 235.2 238.4 246.1 251.5 256.9 256.5 267.8 255.3 278.7 255.0 289.6 256.7 300.5 249.9 311.4 239.2 322.3 240.1 333.2 239.4 344.1 235.9 355.0 226.8 365.9 227.7 376.7 229.0 387.6 212.7 398.5 211.8 409.4 207.1 420.3 203.7 431.2 206.2 442.1 202.7 453.0 207.5 463.9 192.6 474.8 197.1 485.6 183.1 496.5 181.6 507.4 184.0 518.3 188.9 529.2 187.3 540.1 179.6 551.0 184.4 561.9 197.9 572.8 204.8 583.7 210.6 594.5 215.0 605.4 227.3 616.3 231.6 627.2 244.9 638.1 266.9 649.0 253.0 659.9 237.8 670.8 240.9 681.7 221.8 692.5 219.9 703.4 210.3 714.3 212.4 725.2 222.1 736.1 227.5 747.0 232.5"/>
<path class="g" d="M202.5 245.5 213.4 230.0 224.3 231.8 235.2 219.7 246.1 226.5 256.9 221.5 267.8 199.4 278.7 226.3 289.6 221.4 300.5 223.3 311.4 222.4 322.3 237.0 333.2 276.3 344.1 267.0 355.0 253.0 365.9 250.4 376.7 262.3 387.6 243.7 398.5 256.5 409.4 244.1 420.3 238.4 431.2 252.4 442.1 249.9 453.0 250.7 463.9 255.5 474.8 220.8 485.6 230.6 496.5 232.1 507.4 264.6 518.3 281.8 529.2 266.4 540.1 265.5 551.0 298.4 561.9 301.0 572.8 302.5 583.7 310.2 594.5 343.8 605.4 319.8 616.3 291.5 627.2 284.4 638.1 289.0 649.0 301.5 659.9 309.4 670.8 297.4 681.7 285.9 692.5 285.2 703.4 290.0 714.3 291.1 725.2 304.8 736.1 319.2 747.0 345.1"/>
<path class="g" d="M202.5 245.5 213.4 241.0 224.3 248.2 235.2 232.0 246.1 235.4 256.9 245.8 267.8 247.8 278.7 239.8 289.6 234.9 300.5 230.0 311.4 262.1 322.3 249.5 333.2 239.8 344.1 246.3 355.0 258.0 365.9 260.1 376.7 232.5 387.6 236.1 398.5 244.3 409.4 236.7 420.3 263.5 431.2 252.9 442.1 251.6 453.0 262.5 463.9 251.6 474.8 262.9 485.6 265.0 496.5 269.8 507.4 270.5 518.3 271.4 529.2 245.3 540.1 258.8 551.0 258.6 561.9 264.6 572.8 248.2 583.7 259.9 594.5 286.6 605.4 295.1 616.3 315.9 627.2 276.4 638.1 267.9 649.0 274.5 659.9 261.2 670.8 252.7 681.7 268.0 692.5 280.0 703.4 284.6 714.3 271.8 725.2 273.9 736.1 264.6 747.0 253.7"/>
<path class="g" d="M202.5 245.5 213.4 238.9 224.3 234.6 235.2 216.4 246.1 201.6 256.9 205.9 267.8 208.2 278.7 202.1 289.6 211.3 300.5 207.1 311.4 208.1 322.3 210.5 333.2 211.8 344.1 221.4 355.0 225.0 365.9 230.7 376.7 227.1 387.6 229.6 398.5 234.7 409.4 212.2 420.3 218.6 431.2 236.7 442.1 250.0 453.0 252.2 463.9 264.2 474.8 283.2 485.6 294.0 496.5 304.2 507.4 303.8 518.3 308.5 529.2 305.5 540.1 290.7 551.0 294.7 561.9 286.9 572.8 296.1 583.7 296.4 594.5 296.5 605.4 303.5 616.3 306.5 627.2 293.8 638.1 275.3 649.0 284.0 659.9 284.3 670.8 277.8 681.7 280.6 692.5 265.2 703.4 275.2 714.3 260.3 725.2 270.6 736.1 268.1 747.0 273.4"/>
<path class="g" d="M202.5 245.5 213.4 255.6 224.3 255.9 235.2 260.3 246.1 264.3 256.9 240.8 267.8 242.4 278.7 231.3 289.6 252.7 300.5 262.4 311.4 253.4 322.3 254.6 333.2 249.2 344.1 248.8 355.0 248.6 365.9 259.7 376.7 264.6 387.6 273.9 398.5 281.6 409.4 290.2 420.3 296.4 431.2 286.9 442.1 269.9 453.0 254.6 463.9 237.8 474.8 240.9 485.6 234.6 496.5 233.0 507.4 251.7 518.3 242.1 529.2 258.6 540.1 267.1 551.0 269.0 561.9 286.4 572.8 293.7 583.7 291.9 594.5 294.2 605.4 297.0 616.3 314.0 627.2 318.3 638.1 316.8 649.0 319.4 659.9 312.7 670.8 308.4 681.7 287.8 692.5 263.2 703.4 272.7 714.3 292.7 725.2 290.0 736.1 292.2 747.0 303.3"/>
<path class="g" d="M202.5 245.5 213.4 236.9 224.3 232.9 235.2 238.8 246.1 221.1 256.9 234.3 267.8 217.7 278.7 206.8 289.6 222.6 300.5 215.3 311.4 199.5 322.3 191.5 333.2 207.7 344.1 215.0 355.0 196.2 365.9 202.8 376.7 226.6 387.6 212.3 398.5 224.6 409.4 231.4 420.3 257.1 431.2 269.8 442.1 274.0 453.0 266.8 463.9 288.8 474.8 282.2 485.6 295.4 496.5 320.4 507.4 319.2 518.3 333.1 529.2 315.8 540.1 325.7 551.0 319.6 561.9 359.4 572.8 374.1 583.7 367.2 594.5 339.1 605.4 342.5 616.3 335.6 627.2 336.8 638.1 359.1 649.0 359.0 659.9 364.9 670.8 355.4 681.7 355.7 692.5 365.4 703.4 356.8 714.3 364.8 725.2 359.8 736.1 357.1 747.0 345.9"/>
<path class="g" d="M202.5 245.5 213.4 270.8 224.3 278.6 235.2 263.2 246.1 272.0 256.9 278.5 267.8 306.9 278.7 331.8 289.6 322.5 300.5 302.9 311.4 301.9 322.3 281.7 333.2 254.8 344.1 240.5 355.0 224.0 365.9 228.6 376.7 223.2 387.6 219.8 398.5 217.4 409.4 220.2 420.3 237.4 431.2 232.4 442.1 237.7 453.0 233.0 463.9 265.9 474.8 284.2 485.6 289.9 496.5 292.8 507.4 304.8 518.3 311.1 529.2 299.4 540.1 310.7 551.0 308.3 561.9 322.2 572.8 340.6 583.7 332.5 594.5 328.8 605.4 337.4 616.3 327.3 627.2 346.3 638.1 358.6 649.0 353.2 659.9 349.1 670.8 336.2 681.7 332.6 692.5 346.8 703.4 349.0 714.3 348.3 725.2 364.9 736.1 337.8 747.0 329.5"/>
<path class="g" d="M202.5 245.5 213.4 229.1 224.3 242.0 235.2 246.3 246.1 236.9 256.9 243.5 267.8 237.3 278.7 233.4 289.6 237.8 300.5 221.6 311.4 220.6 322.3 220.0 333.2 222.5 344.1 213.7 355.0 222.3 365.9 209.0 376.7 225.6 387.6 219.9 398.5 220.3 409.4 218.7 420.3 202.2 431.2 206.9 442.1 196.3 453.0 200.6 463.9 193.0 474.8 211.7 485.6 208.3 496.5 210.6 507.4 199.3 518.3 196.6 529.2 195.0 540.1 188.5 551.0 192.8 561.9 193.2 572.8 204.0 583.7 198.7 594.5 213.8 605.4 213.8 616.3 224.5 627.2 210.7 638.1 209.6 649.0 223.2 659.9 217.3 670.8 223.9 681.7 231.3 692.5 216.5 703.4 239.8 714.3 240.6 725.2 250.8 736.1 261.0 747.0 265.7"/>
<path class="g" d="M202.5 245.5 213.4 240.7 224.3 241.0 235.2 255.9 246.1 247.7 256.9 247.5 267.8 237.1 278.7 227.1 289.6 216.8 300.5 232.7 311.4 235.2 322.3 228.1 333.2 228.1 344.1 223.1 355.0 213.1 365.9 207.8 376.7 199.0 387.6 208.7 398.5 208.6 409.4 209.9 420.3 217.7 431.2 211.8 442.1 199.3 453.0 192.0 463.9 172.8 474.8 160.3 485.6 159.0 496.5 179.4 507.4 189.8 518.3 207.8 529.2 190.2 540.1 189.5 551.0 195.1 561.9 199.8 572.8 217.1 583.7 219.9 594.5 220.7 605.4 227.1 616.3 224.1 627.2 232.2 638.1 250.3 649.0 250.2 659.9 260.6 670.8 258.2 681.7 254.8 692.5 241.2 703.4 257.5 714.3 263.7 725.2 256.6 736.1 256.3 747.0 253.6"/>
<path class="g" d="M202.5 245.5 213.4 249.8 224.3 248.3 235.2 248.5 246.1 271.2 256.9 267.3 267.8 245.6 278.7 248.9 289.6 212.6 300.5 220.6 311.4 212.8 322.3 229.5 333.2 247.8 344.1 252.0 355.0 269.6 365.9 260.5 376.7 270.3 387.6 299.1 398.5 288.1 409.4 285.9 420.3 297.8 431.2 302.1 442.1 295.1 453.0 314.4 463.9 305.2 474.8 302.7 485.6 306.8 496.5 323.3 507.4 333.6 518.3 376.6 529.2 358.8 540.1 373.6 551.0 381.6 561.9 390.6 572.8 371.1 583.7 341.3 594.5 345.8 605.4 334.9 616.3 348.5 627.2 316.2 638.1 310.4 649.0 323.6 659.9 317.1 670.8 306.8 681.7 304.0 692.5 301.9 703.4 265.4 714.3 272.8 725.2 251.6 736.1 266.9 747.0 279.1"/>
<path class="g" d="M202.5 245.5 213.4 255.1 224.3 243.2 235.2 235.3 246.1 258.2 256.9 239.4 267.8 237.4 278.7 251.0 289.6 255.9 300.5 243.1 311.4 245.6 322.3 269.8 333.2 254.2 344.1 246.2 355.0 271.5 365.9 263.5 376.7 254.7 387.6 266.2 398.5 263.3 409.4 247.9 420.3 267.2 431.2 301.0 442.1 317.1 453.0 305.1 463.9 309.1 474.8 294.5 485.6 261.9 496.5 279.9 507.4 273.6 518.3 271.0 529.2 260.4 540.1 238.1 551.0 259.2 561.9 290.1 572.8 279.5 583.7 293.2 594.5 306.3 605.4 306.7 616.3 307.0 627.2 313.6 638.1 312.2 649.0 301.9 659.9 300.2 670.8 312.4 681.7 301.7 692.5 316.9 703.4 312.2 714.3 300.8 725.2 313.5 736.1 305.7 747.0 325.7"/>
<path class="g" d="M202.5 245.5 213.4 254.0 224.3 270.1 235.2 248.6 246.1 232.4 256.9 264.1 267.8 258.2 278.7 254.5 289.6 245.4 300.5 232.3 311.4 217.9 322.3 200.3 333.2 179.2 344.1 173.2 355.0 158.6 365.9 168.0 376.7 165.3 387.6 155.1 398.5 164.7 409.4 158.5 420.3 168.6 431.2 164.1 442.1 158.9 453.0 169.6 463.9 176.7 474.8 170.0 485.6 188.7 496.5 191.3 507.4 214.0 518.3 216.8 529.2 207.7 540.1 210.2 551.0 221.1 561.9 211.8 572.8 216.7 583.7 213.8 594.5 234.3 605.4 246.4 616.3 238.8 627.2 262.7 638.1 273.0 649.0 258.7 659.9 239.4 670.8 217.1 681.7 234.1 692.5 214.3 703.4 214.6 714.3 206.3 725.2 202.7 736.1 199.5 747.0 213.5"/>
<path class="g" d="M202.5 245.5 213.4 249.5 224.3 242.4 235.2 268.1 246.1 254.2 256.9 250.0 267.8 243.7 278.7 245.9 289.6 242.8 300.5 235.7 311.4 233.6 322.3 241.6 333.2 241.1 344.1 239.5 355.0 251.9 365.9 240.8 376.7 232.4 387.6 232.0 398.5 226.9 409.4 240.8 420.3 251.0 431.2 272.8 442.1 254.1 453.0 257.1 463.9 251.4 474.8 266.3 485.6 270.5 496.5 256.5 507.4 240.1 518.3 252.5 529.2 222.5 540.1 225.5 551.0 226.0 561.9 260.3 572.8 251.9 583.7 250.9 594.5 224.0 605.4 257.1 616.3 232.5 627.2 233.1 638.1 249.5 649.0 242.8 659.9 233.4 670.8 235.0 681.7 245.6 692.5 250.1 703.4 248.3 714.3 221.4 725.2 231.4 736.1 244.6 747.0 263.0"/>
<path class="g" d="M202.5 245.5 213.4 250.6 224.3 250.3 235.2 267.9 246.1 278.4 256.9 279.8 267.8 276.2 278.7 273.9 289.6 283.7 300.5 285.9 311.4 291.7 322.3 295.4 333.2 307.0 344.1 308.8 355.0 282.9 365.9 280.1 376.7 273.7 387.6 285.1 398.5 292.2 409.4 288.2 420.3 277.6 431.2 267.8 442.1 251.6 453.0 250.3 463.9 251.9 474.8 244.8 485.6 242.4 496.5 249.0 507.4 269.4 518.3 271.4 529.2 245.7 540.1 252.7 551.0 248.3 561.9 251.6 572.8 245.1 583.7 242.6 594.5 240.7 605.4 234.2 616.3 218.2 627.2 231.6 638.1 235.2 649.0 251.2 659.9 255.6 670.8 250.7 681.7 242.5 692.5 226.3 703.4 220.8 714.3 219.4 725.2 221.5 736.1 216.9 747.0 198.1"/>
<path class="g" d="M202.5 245.5 213.4 241.9 224.3 228.5 235.2 232.6 246.1 225.6 256.9 245.1 267.8 246.7 278.7 248.0 289.6 228.2 300.5 237.0 311.4 243.1 322.3 244.3 333.2 240.1 344.1 238.5 355.0 242.9 365.9 221.2 376.7 230.0 387.6 215.0 398.5 214.0 409.4 217.8 420.3 217.7 431.2 205.0 442.1 216.9 453.0 219.2 463.9 225.8 474.8 244.0 485.6 250.1 496.5 258.3 507.4 260.5 518.3 229.9 529.2 215.9 540.1 212.8 551.0 225.0 561.9 214.5 572.8 227.5 583.7 211.4 594.5 197.6 605.4 204.9 616.3 203.7 627.2 220.6 638.1 227.5 649.0 238.3 659.9 229.7 670.8 236.5 681.7 233.3 692.5 219.4 703.4 226.1 714.3 213.8 725.2 210.4 736.1 216.6 747.0 217.4"/>
<path class="g" d="M202.5 245.5 213.4 268.8 224.3 272.9 235.2 294.3 246.1 304.1 256.9 300.2 267.8 278.7 278.7 275.9 289.6 268.6 300.5 265.1 311.4 258.2 322.3 253.8 333.2 245.2 344.1 250.2 355.0 248.0 365.9 251.1 376.7 246.1 387.6 233.6 398.5 229.7 409.4 241.1 420.3 234.1 431.2 210.3 442.1 224.5 453.0 236.2 463.9 251.8 474.8 259.1 485.6 263.5 496.5 263.9 507.4 272.8 518.3 294.8 529.2 307.5 540.1 327.1 551.0 352.8 561.9 363.8 572.8 360.9 583.7 365.2 594.5 357.6 605.4 363.8 616.3 370.1 627.2 378.9 638.1 395.5 649.0 387.9 659.9 403.8 670.8 404.5 681.7 377.1 692.5 375.2 703.4 364.0 714.3 343.4 725.2 342.0 736.1 335.7 747.0 311.7"/>
<path class="g" d="M202.5 245.5 213.4 243.0 224.3 260.0 235.2 256.9 246.1 250.6 256.9 245.0 267.8 229.8 278.7 226.7 289.6 211.7 300.5 203.9 311.4 200.1 322.3 198.5 333.2 190.4 344.1 186.2 355.0 186.5 365.9 190.0 376.7 181.4 387.6 172.6 398.5 166.4 409.4 155.4 420.3 146.9 431.2 144.0 442.1 141.1 453.0 146.5 463.9 149.9 474.8 130.3 485.6 136.4 496.5 115.3 507.4 121.9 518.3 112.4 529.2 105.9 540.1 108.1 551.0 117.3 561.9 118.2 572.8 118.3 583.7 143.5 594.5 142.1 605.4 137.5 616.3 139.1 627.2 135.7 638.1 150.0 649.0 155.5 659.9 156.9 670.8 157.8 681.7 158.0 692.5 160.1 703.4 155.4 714.3 164.3 725.2 188.4 736.1 188.0 747.0 198.7"/>
<path class="g" d="M202.5 245.5 213.4 250.5 224.3 272.5 235.2 291.4 246.1 304.1 256.9 288.6 267.8 286.9 278.7 297.2 289.6 299.4 300.5 301.5 311.4 279.8 322.3 269.4 333.2 282.6 344.1 275.8 355.0 267.2 365.9 257.0 376.7 260.4 387.6 251.4 398.5 250.1 409.4 241.5 420.3 233.1 431.2 229.3 442.1 225.4 453.0 220.9 463.9 206.2 474.8 215.3 485.6 224.2 496.5 215.2 507.4 206.7 518.3 222.0 529.2 225.6 540.1 227.3 551.0 228.4 561.9 233.8 572.8 229.9 583.7 237.4 594.5 256.8 605.4 257.2 616.3 254.7 627.2 258.6 638.1 267.5 649.0 279.8 659.9 287.1 670.8 291.5 681.7 296.3 692.5 309.6 703.4 308.8 714.3 290.8 725.2 283.6 736.1 269.8 747.0 289.5"/>
<path class="g" d="M202.5 245.5 213.4 235.1 224.3 234.0 235.2 236.9 246.1 228.0 256.9 232.9 267.8 220.8 278.7 218.2 289.6 218.6 300.5 199.1 311.4 224.9 322.3 233.3 333.2 220.5 344.1 210.2 355.0 196.3 365.9 192.0 376.7 194.2 387.6 201.2 398.5 202.1 409.4 206.7 420.3 217.0 431.2 211.1 442.1 218.4 453.0 221.1 463.9 262.6 474.8 276.9 485.6 290.3 496.5 298.2 507.4 297.3 518.3 283.2 529.2 298.6 540.1 302.6 551.0 301.9 561.9 306.7 572.8 290.4 583.7 263.9 594.5 258.0 605.4 247.0 616.3 240.5 627.2 232.3 638.1 256.6 649.0 267.8 659.9 256.5 670.8 244.6 681.7 231.1 692.5 230.3 703.4 238.5 714.3 227.6 725.2 225.5 736.1 214.4 747.0 213.9"/>
<path class="g" d="M202.5 245.5 213.4 234.4 224.3 227.2 235.2 227.1 246.1 214.3 256.9 228.5 267.8 241.6 278.7 235.3 289.6 216.5 300.5 200.2 311.4 209.9 322.3 222.6 333.2 223.0 344.1 222.4 355.0 231.7 365.9 235.6 376.7 228.7 387.6 219.7 398.5 225.2 409.4 241.3 420.3 241.9 431.2 237.6 442.1 231.1 453.0 224.8 463.9 213.3 474.8 221.6 485.6 226.2 496.5 222.7 507.4 216.9 518.3 214.7 529.2 211.2 540.1 196.5 551.0 209.7 561.9 191.1 572.8 193.2 583.7 199.4 594.5 204.5 605.4 196.3 616.3 192.9 627.2 213.2 638.1 210.8 649.0 211.9 659.9 216.1 670.8 214.5 681.7 229.8 692.5 235.7 703.4 243.7 714.3 247.7 725.2 270.6 736.1 287.9 747.0 271.4"/>
<path class="g" d="M202.5 245.5 213.4 231.1 224.3 224.2 235.2 214.0 246.1 215.2 256.9 201.8 267.8 201.4 278.7 209.6 289.6 204.8 300.5 194.6 311.4 189.8 322.3 175.5 333.2 163.5 344.1 174.3 355.0 179.4 365.9 162.4 376.7 159.7 387.6 166.2 398.5 177.0 409.4 185.8 420.3 198.8 431.2 199.2 442.1 199.9 453.0 197.7 463.9 212.2 474.8 223.7 485.6 246.7 496.5 261.5 507.4 252.3 518.3 234.9 529.2 218.5 540.1 208.2 551.0 216.7 561.9 200.2 572.8 175.9 583.7 174.4 594.5 185.3 605.4 195.7 616.3 217.2 627.2 217.5 638.1 211.3 649.0 208.2 659.9 192.2 670.8 184.5 681.7 201.0 692.5 227.7 703.4 244.0 714.3 248.3 725.2 245.8 736.1 249.4 747.0 226.4"/>
<path class="g" d="M202.5 245.5 213.4 247.7 224.3 256.4 235.2 254.9 246.1 271.2 256.9 290.8 267.8 293.3 278.7 310.6 289.6 291.0 300.5 309.1 311.4 293.9 322.3 282.5 333.2 283.7 344.1 262.0 355.0 269.2 365.9 247.0 376.7 239.2 387.6 251.0 398.5 250.4 409.4 255.2 420.3 258.5 431.2 265.6 442.1 275.1 453.0 262.1 463.9 272.0 474.8 276.3 485.6 277.5 496.5 283.8 507.4 303.9 518.3 291.0 529.2 285.3 540.1 297.6 551.0 301.3 561.9 321.0 572.8 338.3 583.7 345.0 594.5 350.0 605.4 344.2 616.3 333.6 627.2 323.6 638.1 320.6 649.0 307.0 659.9 319.0 670.8 321.8 681.7 324.2 692.5 325.7 703.4 327.4 714.3 314.5 725.2 297.6 736.1 307.4 747.0 322.1"/>
<path class="g" d="M202.5 245.5 213.4 256.5 224.3 255.7 235.2 263.6 246.1 243.5 256.9 241.6 267.8 260.7 278.7 256.2 289.6 270.1 300.5 274.8 311.4 275.5 322.3 280.8 333.2 291.9 344.1 314.7 355.0 307.3 365.9 322.4 376.7 322.9 387.6 318.8 398.5 311.3 409.4 309.5 420.3 309.5 431.2 308.8 442.1 316.7 453.0 316.6 463.9 310.2 474.8 310.0 485.6 314.0 496.5 320.6 507.4 332.8 518.3 330.7 529.2 335.5 540.1 330.1 551.0 343.8 561.9 350.8 572.8 352.6 583.7 366.8 594.5 363.4 605.4 374.9 616.3 367.5 627.2 380.9 638.1 393.4 649.0 386.7 659.9 371.1 670.8 362.0 681.7 355.8 692.5 370.0 703.4 367.7 714.3 379.5 725.2 370.6 736.1 361.3 747.0 343.3"/>
<path class="g" d="M202.5 245.5 213.4 244.1 224.3 259.2 235.2 265.5 246.1 277.3 256.9 277.7 267.8 266.2 278.7 282.2 289.6 287.5 300.5 282.5 311.4 251.2 322.3 207.1 333.2 230.1 344.1 219.5 355.0 229.6 365.9 266.7 376.7 248.6 387.6 263.3 398.5 289.1 409.4 285.5 420.3 286.4 431.2 266.2 442.1 290.6 453.0 298.2 463.9 298.2 474.8 286.6 485.6 260.9 496.5 272.9 507.4 283.8 518.3 299.6 529.2 312.8 540.1 296.8 551.0 301.9 561.9 328.6 572.8 313.3 583.7 319.6 594.5 329.8 605.4 321.2 616.3 293.6 627.2 265.6 638.1 286.2 649.0 303.9 659.9 345.0 670.8 337.6 681.7 323.6 692.5 318.8 703.4 316.3 714.3 318.3 725.2 302.5 736.1 310.6 747.0 302.4"/>
<path class="g" d="M202.5 245.5 213.4 248.2 224.3 229.2 235.2 222.3 246.1 210.8 256.9 212.7 267.8 191.8 278.7 198.5 289.6 197.3 300.5 187.0 311.4 192.0 322.3 194.0 333.2 187.4 344.1 185.3 355.0 188.7 365.9 189.0 376.7 180.0 387.6 184.2 398.5 180.4 409.4 208.0 420.3 224.0 431.2 234.3 442.1 219.0 453.0 231.5 463.9 223.1 474.8 193.2 485.6 208.8 496.5 186.8 507.4 200.4 518.3 183.9 529.2 167.6 540.1 182.5 551.0 174.6 561.9 162.6 572.8 180.6 583.7 192.9 594.5 184.8 605.4 169.7 616.3 182.3 627.2 165.7 638.1 172.4 649.0 179.0 659.9 182.5 670.8 157.1 681.7 178.7 692.5 208.2 703.4 200.3 714.3 207.1 725.2 240.2 736.1 229.7 747.0 261.3"/>
<path class="g" d="M202.5 245.5 213.4 234.0 224.3 244.4 235.2 231.9 246.1 235.6 256.9 245.3 267.8 249.8 278.7 255.6 289.6 245.6 300.5 258.2 311.4 254.7 322.3 236.7 333.2 265.4 344.1 262.9 355.0 240.0 365.9 233.6 376.7 224.2 387.6 211.9 398.5 204.8 409.4 198.8 420.3 186.1 431.2 199.5 442.1 219.9 453.0 201.9 463.9 185.8 474.8 202.7 485.6 185.2 496.5 191.4 507.4 194.2 518.3 175.6 529.2 201.5 540.1 202.0 551.0 186.8 561.9 190.9 572.8 177.6 583.7 184.4 594.5 185.8 605.4 183.9 616.3 179.7 627.2 181.3 638.1 186.4 649.0 184.5 659.9 196.8 670.8 196.6 681.7 190.9 692.5 176.3 703.4 193.3 714.3 193.1 725.2 203.3 736.1 201.0 747.0 210.5"/>
<path class="g" d="M202.5 245.5 213.4 250.3 224.3 229.7 235.2 219.9 246.1 235.6 256.9 220.7 267.8 205.9 278.7 201.6 289.6 211.6 300.5 198.3 311.4 184.2 322.3 188.5 333.2 175.2 344.1 167.9 355.0 171.8 365.9 174.4 376.7 182.0 387.6 185.4 398.5 194.7 409.4 193.6 420.3 198.1 431.2 217.4 442.1 207.5 453.0 211.6 463.9 219.1 474.8 221.3 485.6 231.7 496.5 227.8 507.4 218.7 518.3 230.3 529.2 239.8 540.1 225.3 551.0 238.1 561.9 255.2 572.8 261.5 583.7 260.6 594.5 260.3 605.4 252.0 616.3 253.9 627.2 250.0 638.1 241.0 649.0 237.8 659.9 226.7 670.8 220.3 681.7 230.4 692.5 223.8 703.4 219.4 714.3 215.5 725.2 217.8 736.1 226.9 747.0 215.3"/>
<path class="g" d="M202.5 245.5 213.4 243.4 224.3 255.3 235.2 247.8 246.1 245.9 256.9 245.6 267.8 239.6 278.7 257.2 289.6 263.4 300.5 270.8 311.4 276.2 322.3 283.7 333.2 286.0 344.1 287.7 355.0 300.5 365.9 310.2 376.7 308.8 387.6 308.4 398.5 308.2 409.4 294.8 420.3 287.8 431.2 281.7 442.1 267.7 453.0 266.9 463.9 261.3 474.8 261.0 485.6 262.9 496.5 264.1 507.4 273.3 518.3 278.5 529.2 272.5 540.1 254.3 551.0 257.3 561.9 240.9 572.8 234.0 583.7 230.1 594.5 234.0 605.4 237.5 616.3 224.1 627.2 215.3 638.1 220.5 649.0 223.1 659.9 234.8 670.8 226.0 681.7 228.3 692.5 220.5 703.4 220.1 714.3 197.1 725.2 199.0 736.1 205.4 747.0 233.1"/>
<path class="g" d="M202.5 245.5 213.4 246.5 224.3 236.9 235.2 241.8 246.1 256.7 256.9 242.0 267.8 236.3 278.7 251.1 289.6 250.4 300.5 274.4 311.4 264.6 322.3 252.7 333.2 246.8 344.1 260.2 355.0 265.3 365.9 259.7 376.7 271.1 387.6 263.0 398.5 269.6 409.4 286.6 420.3 280.6 431.2 258.5 442.1 276.6 453.0 276.1 463.9 268.3 474.8 280.2 485.6 271.8 496.5 279.1 507.4 286.2 518.3 307.0 529.2 311.4 540.1 297.7 551.0 296.1 561.9 298.4 572.8 304.7 583.7 301.0 594.5 294.3 605.4 302.9 616.3 292.2 627.2 278.8 638.1 283.4 649.0 293.4 659.9 285.8 670.8 277.9 681.7 280.0 692.5 277.7 703.4 287.2 714.3 290.3 725.2 296.6 736.1 317.1 747.0 313.1"/>
<path class="g" d="M202.5 245.5 213.4 251.2 224.3 247.1 235.2 245.1 246.1 249.7 256.9 251.3 267.8 265.9 278.7 266.1 289.6 252.3 300.5 236.4 311.4 245.4 322.3 256.6 333.2 236.2 344.1 213.0 355.0 211.5 365.9 210.5 376.7 236.4 387.6 259.5 398.5 269.2 409.4 252.9 420.3 243.0 431.2 244.7 442.1 245.4 453.0 251.8 463.9 248.6 474.8 245.1 485.6 252.0 496.5 244.6 507.4 258.5 518.3 278.1 529.2 272.2 540.1 269.1 551.0 271.8 561.9 262.1 572.8 256.5 583.7 240.4 594.5 251.8 605.4 269.0 616.3 266.6 627.2 261.0 638.1 268.9 649.0 284.7 659.9 272.0 670.8 268.7 681.7 262.8 692.5 256.1 703.4 260.9 714.3 236.6 725.2 237.2 736.1 245.8 747.0 251.2"/>
<path class="g" d="M202.5 245.5 213.4 231.4 224.3 249.5 235.2 264.4 246.1 277.2 256.9 260.0 267.8 247.0 278.7 227.6 289.6 213.4 300.5 198.1 311.4 191.4 322.3 178.1 333.2 184.9 344.1 182.5 355.0 191.7 365.9 174.6 376.7 165.7 387.6 177.8 398.5 193.5 409.4 174.4 420.3 179.0 431.2 193.6 442.1 207.2 453.0 204.5 463.9 201.4 474.8 204.5 485.6 208.1 496.5 173.4 507.4 164.4 518.3 166.0 529.2 143.9 540.1 142.6 551.0 158.9 561.9 160.9 572.8 137.0 583.7 137.5 594.5 192.7 605.4 172.9 616.3 174.6 627.2 171.4 638.1 166.1 649.0 176.9 659.9 191.3 670.8 199.4 681.7 194.2 692.5 195.0 703.4 199.7 714.3 225.9 725.2 269.0 736.1 272.8 747.0 293.8"/>
<path class="g" d="M202.5 245.5 213.4 251.7 224.3 237.8 235.2 242.0 246.1 234.9 256.9 236.3 267.8 228.1 278.7 254.4 289.6 248.5 300.5 260.0 311.4 282.9 322.3 289.5 333.2 292.5 344.1 305.2 355.0 308.3 365.9 327.0 376.7 322.9 387.6 316.4 398.5 319.7 409.4 316.4 420.3 330.7 431.2 319.4 442.1 316.3 453.0 323.2 463.9 316.6 474.8 307.5 485.6 295.7 496.5 289.4 507.4 290.6 518.3 291.7 529.2 301.1 540.1 309.2 551.0 324.0 561.9 315.9 572.8 306.4 583.7 305.7 594.5 294.7 605.4 280.1 616.3 279.5 627.2 281.1 638.1 283.0 649.0 289.6 659.9 291.6 670.8 292.5 681.7 299.3 692.5 292.9 703.4 270.5 714.3 256.4 725.2 260.9 736.1 245.2 747.0 232.7"/>
<path class="g" d="M202.5 245.5 213.4 256.9 224.3 239.9 235.2 239.6 246.1 251.1 256.9 234.0 267.8 237.8 278.7 214.9 289.6 200.4 300.5 198.8 311.4 202.3 322.3 196.9 333.2 202.9 344.1 202.8 355.0 200.9 365.9 201.5 376.7 202.2 387.6 208.8 398.5 212.7 409.4 242.6 420.3 238.1 431.2 240.7 442.1 243.1 453.0 242.6 463.9 234.5 474.8 241.1 485.6 259.0 496.5 259.6 507.4 251.9 518.3 263.4 529.2 267.8 540.1 273.6 551.0 324.1 561.9 306.7 572.8 315.5 583.7 325.2 594.5 324.4 605.4 328.9 616.3 305.1 627.2 302.9 638.1 298.1 649.0 310.0 659.9 315.1 670.8 298.4 681.7 294.9 692.5 297.2 703.4 282.8 714.3 264.3 725.2 254.2 736.1 251.8 747.0 244.9"/>
<path class="g" d="M202.5 245.5 213.4 240.2 224.3 254.9 235.2 249.9 246.1 241.6 256.9 222.1 267.8 239.0 278.7 246.8 289.6 238.6 300.5 248.2 311.4 256.0 322.3 263.1 333.2 269.4 344.1 283.3 355.0 287.2 365.9 268.6 376.7 253.8 387.6 258.6 398.5 261.8 409.4 271.1 420.3 273.3 431.2 271.3 442.1 279.8 453.0 297.5 463.9 295.8 474.8 286.1 485.6 288.9 496.5 289.5 507.4 278.0 518.3 279.2 529.2 285.7 540.1 290.3 551.0 291.3 561.9 278.0 572.8 281.1 583.7 283.4 594.5 276.7 605.4 263.6 616.3 253.6 627.2 259.6 638.1 252.5 649.0 267.5 659.9 267.5 670.8 274.6 681.7 282.1 692.5 284.4 703.4 279.4 714.3 287.6 725.2 303.5 736.1 313.9 747.0 319.6"/>
<path class="g" d="M202.5 245.5 213.4 241.9 224.3 225.4 235.2 213.0 246.1 206.3 256.9 230.7 267.8 230.9 278.7 221.1 289.6 222.2 300.5 214.8 311.4 240.3 322.3 240.6 333.2 250.8 344.1 248.2 355.0 245.9 365.9 230.6 376.7 220.2 387.6 227.4 398.5 266.0 409.4 237.9 420.3 230.3 431.2 241.1 442.1 249.1 453.0 229.7 463.9 216.8 474.8 229.9 485.6 238.2 496.5 232.8 507.4 216.8 518.3 217.6 529.2 238.0 540.1 224.9 551.0 228.7 561.9 244.4 572.8 237.9 583.7 253.2 594.5 236.2 605.4 242.6 616.3 218.6 627.2 197.7 638.1 189.8 649.0 198.1 659.9 188.1 670.8 195.0 681.7 199.5 692.5 184.2 703.4 195.2 714.3 191.9 725.2 225.1 736.1 220.6 747.0 219.1"/>
<path class="g" d="M202.5 245.5 213.4 252.0 224.3 238.8 235.2 248.8 246.1 257.6 256.9 261.7 267.8 247.9 278.7 252.9 289.6 262.7 300.5 287.8 311.4 294.3 322.3 290.4 333.2 285.2 344.1 279.5 355.0 272.5 365.9 270.4 376.7 271.0 387.6 250.6 398.5 259.0 409.4 241.0 420.3 239.6 431.2 251.6 442.1 236.3 453.0 239.4 463.9 237.7 474.8 245.8 485.6 227.0 496.5 239.9 507.4 202.4 518.3 199.3 529.2 204.3 540.1 219.0 551.0 238.8 561.9 229.6 572.8 225.9 583.7 217.4 594.5 227.4 605.4 230.3 616.3 235.6 627.2 236.5 638.1 226.6 649.0 222.7 659.9 244.9 670.8 249.6 681.7 237.5 692.5 237.4 703.4 264.6 714.3 260.0 725.2 258.2 736.1 271.4 747.0 279.5"/>
<path class="g" d="M202.5 245.5 213.4 233.5 224.3 248.2 235.2 233.9 246.1 223.6 256.9 236.4 267.8 241.4 278.7 224.5 289.6 206.7 300.5 201.0 311.4 201.9 322.3 198.1 333.2 201.7 344.1 189.1 355.0 207.3 365.9 215.8 376.7 229.5 387.6 233.1 398.5 250.6 409.4 252.9 420.3 265.2 431.2 282.6 442.1 302.3 453.0 284.5 463.9 289.4 474.8 297.8 485.6 291.0 496.5 301.1 507.4 299.3 518.3 302.2 529.2 310.9 540.1 324.9 551.0 327.0 561.9 312.4 572.8 324.5 583.7 313.4 594.5 314.8 605.4 319.5 616.3 310.2 627.2 296.6 638.1 296.2 649.0 279.6 659.9 281.2 670.8 285.9 681.7 281.8 692.5 296.8 703.4 286.9 714.3 298.3 725.2 312.0 736.1 317.1 747.0 325.4"/>
<path class="g" d="M202.5 245.5 213.4 245.8 224.3 254.5 235.2 267.1 246.1 274.6 256.9 272.0 267.8 262.9 278.7 260.1 289.6 254.7 300.5 259.3 311.4 271.3 322.3 274.4 333.2 276.1 344.1 254.8 355.0 235.9 365.9 231.3 376.7 235.7 387.6 231.8 398.5 234.8 409.4 248.9 420.3 253.8 431.2 239.0 442.1 222.5 453.0 209.6 463.9 212.4 474.8 222.9 485.6 227.3 496.5 218.9 507.4 229.4 518.3 234.4 529.2 223.2 540.1 214.0 551.0 215.2 561.9 206.9 572.8 197.2 583.7 205.2 594.5 218.7 605.4 213.3 616.3 205.7 627.2 219.2 638.1 230.0 649.0 240.6 659.9 250.9 670.8 244.1 681.7 246.7 692.5 218.4 703.4 211.3 714.3 211.9 725.2 201.4 736.1 190.8 747.0 182.3"/>
<path class="g" d="M202.5 245.5 213.4 249.5 224.3 264.7 235.2 270.8 246.1 270.3 256.9 277.6 267.8 277.6 278.7 282.2 289.6 297.4 300.5 305.4 311.4 316.2 322.3 321.2 333.2 319.9 344.1 316.8 355.0 322.3 365.9 331.0 376.7 322.7 387.6 315.7 398.5 319.0 409.4 318.2 420.3 323.3 431.2 321.8 442.1 337.5 453.0 331.9 463.9 325.2 474.8 327.2 485.6 309.5 496.5 312.4 507.4 338.9 518.3 339.9 529.2 326.0 540.1 325.4 551.0 316.6 561.9 330.2 572.8 327.8 583.7 328.0 594.5 317.5 605.4 320.7 616.3 316.0 627.2 313.0 638.1 319.1 649.0 324.7 659.9 325.7 670.8 332.9 681.7 335.2 692.5 337.3 703.4 325.5 714.3 344.6 725.2 343.8 736.1 356.4 747.0 358.8"/>
<path class="g" d="M202.5 245.5 213.4 232.6 224.3 276.7 235.2 257.9 246.1 257.6 256.9 266.3 267.8 260.5 278.7 251.1 289.6 263.1 300.5 258.2 311.4 296.7 322.3 321.3 333.2 328.0 344.1 318.4 355.0 324.1 365.9 346.8 376.7 335.8 387.6 353.3 398.5 338.8 409.4 314.1 420.3 298.8 431.2 298.0 442.1 283.0 453.0 295.0 463.9 286.1 474.8 286.8 485.6 267.1 496.5 267.1 507.4 255.2 518.3 274.9 529.2 279.6 540.1 279.4 551.0 278.2 561.9 284.8 572.8 281.4 583.7 289.7 594.5 288.2 605.4 303.9 616.3 306.0 627.2 319.9 638.1 301.9 649.0 298.9 659.9 303.0 670.8 297.6 681.7 290.6 692.5 267.5 703.4 284.4 714.3 283.7 725.2 270.8 736.1 278.8 747.0 277.7"/>
<path class="g" d="M202.5 245.5 213.4 232.2 224.3 248.7 235.2 220.8 246.1 229.1 256.9 207.0 267.8 196.7 278.7 192.9 289.6 206.5 300.5 203.7 311.4 209.8 322.3 211.6 333.2 210.4 344.1 197.9 355.0 202.1 365.9 208.4 376.7 200.3 387.6 205.6 398.5 211.0 409.4 212.5 420.3 207.6 431.2 196.7 442.1 188.0 453.0 187.4 463.9 178.3 474.8 170.8 485.6 191.8 496.5 193.0 507.4 199.9 518.3 196.7 529.2 205.1 540.1 206.3 551.0 183.6 561.9 165.4 572.8 158.5 583.7 184.9 594.5 192.2 605.4 194.8 616.3 194.8 627.2 193.4 638.1 196.2 649.0 228.4 659.9 210.5 670.8 219.7 681.7 213.3 692.5 213.1 703.4 220.3 714.3 214.0 725.2 211.3 736.1 223.8 747.0 225.6"/>
<path class="g" d="M202.5 245.5 213.4 245.0 224.3 250.6 235.2 230.5 246.1 223.6 256.9 219.5 267.8 217.8 278.7 206.4 289.6 195.6 300.5 182.9 311.4 193.0 322.3 198.6 333.2 194.7 344.1 167.9 355.0 195.0 365.9 191.2 376.7 204.4 387.6 198.9 398.5 180.3 409.4 197.2 420.3 207.0 431.2 226.7 442.1 239.2 453.0 241.8 463.9 245.8 474.8 253.9 485.6 268.7 496.5 251.5 507.4 247.5 518.3 253.4 529.2 255.1 540.1 259.8 551.0 263.6 561.9 245.1 572.8 239.9 583.7 254.8 594.5 242.9 605.4 249.7 616.3 256.6 627.2 259.8 638.1 262.5 649.0 264.8 659.9 258.3 670.8 258.5 681.7 278.5 692.5 287.5 703.4 282.4 714.3 277.4 725.2 264.7 736.1 270.6 747.0 257.4"/>
<path class="g" d="M202.5 245.5 213.4 265.2 224.3 229.3 235.2 245.3 246.1 288.8 256.9 282.1 267.8 280.6 278.7 249.6 289.6 265.9 300.5 273.5 311.4 276.0 322.3 313.0 333.2 307.8 344.1 309.3 355.0 295.8 365.9 283.2 376.7 284.0 387.6 299.2 398.5 306.5 409.4 325.9 420.3 320.8 431.2 317.9 442.1 321.3 453.0 305.0 463.9 303.0 474.8 301.4 485.6 310.4 496.5 331.6 507.4 334.1 518.3 304.0 529.2 293.8 540.1 303.3 551.0 277.4 561.9 258.3 572.8 273.9 583.7 282.4 594.5 277.2 605.4 287.4 616.3 299.5 627.2 306.5 638.1 307.2 649.0 303.9 659.9 347.8 670.8 349.1 681.7 351.7 692.5 325.3 703.4 317.9 714.3 312.1 725.2 360.4 736.1 350.7 747.0 345.5"/>
<path class="g" d="M202.5 245.5 213.4 250.6 224.3 236.8 235.2 245.8 246.1 241.0 256.9 245.0 267.8 254.1 278.7 262.2 289.6 260.1 300.5 270.9 311.4 265.9 322.3 242.0 333.2 234.6 344.1 226.0 355.0 226.3 365.9 214.3 376.7 222.3 387.6 230.9 398.5 228.0 409.4 224.7 420.3 224.0 431.2 231.2 442.1 225.4 453.0 232.7 463.9 227.3 474.8 232.4 485.6 235.2 496.5 243.3 507.4 240.4 518.3 241.3 529.2 239.9 540.1 231.8 551.0 243.3 561.9 255.1 572.8 279.1 583.7 288.1 594.5 297.1 605.4 302.2 616.3 300.4 627.2 294.4 638.1 293.3 649.0 302.4 659.9 302.8 670.8 278.2 681.7 287.4 692.5 290.5 703.4 293.0 714.3 280.6 725.2 271.8 736.1 265.7 747.0 261.2"/>
<path class="g" d="M202.5 245.5 213.4 254.5 224.3 265.7 235.2 266.8 246.1 252.4 256.9 241.9 267.8 248.7 278.7 244.5 289.6 241.4 300.5 249.9 311.4 241.9 322.3 256.2 333.2 235.6 344.1 241.4 355.0 242.4 365.9 245.8 376.7 258.1 387.6 260.4 398.5 245.7 409.4 263.5 420.3 251.9 431.2 243.5 442.1 244.6 453.0 261.0 463.9 259.2 474.8 263.4 485.6 275.4 496.5 284.2 507.4 287.9 518.3 314.2 529.2 300.4 540.1 303.3 551.0 291.7 561.9 268.8 572.8 270.5 583.7 281.4 594.5 261.3 605.4 266.4 616.3 268.3 627.2 276.1 638.1 272.6 649.0 260.0 659.9 251.5 670.8 243.2 681.7 248.2 692.5 246.5 703.4 241.2 714.3 262.5 725.2 272.8 736.1 267.0 747.0 257.5"/>
<path class="g" d="M202.5 245.5 213.4 248.2 224.3 237.8 235.2 230.2 246.1 220.6 256.9 201.7 267.8 198.9 278.7 213.4 289.6 235.9 300.5 233.8 311.4 219.9 322.3 225.0 333.2 240.2 344.1 228.1 355.0 229.1 365.9 240.7 376.7 238.7 387.6 244.1 398.5 260.2 409.4 250.6 420.3 259.1 431.2 259.6 442.1 242.5 453.0 231.4 463.9 236.2 474.8 226.8 485.6 222.0 496.5 216.1 507.4 210.4 518.3 217.5 529.2 225.5 540.1 219.9 551.0 234.7 561.9 233.2 572.8 211.2 583.7 207.9 594.5 220.9 605.4 226.2 616.3 232.2 627.2 243.6 638.1 252.4 649.0 223.6 659.9 206.4 670.8 197.7 681.7 224.2 692.5 231.0 703.4 234.4 714.3 249.9 725.2 238.3 736.1 253.0 747.0 253.8"/>
<path class="g" d="M202.5 245.5 213.4 247.9 224.3 258.3 235.2 250.8 246.1 250.6 256.9 251.7 267.8 240.3 278.7 234.9 289.6 255.8 300.5 268.2 311.4 269.3 322.3 275.0 333.2 284.7 344.1 265.2 355.0 264.6 365.9 286.5 376.7 279.7 387.6 277.3 398.5 276.8 409.4 276.2 420.3 295.5 431.2 286.0 442.1 315.0 453.0 295.8 463.9 314.1 474.8 327.4 485.6 335.2 496.5 346.2 507.4 350.2 518.3 356.5 529.2 380.9 540.1 375.0 551.0 389.4 561.9 391.3 572.8 405.6 583.7 404.6 594.5 383.7 605.4 365.5 616.3 361.2 627.2 352.4 638.1 355.5 649.0 366.9 659.9 337.3 670.8 362.9 681.7 358.6 692.5 348.1 703.4 362.2 714.3 364.9 725.2 369.2 736.1 379.0 747.0 351.2"/>
<path class="g" d="M202.5 245.5 213.4 224.2 224.3 232.3 235.2 227.3 246.1 203.6 256.9 225.4 267.8 244.7 278.7 239.5 289.6 251.0 300.5 252.7 311.4 259.1 322.3 286.4 333.2 302.7 344.1 324.9 355.0 323.4 365.9 335.9 376.7 327.1 387.6 319.8 398.5 314.7 409.4 307.9 420.3 334.1 431.2 328.2 442.1 331.9 453.0 331.1 463.9 321.8 474.8 317.3 485.6 307.7 496.5 294.2 507.4 285.8 518.3 269.3 529.2 250.2 540.1 271.7 551.0 266.2 561.9 257.5 572.8 258.6 583.7 261.3 594.5 239.1 605.4 246.8 616.3 276.6 627.2 286.4 638.1 299.8 649.0 322.7 659.9 314.4 670.8 300.9 681.7 303.7 692.5 296.9 703.4 294.7 714.3 303.3 725.2 325.6 736.1 324.6 747.0 320.8"/>
<path class="g" d="M202.5 245.5 213.4 270.6 224.3 262.0 235.2 256.9 246.1 247.7 256.9 244.7 267.8 244.6 278.7 236.2 289.6 224.6 300.5 202.3 311.4 214.1 322.3 215.4 333.2 215.5 344.1 213.9 355.0 199.4 365.9 205.8 376.7 209.0 387.6 208.1 398.5 210.4 409.4 219.4 420.3 238.0 431.2 232.8 442.1 231.7 453.0 227.3 463.9 227.7 474.8 225.1 485.6 209.9 496.5 219.6 507.4 218.0 518.3 221.9 529.2 217.8 540.1 204.4 551.0 191.7 561.9 199.2 572.8 198.5 583.7 201.7 594.5 210.0 605.4 215.0 616.3 239.1 627.2 242.3 638.1 225.5 649.0 218.2 659.9 226.8 670.8 249.6 681.7 240.5 692.5 236.9 703.4 217.4 714.3 211.6 725.2 214.5 736.1 215.2 747.0 218.1"/>
<path class="g" d="M202.5 245.5 213.4 254.8 224.3 261.4 235.2 249.7 246.1 241.4 256.9 247.1 267.8 263.1 278.7 280.0 289.6 295.2 300.5 296.3 311.4 295.0 322.3 303.4 333.2 313.6 344.1 294.7 355.0 296.2 365.9 290.0 376.7 313.4 387.6 309.7 398.5 294.5 409.4 284.5 420.3 285.1 431.2 257.1 442.1 266.9 453.0 275.8 463.9 268.1 474.8 274.8 485.6 244.0 496.5 226.7 507.4 242.3 518.3 245.0 529.2 239.5 540.1 236.7 551.0 258.0 561.9 245.3 572.8 253.7 583.7 292.2 594.5 271.0 605.4 286.7 616.3 296.9 627.2 290.5 638.1 292.2 649.0 304.1 659.9 333.5 670.8 304.5 681.7 313.8 692.5 306.9 703.4 303.5 714.3 303.5 725.2 301.9 736.1 300.6 747.0 308.6"/>
<path class="g" d="M202.5 245.5 213.4 259.2 224.3 270.7 235.2 283.8 246.1 283.5 256.9 300.2 267.8 310.5 278.7 320.5 289.6 315.6 300.5 305.6 311.4 279.6 322.3 277.3 333.2 301.3 344.1 291.8 355.0 287.9 365.9 282.6 376.7 294.0 387.6 302.2 398.5 308.4 409.4 282.0 420.3 280.7 431.2 253.8 442.1 278.8 453.0 296.9 463.9 276.1 474.8 256.6 485.6 258.4 496.5 277.6 507.4 289.3 518.3 276.8 529.2 262.6 540.1 259.2 551.0 289.8 561.9 287.1 572.8 287.7 583.7 289.3 594.5 292.1 605.4 304.0 616.3 296.4 627.2 282.4 638.1 316.8 649.0 299.4 659.9 301.6 670.8 296.6 681.7 286.9 692.5 303.5 703.4 299.7 714.3 276.6 725.2 238.7 736.1 246.0 747.0 224.4"/>
<path class="g" d="M202.5 245.5 213.4 267.1 224.3 291.1 235.2 259.7 246.1 252.8 256.9 249.2 267.8 261.4 278.7 238.4 289.6 261.4 300.5 256.4 311.4 257.2 322.3 230.0 333.2 232.9 344.1 234.3 355.0 238.7 365.9 232.5 376.7 246.7 387.6 255.7 398.5 264.4 409.4 264.6 420.3 269.3 431.2 283.4 442.1 297.3 453.0 304.0 463.9 293.1 474.8 300.8 485.6 305.1 496.5 303.9 507.4 286.8 518.3 284.3 529.2 284.1 540.1 307.8 551.0 279.4 561.9 273.5 572.8 280.1 583.7 277.6 594.5 282.6 605.4 265.3 616.3 269.7 627.2 274.4 638.1 286.5 649.0 282.4 659.9 283.4 670.8 312.8 681.7 296.5 692.5 293.4 703.4 302.5 714.3 301.6 725.2 300.9 736.1 310.2 747.0 309.7"/>
<path class="g" d="M202.5 245.5 213.4 249.8 224.3 263.9 235.2 257.2 246.1 266.8 256.9 267.9 267.8 276.9 278.7 276.0 289.6 268.4 300.5 264.5 311.4 277.3 322.3 276.9 333.2 266.4 344.1 281.8 355.0 281.8 365.9 284.2 376.7 282.5 387.6 278.5 398.5 266.1 409.4 251.1 420.3 262.3 431.2 247.0 442.1 253.5 453.0 252.3 463.9 252.9 474.8 260.1 485.6 261.3 496.5 266.3 507.4 267.4 518.3 259.0 529.2 264.1 540.1 255.8 551.0 262.2 561.9 243.0 572.8 251.5 583.7 254.0 594.5 253.2 605.4 248.8 616.3 239.8 627.2 243.6 638.1 250.7 649.0 257.9 659.9 263.6 670.8 268.3 681.7 262.1 692.5 250.2 703.4 249.2 714.3 252.1 725.2 259.4 736.1 274.3 747.0 263.5"/>
<path class="g" d="M202.5 245.5 213.4 254.2 224.3 254.5 235.2 257.1 246.1 244.8 256.9 226.8 267.8 240.6 278.7 223.0 289.6 206.7 300.5 210.8 311.4 217.6 322.3 221.4 333.2 257.8 344.1 280.0 355.0 283.9 365.9 286.4 376.7 268.9 387.6 292.7 398.5 287.6 409.4 296.7 420.3 288.1 431.2 312.2 442.1 316.6 453.0 320.1 463.9 325.0 474.8 338.4 485.6 369.0 496.5 395.9 507.4 393.7 518.3 400.0 529.2 411.7 540.1 391.0 551.0 391.6 561.9 374.2 572.8 363.5 583.7 362.8 594.5 338.9 605.4 330.8 616.3 323.0 627.2 310.3 638.1 317.4 649.0 317.4 659.9 303.8 670.8 297.7 681.7 308.1 692.5 322.9 703.4 311.9 714.3 311.2 725.2 328.2 736.1 365.3 747.0 361.0"/>
<path class="g" d="M202.5 245.5 213.4 267.0 224.3 242.5 235.2 248.6 246.1 244.7 256.9 235.2 267.8 222.2 278.7 224.8 289.6 244.0 300.5 231.9 311.4 238.8 322.3 246.1 333.2 256.8 344.1 235.9 355.0 277.5 365.9 269.6 376.7 290.9 387.6 270.0 398.5 269.8 409.4 267.6 420.3 282.5 431.2 292.0 442.1 314.1 453.0 303.9 463.9 308.1 474.8 296.8 485.6 309.0 496.5 336.4 507.4 329.3 518.3 334.6 529.2 306.0 540.1 313.2 551.0 351.5 561.9 365.5 572.8 350.1 583.7 374.7 594.5 362.2 605.4 364.3 616.3 354.5 627.2 346.0 638.1 362.8 649.0 364.9 659.9 329.4 670.8 323.2 681.7 310.5 692.5 298.3 703.4 281.3 714.3 269.2 725.2 265.2 736.1 255.1 747.0 253.5"/>
<path class="g" d="M202.5 245.5 213.4 258.4 224.3 282.7 235.2 263.3 246.1 252.5 256.9 237.2 267.8 199.1 278.7 213.8 289.6 231.5 300.5 233.5 311.4 238.1 322.3 244.0 333.2 233.7 344.1 241.3 355.0 216.1 365.9 204.7 376.7 211.9 387.6 213.1 398.5 216.1 409.4 215.3 420.3 217.6 431.2 220.0 442.1 221.6 453.0 244.4 463.9 260.0 474.8 261.0 485.6 267.0 496.5 286.6 507.4 290.6 518.3 257.6 529.2 262.3 540.1 249.4 551.0 261.7 561.9 265.7 572.8 288.0 583.7 287.5 594.5 282.2 605.4 261.2 616.3 272.0 627.2 248.4 638.1 231.6 649.0 199.5 659.9 219.4 670.8 223.0 681.7 200.2 692.5 188.1 703.4 184.2 714.3 164.0 725.2 184.1 736.1 181.0 747.0 193.8"/>
<path class="g" d="M202.5 245.5 213.4 242.1 224.3 234.8 235.2 234.3 246.1 240.8 256.9 239.1 267.8 229.5 278.7 212.7 289.6 225.8 300.5 225.6 311.4 234.9 322.3 229.9 333.2 230.8 344.1 237.2 355.0 230.6 365.9 237.0 376.7 241.0 387.6 246.3 398.5 238.2 409.4 261.6 420.3 267.0 431.2 278.0 442.1 288.1 453.0 279.8 463.9 284.6 474.8 298.2 485.6 293.0 496.5 287.1 507.4 298.4 518.3 302.1 529.2 305.9 540.1 294.4 551.0 301.3 561.9 293.0 572.8 274.1 583.7 291.8 594.5 285.9 605.4 269.5 616.3 272.4 627.2 276.6 638.1 255.2 649.0 240.7 659.9 224.1 670.8 235.6 681.7 242.9 692.5 231.9 703.4 238.6 714.3 238.1 725.2 241.5 736.1 225.4 747.0 222.2"/>
<path class="g" d="M202.5 245.5 213.4 252.3 224.3 240.7 235.2 250.0 246.1 241.4 256.9 260.0 267.8 246.6 278.7 243.6 289.6 254.4 300.5 251.4 311.4 257.6 322.3 239.0 333.2 236.9 344.1 263.4 355.0 270.8 365.9 247.5 376.7 230.7 387.6 265.9 398.5 262.1 409.4 261.3 420.3 230.7 431.2 252.7 442.1 255.2 453.0 249.2 463.9 260.0 474.8 261.5 485.6 260.6 496.5 262.9 507.4 267.5 518.3 245.6 529.2 252.5 540.1 249.6 551.0 257.2 561.9 239.6 572.8 239.6 583.7 216.1 594.5 236.5 605.4 217.6 616.3 240.5 627.2 263.0 638.1 258.0 649.0 271.8 659.9 275.3 670.8 263.9 681.7 278.0 692.5 258.2 703.4 269.1 714.3 291.1 725.2 303.1 736.1 307.1 747.0 312.6"/>
<path class="g" d="M202.5 245.5 213.4 270.8 224.3 274.9 235.2 281.4 246.1 278.6 256.9 280.2 267.8 269.6 278.7 259.0 289.6 251.8 300.5 241.3 311.4 238.4 322.3 260.6 333.2 220.6 344.1 223.5 355.0 224.3 365.9 211.7 376.7 197.7 387.6 189.1 398.5 182.2 409.4 196.2 420.3 220.3 431.2 229.4 442.1 253.1 453.0 246.0 463.9 238.8 474.8 230.9 485.6 234.6 496.5 246.0 507.4 267.0 518.3 259.6 529.2 255.2 540.1 268.0 551.0 252.6 561.9 285.7 572.8 282.3 583.7 306.8 594.5 311.0 605.4 286.6 616.3 301.0 627.2 321.4 638.1 335.2 649.0 317.6 659.9 318.6 670.8 316.2 681.7 292.9 692.5 308.9 703.4 320.3 714.3 307.3 725.2 324.6 736.1 332.1 747.0 326.2"/>
<path class="g" d="M202.5 245.5 213.4 263.6 224.3 243.0 235.2 239.1 246.1 238.3 256.9 232.8 267.8 215.2 278.7 215.0 289.6 238.6 300.5 236.7 311.4 213.8 322.3 228.5 333.2 243.7 344.1 250.2 355.0 242.4 365.9 242.1 376.7 253.2 387.6 237.0 398.5 246.5 409.4 251.2 420.3 235.0 431.2 244.4 442.1 251.4 453.0 257.0 463.9 274.8 474.8 274.9 485.6 262.9 496.5 263.1 507.4 255.9 518.3 259.0 529.2 252.1 540.1 265.3 551.0 259.0 561.9 276.2 572.8 265.3 583.7 273.0 594.5 255.0 605.4 238.6 616.3 228.1 627.2 230.9 638.1 238.0 649.0 224.1 659.9 235.6 670.8 254.7 681.7 240.2 692.5 248.4 703.4 233.5 714.3 249.9 725.2 267.3 736.1 286.0 747.0 286.4"/>
<path class="g" d="M202.5 245.5 213.4 265.4 224.3 282.2 235.2 268.7 246.1 265.6 256.9 246.6 267.8 252.5 278.7 241.7 289.6 243.8 300.5 245.5 311.4 248.1 322.3 255.2 333.2 261.1 344.1 235.3 355.0 245.2 365.9 227.7 376.7 212.2 387.6 257.3 398.5 270.4 409.4 284.2 420.3 264.6 431.2 275.6 442.1 270.3 453.0 261.6 463.9 265.6 474.8 287.2 485.6 293.3 496.5 302.0 507.4 303.0 518.3 314.0 529.2 314.9 540.1 316.3 551.0 315.0 561.9 302.3 572.8 287.9 583.7 278.0 594.5 276.3 605.4 286.4 616.3 284.9 627.2 290.8 638.1 289.9 649.0 288.4 659.9 277.1 670.8 266.7 681.7 256.8 692.5 254.3 703.4 238.1 714.3 247.4 725.2 238.5 736.1 236.3 747.0 245.8"/>
<path class="g" d="M202.5 245.5 213.4 255.3 224.3 263.9 235.2 274.8 246.1 262.5 256.9 260.9 267.8 269.7 278.7 273.4 289.6 291.0 300.5 289.9 311.4 289.6 322.3 270.8 333.2 251.9 344.1 228.3 355.0 242.7 365.9 230.5 376.7 215.6 387.6 213.1 398.5 210.1 409.4 205.8 420.3 198.3 431.2 186.3 442.1 160.2 453.0 168.6 463.9 173.7 474.8 185.4 485.6 185.9 496.5 170.1 507.4 159.9 518.3 193.4 529.2 197.6 540.1 199.0 551.0 175.3 561.9 173.8 572.8 188.3 583.7 199.7 594.5 192.5 605.4 209.4 616.3 190.8 627.2 203.1 638.1 205.8 649.0 210.8 659.9 203.9 670.8 222.9 681.7 241.9 692.5 253.8 703.4 241.5 714.3 245.4 725.2 261.6 736.1 268.7 747.0 274.4"/>
<path class="g" d="M202.5 245.5 213.4 251.0 224.3 259.6 235.2 252.7 246.1 251.7 256.9 247.4 267.8 246.8 278.7 277.9 289.6 255.6 300.5 264.4 311.4 271.0 322.3 300.5 333.2 312.6 344.1 298.2 355.0 306.5 365.9 310.5 376.7 323.1 387.6 333.9 398.5 351.8 409.4 333.0 420.3 324.2 431.2 312.7 442.1 294.2 453.0 308.6 463.9 309.9 474.8 291.5 485.6 299.5 496.5 268.4 507.4 255.3 518.3 246.4 529.2 221.9 540.1 232.1 551.0 226.0 561.9 228.4 572.8 236.5 583.7 253.0 594.5 227.2 605.4 213.1 616.3 209.9 627.2 216.9 638.1 236.1 649.0 234.0 659.9 231.8 670.8 236.8 681.7 234.8 692.5 226.6 703.4 219.7 714.3 193.4 725.2 204.6 736.1 210.6 747.0 216.6"/>
<path class="g" d="M202.5 245.5 213.4 225.6 224.3 244.9 235.2 229.6 246.1 238.6 256.9 232.6 267.8 227.3 278.7 224.1 289.6 214.3 300.5 214.4 311.4 213.1 322.3 215.7 333.2 208.1 344.1 212.3 355.0 211.6 365.9 216.8 376.7 202.0 387.6 217.4 398.5 237.1 409.4 235.7 420.3 254.0 431.2 249.9 442.1 261.3 453.0 248.2 463.9 255.1 474.8 260.4 485.6 249.2 496.5 277.5 507.4 293.4 518.3 316.4 529.2 329.6 540.1 301.2 551.0 300.0 561.9 317.6 572.8 298.3 583.7 299.1 594.5 299.8 605.4 302.7 616.3 306.0 627.2 297.4 638.1 276.4 649.0 284.5 659.9 283.3 670.8 292.9 681.7 309.8 692.5 315.5 703.4 304.7 714.3 290.8 725.2 273.3 736.1 289.6 747.0 307.8"/>
<path class="g" d="M202.5 245.5 213.4 231.4 224.3 239.4 235.2 225.3 246.1 227.9 256.9 230.5 267.8 237.8 278.7 236.8 289.6 238.9 300.5 260.7 311.4 265.3 322.3 259.8 333.2 255.3 344.1 269.0 355.0 264.3 365.9 271.5 376.7 268.7 387.6 266.1 398.5 277.5 409.4 277.3 420.3 268.9 431.2 268.5 442.1 255.9 453.0 244.3 463.9 250.9 474.8 257.6 485.6 275.8 496.5 265.8 507.4 272.0 518.3 279.9 529.2 280.0 540.1 282.6 551.0 277.4 561.9 277.2 572.8 285.1 583.7 274.9 594.5 278.7 605.4 266.6 616.3 263.9 627.2 265.6 638.1 265.1 649.0 248.7 659.9 238.1 670.8 218.3 681.7 218.0 692.5 219.5 703.4 234.0 714.3 235.8 725.2 244.5 736.1 249.2 747.0 259.5"/>
<path class="g" d="M202.5 245.5 213.4 254.7 224.3 250.8 235.2 255.1 246.1 226.7 256.9 228.5 267.8 236.0 278.7 237.6 289.6 237.3 300.5 215.9 311.4 213.9 322.3 202.8 333.2 194.6 344.1 212.0 355.0 214.2 365.9 223.4 376.7 217.3 387.6 221.4 398.5 217.0 409.4 233.7 420.3 219.0 431.2 238.1 442.1 236.2 453.0 244.8 463.9 262.3 474.8 251.3 485.6 247.0 496.5 252.0 507.4 258.4 518.3 251.2 529.2 255.5 540.1 236.1 551.0 255.7 561.9 229.4 572.8 216.9 583.7 239.7 594.5 232.4 605.4 237.6 616.3 251.8 627.2 235.8 638.1 242.2 649.0 216.5 659.9 219.8 670.8 234.6 681.7 239.9 692.5 236.8 703.4 230.8 714.3 243.3 725.2 224.7 736.1 223.7 747.0 210.7"/>
<path class="g" d="M202.5 245.5 213.4 244.1 224.3 237.5 235.2 253.6 246.1 262.1 256.9 272.6 267.8 274.7 278.7 277.0 289.6 282.0 300.5 308.7 311.4 336.5 322.3 315.0 333.2 306.8 344.1 313.4 355.0 309.7 365.9 299.4 376.7 312.3 387.6 287.2 398.5 301.2 409.4 318.1 420.3 341.4 431.2 356.5 442.1 375.9 453.0 371.9 463.9 382.5 474.8 386.1 485.6 375.9 496.5 361.0 507.4 350.2 518.3 345.9 529.2 353.0 540.1 349.5 551.0 339.1 561.9 342.3 572.8 338.2 583.7 330.2 594.5 302.8 605.4 296.4 616.3 299.5 627.2 278.9 638.1 268.3 649.0 300.4 659.9 294.7 670.8 289.7 681.7 292.6 692.5 281.4 703.4 291.4 714.3 270.8 725.2 257.7 736.1 274.5 747.0 261.7"/>
<path class="g" d="M202.5 245.5 213.4 259.1 224.3 251.6 235.2 258.2 246.1 255.5 256.9 272.7 267.8 290.7 278.7 297.7 289.6 267.8 300.5 268.2 311.4 248.9 322.3 207.7 333.2 183.6 344.1 190.2 355.0 209.2 365.9 226.3 376.7 212.0 387.6 219.9 398.5 204.7 409.4 172.4 420.3 145.9 431.2 133.6 442.1 142.5 453.0 159.9 463.9 153.2 474.8 171.9 485.6 164.7 496.5 181.1 507.4 193.5 518.3 189.7 529.2 174.4 540.1 164.7 551.0 161.6 561.9 146.0 572.8 148.8 583.7 142.0 594.5 141.3 605.4 117.1 616.3 125.5 627.2 129.5 638.1 137.5 649.0 161.6 659.9 189.9 670.8 193.3 681.7 174.3 692.5 178.3 703.4 147.7 714.3 158.5 725.2 157.1 736.1 161.9 747.0 175.5"/>
<path class="g" d="M202.5 245.5 213.4 263.2 224.3 272.7 235.2 286.1 246.1 272.0 256.9 253.3 267.8 246.0 278.7 231.9 289.6 245.3 300.5 264.4 311.4 269.4 322.3 283.3 333.2 298.5 344.1 282.1 355.0 299.8 365.9 329.5 376.7 332.1 387.6 348.1 398.5 348.1 409.4 351.6 420.3 330.9 431.2 302.2 442.1 276.4 453.0 290.2 463.9 303.2 474.8 312.4 485.6 314.3 496.5 291.4 507.4 285.0 518.3 288.5 529.2 277.0 540.1 268.3 551.0 294.1 561.9 302.9 572.8 319.2 583.7 298.8 594.5 299.2 605.4 248.3 616.3 265.3 627.2 259.6 638.1 224.5 649.0 192.1 659.9 189.9 670.8 193.6 681.7 210.9 692.5 191.2 703.4 230.4 714.3 232.1 725.2 248.2 736.1 240.6 747.0 248.3"/>
<path class="g" d="M202.5 245.5 213.4 253.1 224.3 251.7 235.2 247.4 246.1 245.2 256.9 208.4 267.8 223.6 278.7 229.3 289.6 215.5 300.5 209.4 311.4 182.0 322.3 171.5 333.2 183.1 344.1 194.8 355.0 179.7 365.9 185.9 376.7 174.3 387.6 164.3 398.5 162.2 409.4 171.9 420.3 164.7 431.2 174.1 442.1 182.2 453.0 174.6 463.9 176.4 474.8 168.8 485.6 165.7 496.5 161.3 507.4 142.2 518.3 137.1 529.2 150.7 540.1 178.4 551.0 189.9 561.9 173.2 572.8 192.0 583.7 212.9 594.5 216.6 605.4 187.7 616.3 196.0 627.2 205.3 638.1 208.3 649.0 193.0 659.9 199.3 670.8 213.3 681.7 199.3 692.5 209.0 703.4 216.7 714.3 206.9 725.2 219.6 736.1 225.3 747.0 238.4"/>
<path class="g" d="M202.5 245.5 213.4 229.9 224.3 236.9 235.2 225.4 246.1 213.6 256.9 232.1 267.8 256.9 278.7 246.6 289.6 242.8 300.5 252.5 311.4 246.6 322.3 258.1 333.2 238.1 344.1 235.6 355.0 228.9 365.9 238.7 376.7 250.3 387.6 245.1 398.5 250.3 409.4 247.4 420.3 244.7 431.2 259.7 442.1 272.0 453.0 279.2 463.9 284.1 474.8 296.8 485.6 304.3 496.5 322.3 507.4 309.2 518.3 322.5 529.2 341.5 540.1 338.4 551.0 359.0 561.9 349.7 572.8 347.6 583.7 360.1 594.5 360.8 605.4 354.0 616.3 363.5 627.2 374.3 638.1 397.6 649.0 399.8 659.9 383.1 670.8 368.5 681.7 376.1 692.5 380.0 703.4 352.8 714.3 360.4 725.2 365.6 736.1 369.8 747.0 363.0"/>
<path class="g" d="M202.5 245.5 213.4 248.3 224.3 244.2 235.2 239.7 246.1 225.3 256.9 232.0 267.8 243.2 278.7 241.3 289.6 249.0 300.5 254.9 311.4 255.7 322.3 264.2 333.2 261.0 344.1 264.8 355.0 268.3 365.9 254.9 376.7 246.0 387.6 236.6 398.5 226.1 409.4 221.5 420.3 221.5 431.2 216.8 442.1 212.1 453.0 211.8 463.9 209.2 474.8 224.6 485.6 242.3 496.5 236.6 507.4 242.9 518.3 226.5 529.2 239.7 540.1 235.8 551.0 231.6 561.9 240.4 572.8 228.1 583.7 239.5 594.5 231.0 605.4 221.4 616.3 223.8 627.2 222.3 638.1 224.4 649.0 239.7 659.9 246.8 670.8 239.9 681.7 246.1 692.5 250.6 703.4 245.7 714.3 245.6 725.2 233.2 736.1 232.4 747.0 249.9"/>
<path class="g" d="M202.5 245.5 213.4 230.7 224.3 232.7 235.2 218.9 246.1 224.0 256.9 230.0 267.8 239.8 278.7 270.5 289.6 268.6 300.5 278.8 311.4 255.9 322.3 245.4 333.2 255.3 344.1 262.7 355.0 271.0 365.9 259.9 376.7 255.7 387.6 266.3 398.5 276.5 409.4 278.6 420.3 280.6 431.2 263.3 442.1 262.6 453.0 259.2 463.9 257.2 474.8 267.8 485.6 273.7 496.5 266.6 507.4 245.6 518.3 246.4 529.2 254.9 540.1 243.3 551.0 243.0 561.9 234.5 572.8 223.6 583.7 209.2 594.5 201.5 605.4 186.2 616.3 195.2 627.2 203.6 638.1 217.2 649.0 209.0 659.9 218.5 670.8 224.3 681.7 233.5 692.5 232.4 703.4 236.1 714.3 239.0 725.2 238.2 736.1 239.0 747.0 239.9"/>
<path class="g" d="M202.5 245.5 213.4 241.9 224.3 242.2 235.2 240.9 246.1 242.3 256.9 229.8 267.8 220.0 278.7 228.6 289.6 229.5 300.5 213.8 311.4 225.8 322.3 228.8 333.2 215.1 344.1 201.5 355.0 199.3 365.9 198.3 376.7 197.2 387.6 176.9 398.5 168.2 409.4 161.4 420.3 160.2 431.2 154.2 442.1 144.4 453.0 152.9 463.9 158.8 474.8 164.1 485.6 152.3 496.5 151.3 507.4 144.0 518.3 147.3 529.2 147.8 540.1 146.4 551.0 143.1 561.9 136.7 572.8 131.1 583.7 133.5 594.5 140.9 605.4 147.6 616.3 159.0 627.2 159.8 638.1 160.2 649.0 150.9 659.9 170.0 670.8 160.4 681.7 161.4 692.5 164.3 703.4 174.5 714.3 181.6 725.2 188.6 736.1 205.5 747.0 204.2"/>
<path class="g" d="M202.5 245.5 213.4 247.7 224.3 255.7 235.2 247.2 246.1 244.9 256.9 252.5 267.8 260.5 278.7 260.0 289.6 252.1 300.5 253.7 311.4 249.2 322.3 255.3 333.2 248.2 344.1 246.8 355.0 256.4 365.9 243.7 376.7 253.3 387.6 262.5 398.5 253.2 409.4 253.2 420.3 239.4 431.2 234.2 442.1 237.0 453.0 236.7 463.9 220.6 474.8 233.0 485.6 232.2 496.5 255.2 507.4 250.8 518.3 254.4 529.2 250.6 540.1 249.9 551.0 253.1 561.9 247.4 572.8 270.4 583.7 255.4 594.5 279.5 605.4 286.2 616.3 264.8 627.2 260.9 638.1 271.4 649.0 262.5 659.9 252.8 670.8 251.4 681.7 241.6 692.5 228.3 703.4 221.9 714.3 219.1 725.2 218.5 736.1 236.2 747.0 242.4"/>
<path class="g" d="M202.5 245.5 213.4 246.3 224.3 238.0 235.2 242.8 246.1 233.3 256.9 204.4 267.8 219.8 278.7 225.4 289.6 235.5 300.5 242.9 311.4 236.3 322.3 239.5 333.2 223.6 344.1 233.0 355.0 247.4 365.9 238.3 376.7 224.9 387.6 233.9 398.5 258.9 409.4 257.3 420.3 240.5 431.2 241.9 442.1 232.0 453.0 252.4 463.9 250.8 474.8 263.9 485.6 283.3 496.5 254.5 507.4 234.3 518.3 234.6 529.2 236.1 540.1 226.5 551.0 209.3 561.9 196.4 572.8 196.4 583.7 214.4 594.5 215.5 605.4 214.3 616.3 222.5 627.2 219.8 638.1 216.5 649.0 224.8 659.9 201.6 670.8 218.7 681.7 237.9 692.5 238.2 703.4 234.8 714.3 266.7 725.2 286.5 736.1 285.1 747.0 300.5"/>
<path class="g" d="M202.5 245.5 213.4 236.5 224.3 255.0 235.2 252.2 246.1 249.1 256.9 240.6 267.8 235.2 278.7 233.4 289.6 217.0 300.5 224.1 311.4 224.4 322.3 230.9 333.2 220.8 344.1 243.0 355.0 241.1 365.9 229.7 376.7 211.0 387.6 194.0 398.5 190.6 409.4 188.0 420.3 225.7 431.2 236.8 442.1 220.2 453.0 250.4 463.9 261.6 474.8 294.2 485.6 301.9 496.5 321.9 507.4 339.1 518.3 335.3 529.2 335.6 540.1 327.3 551.0 340.9 561.9 320.8 572.8 313.3 583.7 304.0 594.5 309.0 605.4 301.6 616.3 326.4 627.2 346.4 638.1 350.5 649.0 331.9 659.9 341.7 670.8 329.6 681.7 324.1 692.5 336.4 703.4 320.2 714.3 304.5 725.2 302.1 736.1 286.3 747.0 284.3"/>
<path class="g" d="M202.5 245.5 213.4 235.1 224.3 243.4 235.2 234.6 246.1 259.4 256.9 265.8 267.8 264.0 278.7 255.4 289.6 251.5 300.5 221.4 311.4 224.1 322.3 235.1 333.2 241.9 344.1 235.8 355.0 243.2 365.9 251.0 376.7 248.8 387.6 252.8 398.5 265.7 409.4 271.1 420.3 265.7 431.2 265.3 442.1 266.8 453.0 245.4 463.9 246.6 474.8 244.5 485.6 215.8 496.5 193.1 507.4 216.0 518.3 216.8 529.2 233.8 540.1 228.4 551.0 247.9 561.9 254.8 572.8 245.5 583.7 248.7 594.5 268.6 605.4 299.3 616.3 305.6 627.2 299.4 638.1 287.8 649.0 296.4 659.9 310.4 670.8 311.9 681.7 310.3 692.5 320.7 703.4 326.8 714.3 331.7 725.2 311.7 736.1 307.2 747.0 331.7"/>
<path class="g" d="M202.5 245.5 213.4 225.0 224.3 236.1 235.2 269.1 246.1 283.4 256.9 290.0 267.8 294.1 278.7 284.6 289.6 290.1 300.5 243.7 311.4 226.4 322.3 223.2 333.2 224.0 344.1 213.9 355.0 211.3 365.9 224.3 376.7 239.5 387.6 251.6 398.5 256.3 409.4 259.8 420.3 251.2 431.2 265.2 442.1 283.5 453.0 285.6 463.9 293.2 474.8 292.4 485.6 288.0 496.5 271.8 507.4 280.2 518.3 269.3 529.2 256.4 540.1 245.3 551.0 258.5 561.9 261.0 572.8 272.8 583.7 263.9 594.5 260.9 605.4 259.1 616.3 260.9 627.2 256.8 638.1 250.1 649.0 251.9 659.9 247.4 670.8 267.4 681.7 303.9 692.5 306.4 703.4 292.4 714.3 283.0 725.2 283.5 736.1 288.6 747.0 295.5"/>
<path class="g" d="M202.5 245.5 213.4 244.9 224.3 250.7 235.2 257.5 246.1 251.6 256.9 233.6 267.8 251.4 278.7 267.4 289.6 267.6 300.5 281.5 311.4 285.3 322.3 279.7 333.2 286.0 344.1 282.8 355.0 292.5 365.9 295.5 376.7 296.0 387.6 307.3 398.5 281.5 409.4 270.8 420.3 230.1 431.2 218.4 442.1 205.5 453.0 206.9 463.9 203.0 474.8 202.9 485.6 214.0 496.5 213.6 507.4 207.5 518.3 196.4 529.2 216.2 540.1 237.7 551.0 240.1 561.9 249.1 572.8 238.8 583.7 250.1 594.5 249.1 605.4 265.2 616.3 272.6 627.2 266.6 638.1 269.3 649.0 281.1 659.9 290.9 670.8 295.3 681.7 304.0 692.5 299.4 703.4 306.9 714.3 299.4 725.2 298.8 736.1 293.7 747.0 334.1"/>
<path class="g" d="M202.5 245.5 213.4 237.2 224.3 242.7 235.2 246.0 246.1 240.6 256.9 225.6 267.8 232.1 278.7 235.5 289.6 221.5 300.5 221.8 311.4 234.7 322.3 222.4 333.2 215.0 344.1 203.8 355.0 202.8 365.9 194.6 376.7 212.2 387.6 238.5 398.5 228.3 409.4 235.6 420.3 225.5 431.2 207.4 442.1 190.3 453.0 182.8 463.9 192.4 474.8 198.3 485.6 173.0 496.5 183.3 507.4 170.9 518.3 159.0 529.2 178.1 540.1 190.1 551.0 188.8 561.9 182.3 572.8 183.2 583.7 166.8 594.5 162.1 605.4 166.0 616.3 156.4 627.2 155.7 638.1 153.9 649.0 165.4 659.9 167.1 670.8 163.1 681.7 162.4 692.5 163.9 703.4 156.1 714.3 162.6 725.2 172.5 736.1 178.5 747.0 193.8"/>
<path class="g" d="M202.5 245.5 213.4 251.5 224.3 235.9 235.2 242.5 246.1 250.0 256.9 257.7 267.8 254.7 278.7 266.8 289.6 261.9 300.5 275.1 311.4 276.3 322.3 276.0 333.2 270.7 344.1 257.6 355.0 267.3 365.9 260.0 376.7 263.3 387.6 266.2 398.5 268.9 409.4 271.3 420.3 277.5 431.2 282.3 442.1 291.9 453.0 289.1 463.9 282.3 474.8 278.9 485.6 272.1 496.5 262.6 507.4 261.7 518.3 258.9 529.2 276.7 540.1 285.3 551.0 277.2 561.9 271.8 572.8 274.1 583.7 288.2 594.5 290.7 605.4 294.7 616.3 281.7 627.2 294.9 638.1 287.9 649.0 284.8 659.9 281.4 670.8 278.3 681.7 282.3 692.5 293.8 703.4 288.8 714.3 301.4 725.2 305.6 736.1 299.2 747.0 307.0"/>
<path class="g" d="M202.5 245.5 213.4 245.0 224.3 261.5 235.2 270.5 246.1 246.2 256.9 233.3 267.8 233.7 278.7 250.2 289.6 250.6 300.5 238.2 311.4 231.8 322.3 232.0 333.2 229.4 344.1 226.8 355.0 219.5 365.9 220.9 376.7 215.6 387.6 215.7 398.5 213.5 409.4 217.5 420.3 217.3 431.2 220.9 442.1 223.8 453.0 210.9 463.9 202.9 474.8 206.3 485.6 226.2 496.5 249.0 507.4 244.4 518.3 245.6 529.2 236.2 540.1 221.0 551.0 241.0 561.9 246.6 572.8 270.7 583.7 273.1 594.5 281.4 605.4 297.1 616.3 313.5 627.2 319.2 638.1 301.0 649.0 322.6 659.9 327.8 670.8 319.8 681.7 290.7 692.5 277.0 703.4 290.5 714.3 293.0 725.2 262.5 736.1 262.8 747.0 269.6"/>
<path class="g" d="M202.5 245.5 213.4 251.1 224.3 246.0 235.2 234.7 246.1 242.8 256.9 244.2 267.8 224.7 278.7 206.6 289.6 232.9 300.5 233.3 311.4 229.5 322.3 204.5 333.2 190.1 344.1 240.6 355.0 261.6 365.9 273.3 376.7 296.0 387.6 267.5 398.5 264.3 409.4 264.2 420.3 283.1 431.2 293.4 442.1 307.7 453.0 310.1 463.9 323.6 474.8 333.7 485.6 318.9 496.5 324.6 507.4 310.3 518.3 292.3 529.2 296.9 540.1 286.8 551.0 263.9 561.9 271.3 572.8 281.7 583.7 304.9 594.5 307.8 605.4 312.5 616.3 331.4 627.2 353.9 638.1 365.1 649.0 368.9 659.9 370.2 670.8 387.4 681.7 370.6 692.5 407.7 703.4 380.3 714.3 392.4 725.2 381.6 736.1 378.1 747.0 358.7"/>
<path class="g" d="M202.5 245.5 213.4 239.3 224.3 240.0 235.2 247.2 246.1 231.0 256.9 222.2 267.8 206.9 278.7 189.2 289.6 190.1 300.5 204.3 311.4 187.1 322.3 206.2 333.2 199.8 344.1 204.1 355.0 211.6 365.9 205.5 376.7 226.3 387.6 225.6 398.5 226.0 409.4 228.9 420.3 233.2 431.2 227.7 442.1 236.3 453.0 250.7 463.9 236.9 474.8 227.2 485.6 225.2 496.5 232.0 507.4 226.3 518.3 227.5 529.2 234.2 540.1 249.7 551.0 258.1 561.9 238.9 572.8 247.5 583.7 260.4 594.5 271.1 605.4 290.6 616.3 295.5 627.2 275.4 638.1 277.5 649.0 291.2 659.9 290.9 670.8 301.6 681.7 286.5 692.5 302.7 703.4 287.2 714.3 283.9 725.2 273.7 736.1 258.3 747.0 253.4"/>
<path class="g" d="M202.5 245.5 213.4 240.8 224.3 258.6 235.2 244.1 246.1 249.6 256.9 220.4 267.8 222.9 278.7 216.9 289.6 205.0 300.5 184.4 311.4 201.2 322.3 195.9 333.2 202.7 344.1 188.8 355.0 176.3 365.9 168.4 376.7 149.6 387.6 164.6 398.5 179.4 409.4 176.9 420.3 197.7 431.2 200.0 442.1 206.6 453.0 216.7 463.9 217.1 474.8 224.7 485.6 204.3 496.5 228.2 507.4 240.6 518.3 227.9 529.2 254.9 540.1 248.7 551.0 272.9 561.9 278.1 572.8 289.7 583.7 298.1 594.5 306.9 605.4 305.4 616.3 296.2 627.2 285.6 638.1 294.4 649.0 288.9 659.9 290.1 670.8 289.6 681.7 307.6 692.5 316.3 703.4 319.9 714.3 318.2 725.2 333.3 736.1 337.7 747.0 341.7"/>
<path class="g" d="M202.5 245.5 213.4 237.0 224.3 229.3 235.2 228.6 246.1 215.9 256.9 216.8 267.8 228.9 278.7 208.5 289.6 225.4 300.5 234.1 311.4 255.1 322.3 252.9 333.2 263.9 344.1 284.6 355.0 254.6 365.9 254.0 376.7 282.8 387.6 291.9 398.5 329.7 409.4 331.3 420.3 315.9 431.2 299.0 442.1 279.0 453.0 266.3 463.9 280.6 474.8 277.4 485.6 256.3 496.5 272.3 507.4 288.9 518.3 291.5 529.2 323.0 540.1 293.1 551.0 282.7 561.9 250.4 572.8 243.8 583.7 229.6 594.5 241.9 605.4 261.4 616.3 231.1 627.2 243.4 638.1 262.8 649.0 264.5 659.9 241.6 670.8 265.9 681.7 283.9 692.5 308.9 703.4 334.4 714.3 347.6 725.2 322.6 736.1 315.1 747.0 333.4"/>
<path class="g" d="M202.5 245.5 213.4 230.5 224.3 241.1 235.2 244.4 246.1 258.8 256.9 248.0 267.8 251.9 278.7 268.1 289.6 276.3 300.5 260.5 311.4 244.4 322.3 247.5 333.2 254.8 344.1 271.1 355.0 268.9 365.9 264.7 376.7 267.5 387.6 235.7 398.5 247.6 409.4 230.8 420.3 218.8 431.2 227.8 442.1 226.0 453.0 241.2 463.9 233.2 474.8 222.4 485.6 217.1 496.5 229.2 507.4 240.4 518.3 230.6 529.2 221.8 540.1 230.1 551.0 229.1 561.9 248.3 572.8 261.5 583.7 254.4 594.5 255.5 605.4 271.0 616.3 280.7 627.2 292.6 638.1 298.2 649.0 301.0 659.9 297.4 670.8 312.3 681.7 320.4 692.5 326.9 703.4 335.5 714.3 336.4 725.2 327.2 736.1 331.5 747.0 341.9"/>
<path class="g" d="M202.5 245.5 213.4 245.2 224.3 241.3 235.2 231.6 246.1 214.8 256.9 211.3 267.8 204.2 278.7 219.2 289.6 225.7 300.5 222.9 311.4 223.4 322.3 204.1 333.2 193.0 344.1 189.0 355.0 184.0 365.9 186.5 376.7 190.2 387.6 182.3 398.5 182.6 409.4 169.7 420.3 168.1 431.2 174.9 442.1 176.7 453.0 157.5 463.9 150.9 474.8 148.1 485.6 160.6 496.5 158.7 507.4 170.9 518.3 178.4 529.2 166.4 540.1 160.9 551.0 158.5 561.9 161.5 572.8 171.1 583.7 167.6 594.5 181.0 605.4 171.7 616.3 180.4 627.2 187.2 638.1 174.6 649.0 181.5 659.9 195.5 670.8 196.6 681.7 207.5 692.5 217.9 703.4 210.6 714.3 232.4 725.2 224.8 736.1 237.0 747.0 229.4"/>
<path class="g" d="M202.5 245.5 213.4 238.6 224.3 254.6 235.2 255.5 246.1 267.3 256.9 257.8 267.8 259.1 278.7 263.4 289.6 267.6 300.5 266.5 311.4 268.3 322.3 275.9 333.2 281.0 344.1 268.5 355.0 274.9 365.9 284.2 376.7 294.2 387.6 293.6 398.5 280.3 409.4 273.0 420.3 256.7 431.2 254.5 442.1 259.7 453.0 254.1 463.9 245.5 474.8 247.0 485.6 242.8 496.5 236.4 507.4 239.4 518.3 247.6 529.2 235.6 540.1 228.9 551.0 221.1 561.9 220.1 572.8 217.6 583.7 226.1 594.5 220.1 605.4 212.5 616.3 231.1 627.2 232.6 638.1 218.0 649.0 219.5 659.9 225.2 670.8 234.8 681.7 217.2 692.5 224.8 703.4 220.3 714.3 205.5 725.2 210.0 736.1 200.5 747.0 194.5"/>
<path class="g" d="M202.5 245.5 213.4 245.1 224.3 249.1 235.2 220.9 246.1 208.8 256.9 211.2 267.8 213.3 278.7 194.3 289.6 191.1 300.5 206.8 311.4 226.3 322.3 232.8 333.2 226.0 344.1 217.1 355.0 217.5 365.9 206.1 376.7 203.9 387.6 178.2 398.5 202.2 409.4 207.5 420.3 218.8 431.2 198.3 442.1 194.0 453.0 199.2 463.9 205.7 474.8 211.1 485.6 202.3 496.5 210.5 507.4 201.8 518.3 224.8 529.2 220.6 540.1 232.7 551.0 240.9 561.9 231.1 572.8 237.3 583.7 253.3 594.5 258.2 605.4 255.3 616.3 261.0 627.2 267.5 638.1 247.3 649.0 214.6 659.9 204.8 670.8 193.3 681.7 202.8 692.5 209.7 703.4 201.8 714.3 210.6 725.2 215.6 736.1 238.1 747.0 253.4"/>
<path class="g" d="M202.5 245.5 213.4 247.8 224.3 272.0 235.2 275.6 246.1 261.4 256.9 258.2 267.8 270.9 278.7 272.0 289.6 273.5 300.5 296.9 311.4 297.2 322.3 305.4 333.2 295.3 344.1 294.6 355.0 306.0 365.9 285.3 376.7 293.5 387.6 285.7 398.5 286.4 409.4 303.6 420.3 318.5 431.2 317.4 442.1 289.7 453.0 303.0 463.9 302.3 474.8 290.4 485.6 285.0 496.5 300.0 507.4 299.1 518.3 314.6 529.2 326.0 540.1 314.1 551.0 313.7 561.9 300.3 572.8 293.7 583.7 288.5 594.5 274.7 605.4 294.1 616.3 315.9 627.2 326.0 638.1 325.6 649.0 340.7 659.9 349.9 670.8 350.1 681.7 360.4 692.5 367.7 703.4 350.6 714.3 364.8 725.2 356.5 736.1 362.2 747.0 339.3"/>
<path class="g" d="M202.5 245.5 213.4 233.1 224.3 249.7 235.2 258.5 246.1 248.1 256.9 243.9 267.8 254.8 278.7 232.9 289.6 254.7 300.5 250.8 311.4 228.4 322.3 237.5 333.2 248.1 344.1 254.8 355.0 233.3 365.9 238.7 376.7 234.9 387.6 238.7 398.5 249.5 409.4 248.0 420.3 225.5 431.2 238.6 442.1 243.1 453.0 253.0 463.9 262.8 474.8 269.7 485.6 271.4 496.5 264.1 507.4 271.4 518.3 264.2 529.2 271.3 540.1 262.3 551.0 266.6 561.9 259.1 572.8 254.9 583.7 237.3 594.5 247.3 605.4 244.3 616.3 246.4 627.2 248.6 638.1 255.7 649.0 244.9 659.9 244.3 670.8 250.7 681.7 251.8 692.5 231.3 703.4 220.2 714.3 228.8 725.2 241.2 736.1 226.1 747.0 218.9"/>
<path class="g" d="M202.5 245.5 213.4 245.6 224.3 248.8 235.2 254.8 246.1 252.6 256.9 238.8 267.8 235.1 278.7 232.2 289.6 227.5 300.5 247.7 311.4 248.2 322.3 248.8 333.2 249.0 344.1 257.9 355.0 275.2 365.9 286.4 376.7 283.1 387.6 292.5 398.5 306.5 409.4 312.5 420.3 297.5 431.2 275.9 442.1 270.3 453.0 248.0 463.9 252.9 474.8 269.3 485.6 280.3 496.5 281.5 507.4 286.2 518.3 273.2 529.2 270.3 540.1 264.9 551.0 280.7 561.9 250.2 572.8 255.0 583.7 254.6 594.5 257.1 605.4 248.8 616.3 220.9 627.2 200.7 638.1 188.0 649.0 191.8 659.9 214.6 670.8 225.8 681.7 239.4 692.5 232.4 703.4 237.9 714.3 229.9 725.2 206.3 736.1 201.4 747.0 207.3"/>
<path class="g" d="M202.5 245.5 213.4 249.9 224.3 264.4 235.2 268.4 246.1 277.8 256.9 279.6 267.8 280.0 278.7 265.3 289.6 254.0 300.5 262.3 311.4 263.6 322.3 264.6 333.2 253.1 344.1 261.8 355.0 270.1 365.9 276.0 376.7 279.5 387.6 281.1 398.5 294.5 409.4 301.2 420.3 285.2 431.2 272.5 442.1 268.9 453.0 276.3 463.9 290.1 474.8 289.9 485.6 288.6 496.5 314.3 507.4 310.8 518.3 332.0 529.2 314.8 540.1 325.8 551.0 323.7 561.9 317.7 572.8 296.2 583.7 304.2 594.5 290.1 605.4 297.6 616.3 304.6 627.2 292.0 638.1 296.2 649.0 305.8 659.9 306.8 670.8 285.7 681.7 278.4 692.5 272.1 703.4 277.7 714.3 261.0 725.2 268.2 736.1 258.1 747.0 260.2"/>
<path class="g" d="M202.5 245.5 213.4 241.3 224.3 247.0 235.2 236.7 246.1 223.6 256.9 246.5 267.8 230.8 278.7 234.3 289.6 241.5 300.5 227.0 311.4 222.3 322.3 216.7 333.2 208.9 344.1 197.0 355.0 209.5 365.9 217.8 376.7 218.0 387.6 213.2 398.5 222.7 409.4 221.6 420.3 233.9 431.2 225.4 442.1 212.3 453.0 209.9 463.9 222.8 474.8 224.0 485.6 215.4 496.5 197.4 507.4 232.5 518.3 248.1 529.2 242.0 540.1 261.0 551.0 263.1 561.9 255.7 572.8 252.8 583.7 265.3 594.5 259.6 605.4 266.1 616.3 259.1 627.2 266.2 638.1 255.0 649.0 269.7 659.9 280.5 670.8 274.0 681.7 273.5 692.5 288.2 703.4 280.4 714.3 259.0 725.2 259.0 736.1 245.2 747.0 241.3"/>
<path class="g" d="M202.5 245.5 213.4 246.1 224.3 250.2 235.2 255.4 246.1 258.3 256.9 265.0 267.8 268.4 278.7 272.2 289.6 286.9 300.5 279.3 311.4 287.6 322.3 289.3 333.2 292.3 344.1 279.0 355.0 276.6 365.9 276.1 376.7 274.6 387.6 263.7 398.5 276.2 409.4 264.7 420.3 260.7 431.2 255.4 442.1 246.6 453.0 241.8 463.9 230.1 474.8 233.1 485.6 251.0 496.5 251.2 507.4 225.9 518.3 217.9 529.2 215.8 540.1 191.8 551.0 201.2 561.9 205.1 572.8 202.5 583.7 218.2 594.5 216.6 605.4 215.3 616.3 216.5 627.2 202.4 638.1 198.9 649.0 223.3 659.9 233.8 670.8 233.8 681.7 266.2 692.5 263.6 703.4 245.5 714.3 248.3 725.2 264.8 736.1 282.1 747.0 272.8"/>
<path class="g" d="M202.5 245.5 213.4 232.1 224.3 226.7 235.2 232.2 246.1 231.0 256.9 220.2 267.8 201.0 278.7 200.0 289.6 206.5 300.5 200.8 311.4 201.9 322.3 207.5 333.2 200.2 344.1 207.0 355.0 198.2 365.9 187.2 376.7 175.6 387.6 156.6 398.5 160.2 409.4 166.8 420.3 168.2 431.2 167.0 442.1 174.5 453.0 185.6 463.9 183.4 474.8 183.1 485.6 177.7 496.5 183.9 507.4 189.5 518.3 198.7 529.2 195.6 540.1 182.3 551.0 186.6 561.9 185.4 572.8 184.1 583.7 190.1 594.5 197.1 605.4 187.6 616.3 205.5 627.2 190.6 638.1 187.6 649.0 192.1 659.9 172.4 670.8 164.8 681.7 169.0 692.5 169.2 703.4 178.3 714.3 185.7 725.2 194.3 736.1 204.7 747.0 206.6"/>
<path class="g" d="M202.5 245.5 213.4 245.9 224.3 251.9 235.2 255.3 246.1 253.5 256.9 274.8 267.8 265.6 278.7 266.5 289.6 263.2 300.5 276.0 311.4 250.2 322.3 269.6 333.2 267.8 344.1 274.0 355.0 260.6 365.9 276.5 376.7 285.0 387.6 293.8 398.5 265.5 409.4 257.7 420.3 265.9 431.2 269.1 442.1 270.3 453.0 274.7 463.9 255.1 474.8 239.0 485.6 237.9 496.5 236.3 507.4 242.1 518.3 243.7 529.2 257.7 540.1 247.9 551.0 261.9 561.9 236.4 572.8 246.8 583.7 262.8 594.5 260.0 605.4 240.5 616.3 234.6 627.2 242.0 638.1 257.3 649.0 248.9 659.9 247.0 670.8 246.1 681.7 236.5 692.5 226.4 703.4 211.5 714.3 208.1 725.2 227.9 736.1 225.8 747.0 236.2"/>
<path class="g" d="M202.5 245.5 213.4 254.9 224.3 248.4 235.2 240.5 246.1 244.6 256.9 248.0 267.8 261.5 278.7 272.3 289.6 282.3 300.5 275.5 311.4 277.3 322.3 278.9 333.2 276.8 344.1 281.2 355.0 282.1 365.9 283.5 376.7 280.1 387.6 269.5 398.5 287.8 409.4 274.9 420.3 290.3 431.2 297.3 442.1 292.3 453.0 277.8 463.9 255.5 474.8 252.7 485.6 234.7 496.5 242.1 507.4 241.6 518.3 247.7 529.2 243.0 540.1 245.0 551.0 229.1 561.9 220.5 572.8 209.3 583.7 237.7 594.5 242.4 605.4 251.0 616.3 260.4 627.2 269.4 638.1 269.0 649.0 251.3 659.9 258.6 670.8 266.8 681.7 265.1 692.5 278.4 703.4 247.3 714.3 225.4 725.2 223.8 736.1 218.0 747.0 204.5"/>
<path class="g" d="M202.5 245.5 213.4 244.9 224.3 233.8 235.2 234.2 246.1 215.7 256.9 206.4 267.8 197.3 278.7 217.0 289.6 207.2 300.5 233.1 311.4 230.9 322.3 233.3 333.2 234.5 344.1 250.7 355.0 245.9 365.9 241.8 376.7 227.5 387.6 222.3 398.5 230.6 409.4 211.0 420.3 212.2 431.2 212.5 442.1 210.9 453.0 186.1 463.9 172.3 474.8 158.3 485.6 147.0 496.5 155.9 507.4 162.1 518.3 184.1 529.2 184.1 540.1 171.5 551.0 186.1 561.9 193.0 572.8 195.9 583.7 205.2 594.5 192.2 605.4 213.5 616.3 218.3 627.2 210.7 638.1 217.2 649.0 230.2 659.9 230.7 670.8 234.1 681.7 226.4 692.5 244.2 703.4 255.2 714.3 253.7 725.2 254.9 736.1 255.3 747.0 234.3"/>
<path class="g" d="M202.5 245.5 213.4 243.2 224.3 239.4 235.2 222.9 246.1 214.6 256.9 209.5 267.8 202.4 278.7 183.3 289.6 189.8 300.5 198.5 311.4 208.9 322.3 211.9 333.2 208.4 344.1 199.9 355.0 200.2 365.9 216.1 376.7 237.6 387.6 220.4 398.5 189.3 409.4 206.6 420.3 202.1 431.2 214.1 442.1 199.9 453.0 209.8 463.9 201.4 474.8 177.6 485.6 201.1 496.5 203.3 507.4 180.9 518.3 183.9 529.2 194.5 540.1 203.9 551.0 184.2 561.9 187.7 572.8 174.7 583.7 208.2 594.5 217.0 605.4 218.3 616.3 219.1 627.2 214.4 638.1 201.3 649.0 204.5 659.9 190.8 670.8 194.2 681.7 194.7 692.5 192.0 703.4 220.0 714.3 228.2 725.2 257.0 736.1 235.5 747.0 254.2"/>
<path class="g" d="M202.5 245.5 213.4 244.9 224.3 245.3 235.2 257.5 246.1 252.7 256.9 249.2 267.8 245.2 278.7 240.3 289.6 245.3 300.5 237.7 311.4 227.9 322.3 214.9 333.2 215.4 344.1 226.1 355.0 227.3 365.9 235.8 376.7 231.8 387.6 238.4 398.5 251.1 409.4 245.5 420.3 237.7 431.2 237.4 442.1 243.6 453.0 247.7 463.9 245.3 474.8 249.2 485.6 250.5 496.5 258.5 507.4 252.1 518.3 247.0 529.2 248.7 540.1 239.7 551.0 241.3 561.9 249.3 572.8 237.0 583.7 241.3 594.5 232.9 605.4 226.3 616.3 220.1 627.2 216.7 638.1 206.9 649.0 210.5 659.9 211.1 670.8 212.3 681.7 229.9 692.5 231.5 703.4 237.9 714.3 241.6 725.2 237.1 736.1 245.4 747.0 246.2"/>
<path class="g" d="M202.5 245.5 213.4 245.8 224.3 223.6 235.2 235.8 246.1 221.6 256.9 197.4 267.8 188.0 278.7 192.3 289.6 190.9 300.5 175.0 311.4 190.6 322.3 205.8 333.2 240.2 344.1 247.6 355.0 246.0 365.9 238.2 376.7 239.2 387.6 234.5 398.5 214.8 409.4 223.8 420.3 219.0 431.2 209.9 442.1 213.1 453.0 214.8 463.9 208.8 474.8 216.2 485.6 276.6 496.5 284.3 507.4 269.3 518.3 238.5 529.2 230.3 540.1 242.8 551.0 231.3 561.9 241.1 572.8 241.6 583.7 243.2 594.5 224.8 605.4 229.8 616.3 214.2 627.2 210.2 638.1 201.0 649.0 214.2 659.9 198.6 670.8 189.2 681.7 182.1 692.5 159.7 703.4 140.0 714.3 160.8 725.2 195.2 736.1 197.0 747.0 200.1"/>
<path class="g" d="M202.5 245.5 213.4 228.7 224.3 231.6 235.2 255.0 246.1 273.3 256.9 266.5 267.8 292.1 278.7 292.1 289.6 302.5 300.5 292.0 311.4 293.3 322.3 280.2 333.2 272.6 344.1 259.2 355.0 258.5 365.9 253.4 376.7 264.7 387.6 281.6 398.5 278.6 409.4 292.1 420.3 296.1 431.2 298.0 442.1 302.6 453.0 295.2 463.9 298.0 474.8 326.8 485.6 333.2 496.5 311.6 507.4 314.0 518.3 317.2 529.2 322.1 540.1 319.1 551.0 321.3 561.9 301.1 572.8 287.3 583.7 294.8 594.5 298.8 605.4 298.6 616.3 300.1 627.2 285.6 638.1 268.6 649.0 269.4 659.9 277.0 670.8 269.5 681.7 285.9 692.5 295.0 703.4 302.1 714.3 287.9 725.2 301.7 736.1 296.6 747.0 290.2"/>
<path class="g" d="M202.5 245.5 213.4 237.2 224.3 247.2 235.2 259.4 246.1 260.4 256.9 291.9 267.8 301.1 278.7 313.3 289.6 277.9 300.5 281.5 311.4 277.4 322.3 274.8 333.2 255.4 344.1 261.2 355.0 250.7 365.9 247.5 376.7 242.8 387.6 230.3 398.5 237.4 409.4 239.1 420.3 238.3 431.2 227.8 442.1 225.7 453.0 234.2 463.9 230.0 474.8 228.9 485.6 207.0 496.5 221.6 507.4 223.6 518.3 238.4 529.2 226.7 540.1 215.1 551.0 207.1 561.9 185.6 572.8 208.3 583.7 217.4 594.5 247.6 605.4 256.8 616.3 271.4 627.2 276.0 638.1 292.7 649.0 297.3 659.9 309.1 670.8 300.3 681.7 279.2 692.5 285.4 703.4 298.6 714.3 281.6 725.2 259.6 736.1 260.8 747.0 252.0"/>
<path class="g" d="M202.5 245.5 213.4 257.1 224.3 265.7 235.2 268.9 246.1 241.3 256.9 245.7 267.8 250.0 278.7 261.9 289.6 264.1 300.5 278.8 311.4 295.6 322.3 297.8 333.2 309.4 344.1 316.4 355.0 323.9 365.9 312.7 376.7 310.1 387.6 320.1 398.5 313.6 409.4 334.5 420.3 342.4 431.2 314.8 442.1 315.5 453.0 341.1 463.9 375.2 474.8 387.2 485.6 398.3 496.5 389.8 507.4 380.0 518.3 398.5 529.2 373.0 540.1 372.7 551.0 384.1 561.9 387.9 572.8 360.9 583.7 340.5 594.5 347.5 605.4 332.3 616.3 318.4 627.2 315.0 638.1 348.0 649.0 345.5 659.9 344.6 670.8 339.1 681.7 341.5 692.5 357.1 703.4 365.8 714.3 365.7 725.2 354.0 736.1 359.7 747.0 357.7"/>
<path class="g" d="M202.5 245.5 213.4 263.9 224.3 265.9 235.2 272.0 246.1 275.3 256.9 279.7 267.8 288.3 278.7 296.2 289.6 308.5 300.5 307.9 311.4 306.5 322.3 301.5 333.2 278.9 344.1 293.8 355.0 286.9 365.9 268.1 376.7 283.5 387.6 292.9 398.5 267.3 409.4 240.1 420.3 247.7 431.2 247.1 442.1 250.7 453.0 249.8 463.9 272.3 474.8 252.4 485.6 257.6 496.5 255.7 507.4 245.3 518.3 254.4 529.2 255.3 540.1 262.5 551.0 269.8 561.9 291.1 572.8 285.5 583.7 291.1 594.5 300.2 605.4 325.0 616.3 323.7 627.2 331.5 638.1 344.4 649.0 345.6 659.9 344.5 670.8 321.9 681.7 339.6 692.5 342.0 703.4 341.2 714.3 348.8 725.2 346.8 736.1 345.3 747.0 352.1"/>
<path class="g" d="M202.5 245.5 213.4 263.6 224.3 267.5 235.2 277.6 246.1 266.9 256.9 256.7 267.8 262.3 278.7 266.8 289.6 277.9 300.5 268.6 311.4 274.6 322.3 275.8 333.2 293.7 344.1 312.9 355.0 318.2 365.9 309.1 376.7 299.1 387.6 301.5 398.5 300.0 409.4 310.7 420.3 335.8 431.2 344.7 442.1 355.7 453.0 341.4 463.9 326.8 474.8 329.8 485.6 317.9 496.5 299.4 507.4 313.5 518.3 298.6 529.2 295.1 540.1 313.9 551.0 311.8 561.9 309.1 572.8 297.7 583.7 302.4 594.5 303.3 605.4 315.8 616.3 319.0 627.2 304.1 638.1 285.0 649.0 273.4 659.9 274.1 670.8 278.3 681.7 278.9 692.5 277.9 703.4 277.2 714.3 275.5 725.2 279.9 736.1 294.7 747.0 296.0"/>
<path class="g" d="M202.5 245.5 213.4 249.3 224.3 245.7 235.2 246.4 246.1 250.6 256.9 260.9 267.8 266.5 278.7 260.5 289.6 271.2 300.5 286.0 311.4 284.9 322.3 293.7 333.2 292.8 344.1 284.9 355.0 291.1 365.9 295.8 376.7 316.8 387.6 308.8 398.5 315.2 409.4 312.7 420.3 318.7 431.2 306.7 442.1 292.3 453.0 288.9 463.9 277.9 474.8 281.7 485.6 295.5 496.5 293.2 507.4 291.8 518.3 295.4 529.2 284.9 540.1 307.8 551.0 325.1 561.9 317.4 572.8 328.2 583.7 335.7 594.5 352.2 605.4 333.2 616.3 317.2 627.2 317.1 638.1 310.8 649.0 333.7 659.9 322.3 670.8 329.3 681.7 333.4 692.5 340.1 703.4 348.4 714.3 357.4 725.2 339.3 736.1 319.3 747.0 312.9"/>
<path class="g" d="M202.5 245.5 213.4 259.6 224.3 282.8 235.2 259.1 246.1 262.7 256.9 272.1 267.8 272.0 278.7 285.5 289.6 289.1 300.5 304.3 311.4 288.5 322.3 278.2 333.2 280.6 344.1 295.3 355.0 285.3 365.9 292.1 376.7 301.6 387.6 314.0 398.5 321.6 409.4 325.4 420.3 317.1 431.2 294.4 442.1 286.1 453.0 278.9 463.9 263.4 474.8 255.6 485.6 262.1 496.5 271.3 507.4 265.7 518.3 274.6 529.2 253.5 540.1 265.4 551.0 247.0 561.9 257.9 572.8 259.5 583.7 237.6 594.5 223.9 605.4 202.5 616.3 207.9 627.2 211.2 638.1 199.8 649.0 203.6 659.9 201.2 670.8 198.1 681.7 205.5 692.5 209.5 703.4 211.6 714.3 214.8 725.2 228.7 736.1 241.8 747.0 262.7"/>
<path class="g" d="M202.5 245.5 213.4 256.0 224.3 266.3 235.2 288.2 246.1 273.5 256.9 266.2 267.8 250.0 278.7 249.4 289.6 263.3 300.5 263.9 311.4 271.2 322.3 247.3 333.2 250.1 344.1 239.2 355.0 263.2 365.9 275.6 376.7 288.8 387.6 289.0 398.5 297.8 409.4 307.2 420.3 303.7 431.2 298.1 442.1 297.5 453.0 290.5 463.9 283.7 474.8 280.9 485.6 272.3 496.5 283.2 507.4 263.4 518.3 274.9 529.2 267.7 540.1 261.5 551.0 244.9 561.9 243.9 572.8 241.6 583.7 244.9 594.5 238.9 605.4 241.0 616.3 265.5 627.2 271.7 638.1 265.2 649.0 278.4 659.9 277.7 670.8 286.3 681.7 295.1 692.5 290.9 703.4 266.8 714.3 263.1 725.2 271.2 736.1 267.1 747.0 273.7"/>
<path class="g" d="M202.5 245.5 213.4 252.8 224.3 255.4 235.2 276.5 246.1 257.2 256.9 251.7 267.8 254.6 278.7 268.4 289.6 268.9 300.5 280.4 311.4 267.7 322.3 272.6 333.2 290.8 344.1 282.5 355.0 298.2 365.9 313.6 376.7 318.4 387.6 313.0 398.5 307.7 409.4 293.1 420.3 292.6 431.2 293.9 442.1 306.2 453.0 310.9 463.9 325.8 474.8 320.3 485.6 322.6 496.5 333.1 507.4 333.9 518.3 347.0 529.2 351.8 540.1 351.3 551.0 342.4 561.9 311.8 572.8 343.5 583.7 334.9 594.5 338.5 605.4 325.9 616.3 326.7 627.2 313.7 638.1 310.7 649.0 289.8 659.9 295.0 670.8 290.0 681.7 288.8 692.5 286.0 703.4 277.6 714.3 285.6 725.2 289.2 736.1 271.1 747.0 269.1"/>
<path class="g" d="M202.5 245.5 213.4 258.3 224.3 252.7 235.2 253.8 246.1 265.1 256.9 255.0 267.8 263.6 278.7 268.3 289.6 269.5 300.5 258.4 311.4 245.0 322.3 239.2 333.2 222.5 344.1 230.1 355.0 220.0 365.9 232.4 376.7 236.7 387.6 225.8 398.5 221.0 409.4 230.9 420.3 253.4 431.2 264.6 442.1 262.3 453.0 255.1 463.9 239.9 474.8 229.4 485.6 245.4 496.5 248.8 507.4 268.3 518.3 290.7 529.2 279.1 540.1 263.6 551.0 259.7 561.9 262.1 572.8 257.7 583.7 243.2 594.5 222.3 605.4 220.9 616.3 221.8 627.2 220.9 638.1 234.6 649.0 245.8 659.9 262.0 670.8 272.8 681.7 276.4 692.5 285.7 703.4 284.1 714.3 285.2 725.2 291.2 736.1 293.2 747.0 283.9"/>
<path class="g" d="M202.5 245.5 213.4 227.7 224.3 220.5 235.2 232.6 246.1 248.4 256.9 241.9 267.8 241.5 278.7 234.5 289.6 236.9 300.5 226.1 311.4 237.5 322.3 230.4 333.2 224.1 344.1 217.5 355.0 237.2 365.9 265.8 376.7 251.7 387.6 250.6 398.5 248.3 409.4 240.9 420.3 243.9 431.2 253.2 442.1 258.2 453.0 256.0 463.9 252.1 474.8 254.6 485.6 258.0 496.5 271.7 507.4 266.8 518.3 280.5 529.2 274.1 540.1 268.3 551.0 271.2 561.9 272.5 572.8 247.8 583.7 238.4 594.5 236.6 605.4 235.5 616.3 243.2 627.2 260.4 638.1 274.6 649.0 276.4 659.9 265.4 670.8 276.1 681.7 274.0 692.5 291.2 703.4 283.1 714.3 304.6 725.2 326.1 736.1 332.7 747.0 330.2"/>
<path class="g" d="M202.5 245.5 213.4 245.5 224.3 242.2 235.2 241.9 246.1 232.5 256.9 236.6 267.8 243.9 278.7 264.0 289.6 253.8 300.5 238.4 311.4 240.6 322.3 241.4 333.2 242.8 344.1 241.1 355.0 230.9 365.9 233.4 376.7 224.4 387.6 204.6 398.5 193.8 409.4 192.2 420.3 186.6 431.2 177.7 442.1 190.5 453.0 198.6 463.9 201.8 474.8 189.6 485.6 181.4 496.5 175.7 507.4 192.8 518.3 201.1 529.2 201.4 540.1 206.4 551.0 201.8 561.9 198.0 572.8 194.1 583.7 178.3 594.5 190.6 605.4 190.0 616.3 183.8 627.2 185.1 638.1 192.0 649.0 195.7 659.9 197.0 670.8 216.4 681.7 205.8 692.5 216.1 703.4 202.1 714.3 208.8 725.2 214.2 736.1 215.6 747.0 220.1"/>
<path class="g" d="M202.5 245.5 213.4 241.0 224.3 237.6 235.2 260.8 246.1 256.3 256.9 244.7 267.8 259.2 278.7 236.3 289.6 241.3 300.5 257.6 311.4 270.0 322.3 276.4 333.2 267.9 344.1 275.8 355.0 264.1 365.9 254.0 376.7 280.1 387.6 296.8 398.5 316.6 409.4 305.6 420.3 306.5 431.2 310.6 442.1 302.9 453.0 317.9 463.9 314.8 474.8 311.8 485.6 327.7 496.5 350.5 507.4 338.9 518.3 319.8 529.2 313.9 540.1 322.8 551.0 330.1 561.9 331.1 572.8 325.3 583.7 319.8 594.5 305.0 605.4 314.2 616.3 321.1 627.2 318.1 638.1 345.0 649.0 351.2 659.9 356.6 670.8 340.2 681.7 355.9 692.5 323.6 703.4 330.5 714.3 338.7 725.2 331.6 736.1 308.0 747.0 312.3"/>
<path class="g" d="M202.5 245.5 213.4 249.7 224.3 246.4 235.2 264.0 246.1 267.5 256.9 271.7 267.8 266.7 278.7 285.1 289.6 282.3 300.5 278.6 311.4 254.4 322.3 270.4 333.2 266.0 344.1 276.5 355.0 288.7 365.9 302.5 376.7 313.7 387.6 305.3 398.5 319.8 409.4 334.0 420.3 296.4 431.2 311.7 442.1 297.0 453.0 295.0 463.9 300.5 474.8 299.2 485.6 297.0 496.5 309.9 507.4 313.3 518.3 317.1 529.2 298.2 540.1 304.1 551.0 319.6 561.9 294.1 572.8 280.1 583.7 268.1 594.5 265.6 605.4 260.1 616.3 241.2 627.2 232.7 638.1 218.2 649.0 226.5 659.9 243.8 670.8 243.4 681.7 220.2 692.5 209.5 703.4 209.5 714.3 204.2 725.2 221.9 736.1 250.3 747.0 235.2"/>
<path class="g" d="M202.5 245.5 213.4 253.5 224.3 256.3 235.2 256.6 246.1 248.9 256.9 245.8 267.8 247.1 278.7 251.7 289.6 234.4 300.5 239.2 311.4 256.9 322.3 254.0 333.2 262.4 344.1 256.2 355.0 253.7 365.9 261.5 376.7 261.6 387.6 261.4 398.5 251.3 409.4 258.4 420.3 245.5 431.2 239.5 442.1 241.3 453.0 241.5 463.9 235.7 474.8 213.8 485.6 221.9 496.5 223.7 507.4 221.7 518.3 223.6 529.2 224.8 540.1 231.3 551.0 230.4 561.9 231.2 572.8 229.5 583.7 236.5 594.5 235.4 605.4 245.0 616.3 239.9 627.2 232.1 638.1 224.8 649.0 229.9 659.9 235.9 670.8 237.9 681.7 237.2 692.5 231.3 703.4 239.4 714.3 229.8 725.2 228.2 736.1 237.3 747.0 225.7"/>
<path class="g" d="M202.5 245.5 213.4 259.4 224.3 245.8 235.2 254.3 246.1 256.4 256.9 254.4 267.8 266.3 278.7 268.3 289.6 287.8 300.5 305.6 311.4 300.4 322.3 303.3 333.2 294.3 344.1 318.1 355.0 322.3 365.9 320.8 376.7 318.3 387.6 314.8 398.5 336.5 409.4 343.0 420.3 347.0 431.2 355.0 442.1 358.7 453.0 373.2 463.9 390.0 474.8 402.7 485.6 381.4 496.5 378.2 507.4 362.0 518.3 357.7 529.2 350.3 540.1 362.6 551.0 324.2 561.9 330.1 572.8 304.8 583.7 301.6 594.5 309.7 605.4 329.2 616.3 348.5 627.2 353.0 638.1 345.8 649.0 329.0 659.9 315.7 670.8 322.1 681.7 314.8 692.5 317.5 703.4 317.0 714.3 309.3 725.2 312.6 736.1 330.1 747.0 332.7"/>
<path class="g" d="M202.5 245.5 213.4 255.6 224.3 250.9 235.2 246.3 246.1 255.4 256.9 247.6 267.8 244.2 278.7 251.3 289.6 244.6 300.5 227.8 311.4 229.1 322.3 235.0 333.2 234.3 344.1 237.6 355.0 234.2 365.9 242.9 376.7 242.1 387.6 248.1 398.5 236.6 409.4 249.0 420.3 247.7 431.2 250.9 442.1 250.7 453.0 234.1 463.9 238.6 474.8 255.7 485.6 262.2 496.5 255.0 507.4 263.7 518.3 257.7 529.2 271.0 540.1 283.7 551.0 259.2 561.9 255.2 572.8 261.2 583.7 270.3 594.5 285.7 605.4 287.9 616.3 291.3 627.2 305.0 638.1 308.1 649.0 315.3 659.9 330.9 670.8 331.6 681.7 333.4 692.5 339.4 703.4 325.1 714.3 336.9 725.2 337.2 736.1 310.8 747.0 312.7"/>
<path class="g" d="M202.5 245.5 213.4 233.4 224.3 246.5 235.2 243.5 246.1 242.6 256.9 235.4 267.8 225.0 278.7 239.4 289.6 249.2 300.5 242.5 311.4 229.8 322.3 223.0 333.2 224.0 344.1 230.1 355.0 228.5 365.9 240.0 376.7 238.6 387.6 269.6 398.5 268.6 409.4 258.1 420.3 256.6 431.2 247.4 442.1 248.4 453.0 242.1 463.9 227.2 474.8 241.9 485.6 246.6 496.5 242.7 507.4 232.5 518.3 252.1 529.2 243.8 540.1 259.9 551.0 247.3 561.9 228.8 572.8 239.7 583.7 239.0 594.5 229.8 605.4 237.2 616.3 253.2 627.2 264.9 638.1 287.4 649.0 310.5 659.9 320.5 670.8 322.4 681.7 329.1 692.5 329.6 703.4 343.6 714.3 337.9 725.2 339.0 736.1 339.6 747.0 349.9"/>
<path class="g" d="M202.5 245.5 213.4 248.1 224.3 244.1 235.2 234.8 246.1 251.0 256.9 242.8 267.8 241.8 278.7 240.4 289.6 255.4 300.5 248.2 311.4 226.2 322.3 216.4 333.2 203.7 344.1 206.4 355.0 212.3 365.9 210.0 376.7 234.0 387.6 206.2 398.5 212.7 409.4 204.6 420.3 211.4 431.2 228.4 442.1 231.9 453.0 248.4 463.9 234.6 474.8 229.8 485.6 221.6 496.5 199.8 507.4 227.9 518.3 235.5 529.2 238.0 540.1 227.7 551.0 237.9 561.9 253.4 572.8 259.5 583.7 270.0 594.5 260.5 605.4 257.6 616.3 260.6 627.2 259.0 638.1 277.1 649.0 256.6 659.9 247.6 670.8 246.9 681.7 270.5 692.5 284.4 703.4 277.0 714.3 295.7 725.2 292.2 736.1 296.6 747.0 294.0"/>
<path class="g" d="M202.5 245.5 213.4 241.7 224.3 238.1 235.2 226.2 246.1 218.5 256.9 226.2 267.8 243.3 278.7 225.8 289.6 234.5 300.5 247.9 311.4 255.3 322.3 267.3 333.2 273.7 344.1 282.3 355.0 289.9 365.9 283.1 376.7 266.9 387.6 252.3 398.5 254.7 409.4 248.3 420.3 259.4 431.2 270.0 442.1 282.8 453.0 289.9 463.9 283.5 474.8 266.6 485.6 270.3 496.5 265.8 507.4 278.5 518.3 278.9 529.2 279.3 540.1 273.1 551.0 283.0 561.9 279.3 572.8 272.4 583.7 280.7 594.5 301.9 605.4 295.1 616.3 292.8 627.2 285.8 638.1 297.3 649.0 285.4 659.9 278.7 670.8 276.9 681.7 282.6 692.5 288.4 703.4 295.9 714.3 302.8 725.2 330.2 736.1 331.3 747.0 335.3"/>
<path class="g" d="M202.5 245.5 213.4 250.0 224.3 264.4 235.2 264.9 246.1 262.9 256.9 256.5 267.8 244.0 278.7 247.1 289.6 262.5 300.5 265.2 311.4 255.2 322.3 255.7 333.2 252.5 344.1 252.6 355.0 250.4 365.9 256.3 376.7 249.7 387.6 248.7 398.5 231.2 409.4 230.1 420.3 228.9 431.2 239.0 442.1 230.9 453.0 238.5 463.9 230.7 474.8 241.3 485.6 253.2 496.5 240.4 507.4 228.6 518.3 230.6 529.2 227.3 540.1 223.9 551.0 224.3 561.9 219.8 572.8 210.7 583.7 221.0 594.5 217.6 605.4 231.3 616.3 224.1 627.2 218.2 638.1 212.3 649.0 216.4 659.9 213.5 670.8 214.1 681.7 213.7 692.5 217.9 703.4 224.0 714.3 216.1 725.2 197.9 736.1 200.4 747.0 210.5"/>
<path class="g" d="M202.5 245.5 213.4 247.4 224.3 228.8 235.2 252.3 246.1 288.0 256.9 266.7 267.8 253.8 278.7 257.4 289.6 238.6 300.5 259.8 311.4 248.1 322.3 251.4 333.2 284.6 344.1 280.3 355.0 272.6 365.9 280.6 376.7 274.1 387.6 276.5 398.5 265.6 409.4 261.8 420.3 271.8 431.2 259.1 442.1 270.2 453.0 285.6 463.9 272.6 474.8 285.0 485.6 295.5 496.5 299.5 507.4 295.2 518.3 295.2 529.2 312.5 540.1 327.5 551.0 318.0 561.9 328.2 572.8 293.3 583.7 306.0 594.5 320.9 605.4 306.7 616.3 299.0 627.2 318.2 638.1 315.5 649.0 305.5 659.9 290.5 670.8 301.9 681.7 305.1 692.5 327.5 703.4 345.1 714.3 356.6 725.2 371.7 736.1 368.3 747.0 353.2"/>
<path class="g" d="M202.5 245.5 213.4 242.9 224.3 246.8 235.2 248.2 246.1 240.7 256.9 259.6 267.8 262.1 278.7 262.1 289.6 245.9 300.5 232.0 311.4 239.0 322.3 231.2 333.2 228.6 344.1 230.1 355.0 233.8 365.9 235.6 376.7 225.9 387.6 244.1 398.5 259.4 409.4 276.3 420.3 267.0 431.2 273.7 442.1 289.5 453.0 293.5 463.9 301.9 474.8 298.8 485.6 289.1 496.5 282.0 507.4 278.8 518.3 270.3 529.2 279.5 540.1 271.6 551.0 257.6 561.9 262.0 572.8 251.9 583.7 246.2 594.5 260.1 605.4 272.6 616.3 278.1 627.2 292.0 638.1 290.2 649.0 293.9 659.9 292.3 670.8 297.4 681.7 302.4 692.5 306.6 703.4 318.3 714.3 328.5 725.2 341.5 736.1 332.3 747.0 334.4"/>
<path class="g" d="M202.5 245.5 213.4 246.2 224.3 256.2 235.2 266.9 246.1 266.7 256.9 285.4 267.8 303.1 278.7 300.8 289.6 313.9 300.5 322.3 311.4 321.9 322.3 319.8 333.2 321.5 344.1 314.6 355.0 310.0 365.9 305.5 376.7 331.0 387.6 318.6 398.5 324.9 409.4 320.0 420.3 323.5 431.2 329.0 442.1 322.3 453.0 312.4 463.9 296.3 474.8 290.6 485.6 288.0 496.5 285.2 507.4 273.5 518.3 276.4 529.2 309.7 540.1 301.0 551.0 290.9 561.9 283.6 572.8 269.7 583.7 260.2 594.5 271.9 605.4 274.3 616.3 258.1 627.2 270.8 638.1 281.7 649.0 296.4 659.9 287.2 670.8 284.1 681.7 278.9 692.5 307.9 703.4 293.0 714.3 312.9 725.2 297.0 736.1 298.6 747.0 305.0"/>
<path class="g" d="M202.5 245.5 213.4 247.3 224.3 244.4 235.2 232.2 246.1 255.5 256.9 262.5 267.8 238.5 278.7 253.6 289.6 235.1 300.5 232.0 311.4 246.8 322.3 239.3 333.2 237.8 344.1 240.0 355.0 233.1 365.9 218.2 376.7 201.8 387.6 187.4 398.5 177.3 409.4 198.2 420.3 192.7 431.2 218.7 442.1 203.6 453.0 217.7 463.9 218.8 474.8 212.2 485.6 217.3 496.5 216.5 507.4 232.3 518.3 215.4 529.2 202.9 540.1 221.4 551.0 221.8 561.9 229.3 572.8 232.8 583.7 222.1 594.5 226.3 605.4 222.8 616.3 234.9 627.2 237.4 638.1 232.4 649.0 217.4 659.9 222.5 670.8 224.5 681.7 236.5 692.5 232.4 703.4 229.7 714.3 244.3 725.2 247.0 736.1 260.5 747.0 249.4"/>
<path class="g" d="M202.5 245.5 213.4 263.2 224.3 261.5 235.2 255.0 246.1 259.8 256.9 244.8 267.8 236.0 278.7 238.9 289.6 235.8 300.5 239.5 311.4 235.4 322.3 250.8 333.2 244.5 344.1 239.3 355.0 229.3 365.9 228.3 376.7 227.3 387.6 221.8 398.5 242.2 409.4 250.6 420.3 252.9 431.2 256.5 442.1 237.6 453.0 235.8 463.9 234.2 474.8 212.1 485.6 225.1 496.5 240.8 507.4 246.6 518.3 252.2 529.2 261.2 540.1 263.5 551.0 283.4 561.9 276.2 572.8 270.4 583.7 258.0 594.5 274.5 605.4 276.7 616.3 269.9 627.2 271.2 638.1 258.9 649.0 279.7 659.9 293.9 670.8 299.8 681.7 300.7 692.5 304.9 703.4 298.3 714.3 310.1 725.2 303.3 736.1 325.7 747.0 334.9"/>
<path class="g" d="M202.5 245.5 213.4 247.0 224.3 251.9 235.2 258.0 246.1 259.7 256.9 273.6 267.8 285.2 278.7 285.7 289.6 289.9 300.5 291.1 311.4 287.9 322.3 284.8 333.2 275.9 344.1 269.0 355.0 260.4 365.9 273.5 376.7 260.3 387.6 262.3 398.5 273.0 409.4 280.4 420.3 272.4 431.2 261.2 442.1 242.6 453.0 234.9 463.9 246.8 474.8 254.4 485.6 253.8 496.5 259.5 507.4 254.9 518.3 245.0 529.2 257.4 540.1 270.2 551.0 263.5 561.9 251.1 572.8 259.1 583.7 277.1 594.5 286.7 605.4 302.2 616.3 297.3 627.2 291.6 638.1 294.0 649.0 298.8 659.9 301.3 670.8 302.1 681.7 326.8 692.5 323.5 703.4 322.1 714.3 320.5 725.2 324.9 736.1 318.7 747.0 314.8"/>
<path class="g" d="M202.5 245.5 213.4 243.5 224.3 265.4 235.2 276.4 246.1 264.1 256.9 275.6 267.8 267.0 278.7 238.9 289.6 247.4 300.5 260.5 311.4 290.9 322.3 284.4 333.2 267.7 344.1 290.9 355.0 294.0 365.9 290.7 376.7 282.5 387.6 294.9 398.5 305.7 409.4 302.4 420.3 296.2 431.2 318.8 442.1 319.5 453.0 340.1 463.9 326.8 474.8 312.5 485.6 329.3 496.5 313.3 507.4 295.7 518.3 315.3 529.2 284.0 540.1 250.8 551.0 255.3 561.9 270.9 572.8 267.1 583.7 274.6 594.5 265.0 605.4 253.5 616.3 238.3 627.2 242.1 638.1 255.0 649.0 227.4 659.9 225.2 670.8 226.8 681.7 247.1 692.5 262.8 703.4 270.1 714.3 275.8 725.2 302.3 736.1 319.5 747.0 327.0"/>
<path class="g" d="M202.5 245.5 213.4 236.8 224.3 243.8 235.2 243.3 246.1 237.8 256.9 246.3 267.8 249.9 278.7 249.9 289.6 246.3 300.5 217.5 311.4 212.7 322.3 178.9 333.2 208.3 344.1 247.9 355.0 250.5 365.9 279.8 376.7 259.0 387.6 255.9 398.5 257.8 409.4 250.1 420.3 235.9 431.2 233.5 442.1 238.8 453.0 259.1 463.9 265.8 474.8 280.2 485.6 262.3 496.5 241.7 507.4 241.6 518.3 245.9 529.2 237.6 540.1 232.5 551.0 238.4 561.9 258.9 572.8 281.9 583.7 268.0 594.5 256.0 605.4 251.0 616.3 257.4 627.2 248.4 638.1 247.0 649.0 239.7 659.9 241.3 670.8 235.7 681.7 239.4 692.5 241.3 703.4 221.8 714.3 226.4 725.2 220.2 736.1 216.8 747.0 231.3"/>
<path class="g" d="M202.5 245.5 213.4 252.2 224.3 255.1 235.2 253.0 246.1 247.1 256.9 240.0 267.8 241.7 278.7 243.5 289.6 251.1 300.5 230.1 311.4 223.2 322.3 197.6 333.2 205.8 344.1 202.4 355.0 212.6 365.9 209.7 376.7 214.6 387.6 226.4 398.5 237.0 409.4 227.7 420.3 232.1 431.2 238.4 442.1 237.4 453.0 222.3 463.9 226.2 474.8 204.8 485.6 198.8 496.5 192.0 507.4 192.5 518.3 195.6 529.2 207.7 540.1 224.0 551.0 231.4 561.9 245.5 572.8 219.9 583.7 215.6 594.5 218.0 605.4 232.2 616.3 224.8 627.2 228.9 638.1 211.1 649.0 195.3 659.9 188.8 670.8 181.9 681.7 178.5 692.5 192.2 703.4 196.6 714.3 196.1 725.2 207.1 736.1 210.5 747.0 205.9"/>
<path class="g" d="M202.5 245.5 213.4 246.3 224.3 244.6 235.2 259.5 246.1 254.5 256.9 230.2 267.8 228.6 278.7 242.2 289.6 241.3 300.5 238.1 311.4 243.4 322.3 245.9 333.2 233.1 344.1 242.6 355.0 226.9 365.9 236.8 376.7 237.7 387.6 249.5 398.5 247.4 409.4 256.3 420.3 263.3 431.2 249.6 442.1 262.6 453.0 263.8 463.9 275.4 474.8 277.6 485.6 272.6 496.5 274.2 507.4 260.2 518.3 259.9 529.2 253.4 540.1 268.3 551.0 274.0 561.9 282.2 572.8 275.9 583.7 270.3 594.5 272.6 605.4 250.2 616.3 247.0 627.2 250.1 638.1 243.6 649.0 251.8 659.9 259.7 670.8 255.7 681.7 270.0 692.5 261.4 703.4 263.5 714.3 251.0 725.2 245.2 736.1 239.1 747.0 227.7"/>
<path class="g" d="M202.5 245.5 213.4 232.3 224.3 245.5 235.2 225.2 246.1 209.7 256.9 229.4 267.8 240.8 278.7 233.7 289.6 249.3 300.5 270.4 311.4 292.0 322.3 309.5 333.2 293.6 344.1 285.7 355.0 296.5 365.9 302.5 376.7 308.8 387.6 319.5 398.5 336.8 409.4 343.1 420.3 311.8 431.2 305.3 442.1 316.7 453.0 334.0 463.9 323.8 474.8 315.6 485.6 298.5 496.5 296.5 507.4 295.1 518.3 294.8 529.2 302.6 540.1 298.9 551.0 274.9 561.9 286.7 572.8 294.8 583.7 319.7 594.5 346.9 605.4 350.6 616.3 335.6 627.2 326.8 638.1 321.0 649.0 330.1 659.9 336.4 670.8 333.1 681.7 337.9 692.5 340.3 703.4 310.7 714.3 302.6 725.2 321.2 736.1 323.0 747.0 347.6"/>
<path class="g" d="M202.5 245.5 213.4 256.4 224.3 234.2 235.2 214.7 246.1 207.1 256.9 194.1 267.8 212.5 278.7 215.9 289.6 225.2 300.5 221.8 311.4 225.4 322.3 228.6 333.2 263.3 344.1 245.0 355.0 258.5 365.9 270.8 376.7 256.8 387.6 284.3 398.5 271.8 409.4 266.5 420.3 269.0 431.2 257.9 442.1 270.6 453.0 246.2 463.9 231.0 474.8 204.1 485.6 205.7 496.5 223.8 507.4 227.7 518.3 227.4 529.2 259.5 540.1 274.8 551.0 254.3 561.9 236.2 572.8 229.0 583.7 244.2 594.5 249.3 605.4 242.4 616.3 254.6 627.2 299.7 638.1 290.9 649.0 311.6 659.9 343.2 670.8 325.0 681.7 321.7 692.5 294.8 703.4 283.2 714.3 290.4 725.2 276.5 736.1 283.5 747.0 288.5"/>
<path class="g" d="M202.5 245.5 213.4 244.0 224.3 242.7 235.2 249.2 246.1 263.3 256.9 257.1 267.8 271.4 278.7 280.8 289.6 263.2 300.5 254.2 311.4 248.9 322.3 239.0 333.2 237.8 344.1 244.4 355.0 255.7 365.9 268.4 376.7 283.9 387.6 268.4 398.5 267.3 409.4 265.4 420.3 262.0 431.2 266.1 442.1 283.2 453.0 279.8 463.9 290.1 474.8 291.9 485.6 300.7 496.5 297.7 507.4 286.3 518.3 277.0 529.2 292.4 540.1 263.6 551.0 287.4 561.9 295.2 572.8 299.8 583.7 281.9 594.5 274.5 605.4 271.9 616.3 273.0 627.2 301.6 638.1 298.5 649.0 293.9 659.9 287.2 670.8 282.5 681.7 264.9 692.5 234.8 703.4 225.2 714.3 219.1 725.2 226.3 736.1 235.8 747.0 252.5"/>
<path class="g" d="M202.5 245.5 213.4 251.2 224.3 244.1 235.2 256.2 246.1 257.0 256.9 246.5 267.8 237.8 278.7 256.7 289.6 246.0 300.5 240.0 311.4 249.1 322.3 258.8 333.2 259.1 344.1 263.1 355.0 247.7 365.9 247.7 376.7 245.3 387.6 237.5 398.5 248.6 409.4 238.9 420.3 240.6 431.2 256.1 442.1 237.7 453.0 228.2 463.9 214.2 474.8 219.2 485.6 202.8 496.5 188.9 507.4 186.3 518.3 206.0 529.2 189.5 540.1 184.6 551.0 199.1 561.9 204.8 572.8 205.7 583.7 199.9 594.5 214.3 605.4 221.2 616.3 228.5 627.2 223.3 638.1 232.2 649.0 229.8 659.9 241.4 670.8 236.2 681.7 220.8 692.5 245.2 703.4 253.7 714.3 250.9 725.2 248.6 736.1 252.6 747.0 258.8"/>
<path class="g" d="M202.5 245.5 213.4 246.2 224.3 248.5 235.2 244.9 246.1 237.2 256.9 270.9 267.8 277.4 278.7 278.6 289.6 264.7 300.5 264.3 311.4 250.6 322.3 257.0 333.2 259.4 344.1 248.7 355.0 238.2 365.9 234.9 376.7 243.6 387.6 260.7 398.5 264.9 409.4 259.5 420.3 273.5 431.2 255.8 442.1 251.7 453.0 253.2 463.9 271.8 474.8 267.2 485.6 261.7 496.5 265.2 507.4 271.4 518.3 273.2 529.2 274.6 540.1 260.8 551.0 257.7 561.9 257.3 572.8 228.0 583.7 243.3 594.5 256.2 605.4 249.9 616.3 234.6 627.2 211.9 638.1 209.4 649.0 206.6 659.9 207.5 670.8 209.3 681.7 227.1 692.5 226.3 703.4 225.0 714.3 219.3 725.2 233.9 736.1 245.3 747.0 253.0"/>
<path class="g" d="M202.5 245.5 213.4 259.9 224.3 243.1 235.2 254.5 246.1 272.1 256.9 270.8 267.8 232.3 278.7 213.3 289.6 207.7 300.5 211.6 311.4 192.9 322.3 206.6 333.2 183.6 344.1 224.5 355.0 235.3 365.9 255.9 376.7 251.2 387.6 254.3 398.5 224.9 409.4 207.3 420.3 208.0 431.2 202.8 442.1 197.8 453.0 202.7 463.9 214.4 474.8 192.2 485.6 207.9 496.5 235.4 507.4 211.5 518.3 176.8 529.2 187.0 540.1 170.0 551.0 174.4 561.9 174.9 572.8 171.9 583.7 171.6 594.5 190.3 605.4 184.6 616.3 203.9 627.2 199.1 638.1 187.9 649.0 222.5 659.9 216.8 670.8 217.7 681.7 213.1 692.5 202.0 703.4 190.9 714.3 204.8 725.2 204.3 736.1 236.0 747.0 253.2"/>
<path class="g" d="M202.5 245.5 213.4 253.3 224.3 250.5 235.2 262.3 246.1 258.2 256.9 270.9 267.8 252.0 278.7 247.0 289.6 268.4 300.5 242.5 311.4 256.0 322.3 262.2 333.2 262.6 344.1 260.3 355.0 249.1 365.9 257.3 376.7 266.3 387.6 276.7 398.5 281.7 409.4 278.1 420.3 288.1 431.2 276.1 442.1 261.3 453.0 266.1 463.9 263.5 474.8 280.6 485.6 278.8 496.5 288.6 507.4 271.0 518.3 295.4 529.2 298.6 540.1 285.5 551.0 298.6 561.9 301.1 572.8 305.7 583.7 311.7 594.5 315.4 605.4 288.6 616.3 288.1 627.2 281.9 638.1 272.0 649.0 245.9 659.9 234.2 670.8 233.2 681.7 228.5 692.5 205.3 703.4 203.7 714.3 226.6 725.2 226.3 736.1 246.1 747.0 244.5"/>
<path class="g" d="M202.5 245.5 213.4 249.6 224.3 241.5 235.2 226.4 246.1 232.6 256.9 237.6 267.8 229.5 278.7 237.5 289.6 234.1 300.5 220.0 311.4 224.1 322.3 218.5 333.2 214.4 344.1 231.9 355.0 220.7 365.9 223.0 376.7 236.3 387.6 239.1 398.5 251.9 409.4 259.3 420.3 264.2 431.2 267.4 442.1 271.4 453.0 263.4 463.9 253.9 474.8 267.3 485.6 269.7 496.5 282.7 507.4 278.6 518.3 279.7 529.2 285.3 540.1 276.8 551.0 271.7 561.9 256.7 572.8 265.8 583.7 281.4 594.5 281.6 605.4 278.7 616.3 263.6 627.2 273.2 638.1 286.9 649.0 279.4 659.9 277.9 670.8 274.5 681.7 268.0 692.5 269.4 703.4 278.5 714.3 274.0 725.2 276.3 736.1 270.6 747.0 274.6"/>
<path class="g" d="M202.5 245.5 213.4 265.2 224.3 269.8 235.2 279.9 246.1 274.0 256.9 285.3 267.8 284.2 278.7 284.6 289.6 283.9 300.5 265.1 311.4 274.1 322.3 259.7 333.2 238.8 344.1 258.4 355.0 254.7 365.9 266.1 376.7 252.1 387.6 227.4 398.5 234.8 409.4 208.7 420.3 211.3 431.2 226.6 442.1 227.9 453.0 203.6 463.9 193.4 474.8 177.0 485.6 158.1 496.5 161.1 507.4 185.7 518.3 181.0 529.2 185.6 540.1 182.2 551.0 197.9 561.9 194.6 572.8 207.7 583.7 221.3 594.5 223.9 605.4 191.4 616.3 194.6 627.2 190.4 638.1 190.8 649.0 192.7 659.9 174.3 670.8 185.9 681.7 169.7 692.5 162.0 703.4 174.0 714.3 179.9 725.2 182.6 736.1 189.2 747.0 175.2"/>
<path class="g" d="M202.5 245.5 213.4 251.5 224.3 250.4 235.2 263.0 246.1 261.8 256.9 266.8 267.8 268.4 278.7 276.9 289.6 294.9 300.5 298.2 311.4 291.7 322.3 290.3 333.2 287.5 344.1 285.2 355.0 276.6 365.9 279.1 376.7 281.6 387.6 273.5 398.5 269.0 409.4 257.8 420.3 249.9 431.2 262.9 442.1 258.8 453.0 268.1 463.9 260.0 474.8 254.1 485.6 235.4 496.5 236.8 507.4 221.7 518.3 206.0 529.2 204.8 540.1 214.6 551.0 211.9 561.9 215.9 572.8 201.1 583.7 202.8 594.5 203.6 605.4 207.2 616.3 197.0 627.2 198.9 638.1 208.5 649.0 198.9 659.9 190.7 670.8 193.7 681.7 203.4 692.5 195.8 703.4 177.8 714.3 206.9 725.2 201.7 736.1 202.6 747.0 180.1"/>
<path class="g" d="M202.5 245.5 213.4 239.2 224.3 240.4 235.2 256.6 246.1 246.6 256.9 252.9 267.8 247.7 278.7 251.8 289.6 263.8 300.5 262.5 311.4 257.2 322.3 251.4 333.2 236.2 344.1 227.8 355.0 239.9 365.9 226.1 376.7 250.0 387.6 251.6 398.5 236.6 409.4 252.8 420.3 260.1 431.2 269.3 442.1 274.8 453.0 256.2 463.9 267.7 474.8 274.2 485.6 285.2 496.5 292.5 507.4 287.7 518.3 302.1 529.2 315.4 540.1 321.1 551.0 312.9 561.9 298.1 572.8 274.4 583.7 271.0 594.5 267.8 605.4 272.1 616.3 277.5 627.2 288.4 638.1 291.0 649.0 292.7 659.9 290.8 670.8 288.0 681.7 276.0 692.5 275.8 703.4 267.1 714.3 265.4 725.2 274.2 736.1 270.2 747.0 263.7"/>
<path class="g" d="M202.5 245.5 213.4 240.6 224.3 234.2 235.2 239.9 246.1 255.6 256.9 247.0 267.8 224.9 278.7 215.9 289.6 219.3 300.5 222.8 311.4 188.9 322.3 202.9 333.2 202.5 344.1 212.2 355.0 204.3 365.9 189.0 376.7 205.7 387.6 196.1 398.5 192.9 409.4 203.6 420.3 207.2 431.2 199.1 442.1 220.5 453.0 200.6 463.9 191.2 474.8 173.0 485.6 144.7 496.5 132.9 507.4 128.7 518.3 141.1 529.2 146.9 540.1 155.6 551.0 140.8 561.9 158.5 572.8 167.6 583.7 151.6 594.5 145.3 605.4 155.5 616.3 165.7 627.2 178.6 638.1 188.6 649.0 211.3 659.9 211.2 670.8 211.9 681.7 211.3 692.5 206.6 703.4 198.3 714.3 191.6 725.2 212.4 736.1 230.5 747.0 225.2"/>
<path class="g" d="M202.5 245.5 213.4 252.1 224.3 269.5 235.2 280.6 246.1 278.6 256.9 265.1 267.8 280.0 278.7 271.4 289.6 294.0 300.5 306.8 311.4 298.4 322.3 317.4 333.2 332.7 344.1 343.7 355.0 292.2 365.9 263.6 376.7 281.1 387.6 253.9 398.5 251.6 409.4 248.7 420.3 244.4 431.2 239.7 442.1 239.4 453.0 266.3 463.9 266.1 474.8 244.1 485.6 234.0 496.5 254.2 507.4 268.0 518.3 252.1 529.2 248.1 540.1 259.5 551.0 235.4 561.9 239.3 572.8 234.9 583.7 226.6 594.5 248.0 605.4 252.8 616.3 252.7 627.2 241.1 638.1 234.0 649.0 251.9 659.9 247.1 670.8 250.0 681.7 241.0 692.5 239.9 703.4 212.6 714.3 238.7 725.2 234.5 736.1 232.0 747.0 245.4"/>
<path class="g" d="M202.5 245.5 213.4 244.8 224.3 254.0 235.2 247.3 246.1 258.5 256.9 272.9 267.8 264.4 278.7 258.5 289.6 255.0 300.5 270.6 311.4 276.2 322.3 281.5 333.2 282.7 344.1 270.6 355.0 268.7 365.9 275.1 376.7 268.3 387.6 269.0 398.5 261.0 409.4 271.2 420.3 262.8 431.2 266.6 442.1 257.0 453.0 234.7 463.9 245.5 474.8 239.5 485.6 234.7 496.5 232.2 507.4 229.4 518.3 234.5 529.2 222.3 540.1 216.7 551.0 216.4 561.9 215.3 572.8 224.6 583.7 225.7 594.5 224.5 605.4 216.8 616.3 229.1 627.2 224.9 638.1 214.2 649.0 219.0 659.9 234.1 670.8 244.2 681.7 234.5 692.5 230.0 703.4 240.4 714.3 236.2 725.2 226.5 736.1 211.5 747.0 219.9"/>
<path class="t" d="M202.5 245.5 213.4 241.9 224.3 230.2 235.2 228.3 246.1 236.7 256.9 246.2 267.8 234.5 278.7 235.1 289.6 233.0 300.5 240.7 311.4 231.2 322.3 248.8 333.2 263.0 344.1 247.2 355.0 262.6 365.9 227.3 376.7 173.5 387.6 153.8 398.5 143.0 409.4 129.3 420.3 141.3 431.2 157.0 442.1 143.7 453.0 130.3 463.9 130.2 474.8 133.6 485.6 142.6 496.5 132.6 507.4 130.8 518.3 106.8 529.2 98.2 540.1 96.3 551.0 109.2 561.9 86.2 572.8 118.9 583.7 131.0 594.5 119.8 605.4 116.7 616.3 105.3 627.2 97.8 638.1 96.4 649.0 101.1 659.9 91.2 670.8 92.4 681.7 88.9 692.5 81.0 703.4 99.1 714.3 95.4 725.2 100.6 736.1 93.2 747.0 86.8"/>
<path class="t" d="M202.5 245.5 213.4 258.6 224.3 263.9 235.2 253.2 246.1 237.2 256.9 221.9 267.8 246.1 278.7 232.9 289.6 210.6 300.5 228.8 311.4 210.0 322.3 196.6 333.2 225.5 344.1 217.1 355.0 199.3 365.9 219.5 376.7 203.5 387.6 201.0 398.5 180.7 409.4 191.0 420.3 178.2 431.2 166.9 442.1 146.3 453.0 136.4 463.9 134.7 474.8 131.3 485.6 158.7 496.5 154.3 507.4 157.6 518.3 142.0 529.2 148.3 540.1 154.6 551.0 166.9 561.9 171.5 572.8 151.9 583.7 151.6 594.5 129.7 605.4 112.7 616.3 105.3 627.2 111.4 638.1 113.1 649.0 115.8 659.9 106.9 670.8 119.3 681.7 86.2 692.5 120.5 703.4 115.5 714.3 105.4 725.2 90.8 736.1 75.2 747.0 92.6"/>
<path class="t" d="M202.5 245.5 213.4 260.2 224.3 250.2 235.2 244.3 246.1 241.7 256.9 243.0 267.8 235.5 278.7 232.3 289.6 227.1 300.5 219.7 311.4 198.8 322.3 169.6 333.2 152.6 344.1 132.8 355.0 134.5 365.9 139.4 376.7 142.1 387.6 141.5 398.5 149.7 409.4 157.3 420.3 159.7 431.2 161.0 442.1 130.8 453.0 124.6 463.9 121.9 474.8 132.1 485.6 144.7 496.5 139.3 507.4 138.3 518.3 127.3 529.2 116.3 540.1 104.7 551.0 116.5 561.9 99.5 572.8 102.8 583.7 112.5 594.5 121.0 605.4 122.2 616.3 132.8 627.2 134.8 638.1 135.3 649.0 114.6 659.9 106.2 670.8 93.1 681.7 94.9 692.5 108.5 703.4 138.1 714.3 134.7 725.2 113.3 736.1 108.3 747.0 97.7"/>
<path class="t" d="M202.5 245.5 213.4 250.8 224.3 256.5 235.2 248.5 246.1 258.5 256.9 253.9 267.8 262.4 278.7 249.7 289.6 247.9 300.5 226.4 311.4 216.2 322.3 221.9 333.2 228.8 344.1 211.7 355.0 210.7 365.9 223.6 376.7 219.3 387.6 220.5 398.5 218.4 409.4 218.0 420.3 208.4 431.2 208.7 442.1 189.0 453.0 188.2 463.9 198.4 474.8 188.8 485.6 181.0 496.5 174.7 507.4 175.6 518.3 179.0 529.2 172.5 540.1 173.8 551.0 167.7 561.9 159.9 572.8 157.6 583.7 162.2 594.5 142.4 605.4 142.4 616.3 150.0 627.2 152.2 638.1 133.3 649.0 131.8 659.9 118.5 670.8 115.7 681.7 116.4 692.5 116.5 703.4 113.0 714.3 116.8 725.2 107.8 736.1 110.3 747.0 100.4"/>
<path class="t" d="M202.5 245.5 213.4 240.0 224.3 247.0 235.2 246.8 246.1 223.5 256.9 225.2 267.8 223.5 278.7 221.0 289.6 222.5 300.5 216.1 311.4 221.0 322.3 219.5 333.2 208.5 344.1 215.5 355.0 199.1 365.9 197.0 376.7 199.9 387.6 191.4 398.5 178.8 409.4 173.6 420.3 169.1 431.2 153.1 442.1 170.9 453.0 169.5 463.9 166.5 474.8 155.1 485.6 159.6 496.5 157.3 507.4 160.6 518.3 138.3 529.2 139.4 540.1 152.1 551.0 161.9 561.9 164.3 572.8 159.7 583.7 154.6 594.5 156.0 605.4 150.0 616.3 128.1 627.2 140.6 638.1 126.8 649.0 128.2 659.9 112.8 670.8 104.4 681.7 107.0 692.5 99.9 703.4 94.1 714.3 101.8 725.2 108.2 736.1 107.0 747.0 105.5"/>
<path class="t" d="M202.5 245.5 213.4 244.5 224.3 232.3 235.2 228.7 246.1 231.9 256.9 222.6 267.8 212.4 278.7 213.9 289.6 236.2 300.5 246.1 311.4 250.2 322.3 236.4 333.2 225.7 344.1 220.0 355.0 212.1 365.9 210.4 376.7 200.5 387.6 210.4 398.5 206.7 409.4 187.3 420.3 184.3 431.2 189.3 442.1 194.1 453.0 198.4 463.9 194.3 474.8 196.2 485.6 188.8 496.5 188.7 507.4 183.2 518.3 180.0 529.2 168.9 540.1 166.1 551.0 162.8 561.9 153.1 572.8 134.9 583.7 122.0 594.5 127.6 605.4 125.0 616.3 132.6 627.2 132.1 638.1 121.9 649.0 138.1 659.9 143.4 670.8 134.9 681.7 126.7 692.5 136.5 703.4 135.1 714.3 117.6 725.2 108.5 736.1 114.9 747.0 109.5"/>
<path class="t" d="M202.5 245.5 213.4 245.5 224.3 265.1 235.2 262.5 246.1 257.5 256.9 245.9 267.8 264.2 278.7 269.0 289.6 275.5 300.5 265.8 311.4 244.5 322.3 255.0 333.2 276.5 344.1 267.7 355.0 262.0 365.9 262.6 376.7 261.6 387.6 244.2 398.5 242.1 409.4 237.8 420.3 209.5 431.2 222.1 442.1 221.7 453.0 226.1 463.9 207.8 474.8 212.2 485.6 184.8 496.5 194.4 507.4 190.3 518.3 189.4 529.2 194.6 540.1 225.3 551.0 204.8 561.9 165.5 572.8 160.1 583.7 162.9 594.5 155.3 605.4 158.5 616.3 147.9 627.2 146.2 638.1 148.1 649.0 135.0 659.9 129.5 670.8 130.9 681.7 117.7 692.5 106.6 703.4 134.6 714.3 132.8 725.2 130.1 736.1 117.0 747.0 117.5"/>
<path class="t" d="M202.5 245.5 213.4 223.8 224.3 227.7 235.2 224.5 246.1 227.4 256.9 205.4 267.8 196.5 278.7 209.5 289.6 213.8 300.5 201.7 311.4 180.9 322.3 178.2 333.2 184.8 344.1 174.6 355.0 167.7 365.9 158.7 376.7 145.7 387.6 136.7 398.5 141.6 409.4 160.2 420.3 171.3 431.2 161.5 442.1 165.4 453.0 193.0 463.9 214.9 474.8 197.6 485.6 183.0 496.5 156.6 507.4 167.9 518.3 168.1 529.2 167.5 540.1 174.3 551.0 166.4 561.9 185.8 572.8 183.8 583.7 179.3 594.5 166.8 605.4 182.1 616.3 157.1 627.2 133.5 638.1 137.6 649.0 158.3 659.9 163.0 670.8 168.9 681.7 164.1 692.5 173.5 703.4 167.2 714.3 154.4 725.2 151.5 736.1 145.5 747.0 123.3"/>
<path class="t" d="M202.5 245.5 213.4 257.0 224.3 239.5 235.2 230.5 246.1 251.2 256.9 238.3 267.8 225.7 278.7 232.6 289.6 226.3 300.5 243.7 311.4 241.8 322.3 245.8 333.2 229.6 344.1 231.5 355.0 220.9 365.9 219.9 376.7 213.2 387.6 205.7 398.5 210.2 409.4 194.2 420.3 192.3 431.2 175.3 442.1 149.9 453.0 144.3 463.9 124.6 474.8 130.4 485.6 144.5 496.5 132.2 507.4 130.1 518.3 114.7 529.2 121.0 540.1 117.7 551.0 136.0 561.9 124.6 572.8 125.2 583.7 129.1 594.5 126.5 605.4 137.9 616.3 127.1 627.2 125.8 638.1 123.8 649.0 120.9 659.9 116.2 670.8 124.1 681.7 136.4 692.5 152.0 703.4 154.0 714.3 157.4 725.2 128.9 736.1 134.0 747.0 128.7"/>
<path class="t" d="M202.5 245.5 213.4 250.1 224.3 241.4 235.2 257.3 246.1 251.4 256.9 246.7 267.8 222.7 278.7 238.7 289.6 246.0 300.5 222.5 311.4 212.7 322.3 226.5 333.2 220.9 344.1 224.1 355.0 214.8 365.9 219.9 376.7 209.1 387.6 223.5 398.5 216.6 409.4 210.7 420.3 194.7 431.2 213.7 442.1 218.4 453.0 214.2 463.9 216.1 474.8 195.6 485.6 208.5 496.5 163.4 507.4 169.6 518.3 150.9 529.2 154.8 540.1 141.0 551.0 146.4 561.9 150.1 572.8 136.9 583.7 129.5 594.5 90.8 605.4 81.6 616.3 100.4 627.2 108.7 638.1 119.4 649.0 121.3 659.9 106.8 670.8 106.8 681.7 130.7 692.5 117.4 703.4 132.4 714.3 150.2 725.2 151.3 736.1 148.0 747.0 139.3"/>
<path class="t" d="M202.5 245.5 213.4 238.8 224.3 255.8 235.2 244.8 246.1 242.0 256.9 232.9 267.8 233.1 278.7 237.0 289.6 234.1 300.5 243.6 311.4 253.3 322.3 257.7 333.2 241.4 344.1 234.2 355.0 229.7 365.9 223.7 376.7 229.7 387.6 225.9 398.5 215.5 409.4 223.3 420.3 219.7 431.2 223.9 442.1 207.7 453.0 202.5 463.9 223.5 474.8 218.6 485.6 195.6 496.5 189.5 507.4 201.4 518.3 187.1 529.2 207.8 540.1 200.1 551.0 209.8 561.9 205.1 572.8 168.8 583.7 167.1 594.5 155.7 605.4 172.4 616.3 188.4 627.2 193.1 638.1 194.9 649.0 185.5 659.9 165.2 670.8 163.5 681.7 166.7 692.5 161.4 703.4 178.1 714.3 165.2 725.2 152.0 736.1 153.9 747.0 144.5"/>
<path class="t" d="M202.5 245.5 213.4 248.0 224.3 252.5 235.2 262.0 246.1 262.0 256.9 258.4 267.8 271.4 278.7 254.2 289.6 257.2 300.5 241.0 311.4 244.4 322.3 256.8 333.2 258.4 344.1 269.5 355.0 258.7 365.9 250.0 376.7 243.7 387.6 242.2 398.5 241.1 409.4 241.9 420.3 235.4 431.2 222.4 442.1 202.2 453.0 190.1 463.9 167.7 474.8 155.8 485.6 174.3 496.5 159.8 507.4 162.4 518.3 166.5 529.2 173.5 540.1 165.8 551.0 189.5 561.9 203.4 572.8 204.0 583.7 186.5 594.5 185.0 605.4 190.4 616.3 173.6 627.2 187.8 638.1 163.2 649.0 165.6 659.9 151.4 670.8 147.3 681.7 158.3 692.5 149.0 703.4 148.3 714.3 140.1 725.2 142.4 736.1 145.8 747.0 147.0"/>
<path class="t" d="M202.5 245.5 213.4 250.7 224.3 269.5 235.2 280.9 246.1 259.3 256.9 262.3 267.8 291.3 278.7 288.6 289.6 281.4 300.5 290.1 311.4 309.8 322.3 310.9 333.2 304.7 344.1 289.9 355.0 311.7 365.9 327.4 376.7 313.5 387.6 324.9 398.5 337.0 409.4 346.2 420.3 346.9 431.2 331.8 442.1 334.3 453.0 346.2 463.9 324.4 474.8 303.2 485.6 317.6 496.5 311.6 507.4 317.0 518.3 298.9 529.2 261.3 540.1 249.9 551.0 257.1 561.9 265.1 572.8 278.7 583.7 269.7 594.5 273.1 605.4 270.7 616.3 278.1 627.2 273.8 638.1 266.1 649.0 271.4 659.9 291.2 670.8 277.3 681.7 236.1 692.5 205.4 703.4 212.0 714.3 200.2 725.2 193.7 736.1 174.9 747.0 150.7"/>
<path class="t" d="M202.5 245.5 213.4 227.2 224.3 227.0 235.2 233.1 246.1 237.2 256.9 222.9 267.8 217.2 278.7 219.7 289.6 215.7 300.5 186.6 311.4 174.3 322.3 160.0 333.2 139.3 344.1 133.2 355.0 151.6 365.9 133.5 376.7 122.0 387.6 135.3 398.5 154.2 409.4 163.0 420.3 172.0 431.2 166.1 442.1 153.3 453.0 156.1 463.9 160.0 474.8 160.5 485.6 150.7 496.5 151.0 507.4 139.9 518.3 136.1 529.2 126.3 540.1 126.5 551.0 135.3 561.9 141.7 572.8 136.7 583.7 130.1 594.5 135.2 605.4 123.1 616.3 114.6 627.2 127.3 638.1 135.3 649.0 140.2 659.9 141.3 670.8 138.6 681.7 152.0 692.5 158.9 703.4 161.3 714.3 156.8 725.2 152.1 736.1 149.9 747.0 162.7"/>
<path class="t" d="M202.5 245.5 213.4 239.7 224.3 260.5 235.2 264.5 246.1 267.1 256.9 273.4 267.8 274.7 278.7 282.8 289.6 285.6 300.5 290.0 311.4 286.4 322.3 267.7 333.2 260.0 344.1 265.6 355.0 263.4 365.9 254.8 376.7 263.5 387.6 273.7 398.5 275.9 409.4 269.0 420.3 257.4 431.2 264.6 442.1 256.7 453.0 259.8 463.9 259.4 474.8 277.5 485.6 275.9 496.5 275.7 507.4 271.1 518.3 259.3 529.2 269.4 540.1 273.1 551.0 271.4 561.9 272.3 572.8 264.5 583.7 236.6 594.5 225.8 605.4 230.2 616.3 238.8 627.2 237.3 638.1 237.0 649.0 246.7 659.9 233.6 670.8 225.8 681.7 210.9 692.5 193.8 703.4 181.2 714.3 177.4 725.2 175.3 736.1 178.8 747.0 168.0"/>
<path class="t" d="M202.5 245.5 213.4 260.9 224.3 243.7 235.2 235.3 246.1 219.5 256.9 200.3 267.8 208.0 278.7 208.1 289.6 199.6 300.5 202.0 311.4 204.0 322.3 200.9 333.2 199.0 344.1 211.0 355.0 204.7 365.9 199.9 376.7 197.7 387.6 205.3 398.5 203.8 409.4 188.5 420.3 171.0 431.2 170.8 442.1 189.8 453.0 187.1 463.9 167.4 474.8 151.3 485.6 158.1 496.5 153.7 507.4 163.2 518.3 157.2 529.2 179.8 540.1 168.2 551.0 175.7 561.9 174.8 572.8 174.4 583.7 172.8 594.5 184.6 605.4 173.0 616.3 166.4 627.2 164.3 638.1 153.2 649.0 145.4 659.9 152.8 670.8 152.8 681.7 179.8 692.5 171.4 703.4 180.3 714.3 170.3 725.2 178.1 736.1 162.9 747.0 170.5"/>
<path class="r" d="M202.5 245.5 213.4 248.2 224.3 273.8 235.2 274.9 246.1 277.1 256.9 286.5 267.8 259.4 278.7 267.6 289.6 263.1 300.5 274.1 311.4 283.6 322.3 272.8 333.2 272.0 344.1 292.6 355.0 303.5 365.9 307.9 376.7 311.5 387.6 301.5 398.5 308.5 409.4 321.8 420.3 340.8 431.2 343.8 442.1 332.2 453.0 350.9 463.9 360.8 474.8 330.8 485.6 317.1 496.5 328.2 507.4 332.2 518.3 317.6 529.2 326.1 540.1 308.2 551.0 344.2 561.9 357.0 572.8 362.0 583.7 335.4 594.5 347.3 605.4 353.4 616.3 357.6 627.2 377.8 638.1 372.1 649.0 393.1 659.9 376.3 670.8 365.9 681.7 370.1 692.5 384.3 703.4 368.4 714.3 371.3 725.2 369.8 736.1 370.7 747.0 371.5"/>
<path class="r" d="M202.5 245.5 213.4 271.8 224.3 259.3 235.2 231.9 246.1 260.0 256.9 263.2 267.8 279.3 278.7 257.0 289.6 241.1 300.5 231.9 311.4 230.2 322.3 207.7 333.2 209.5 344.1 248.1 355.0 269.1 365.9 252.2 376.7 261.0 387.6 277.4 398.5 286.8 409.4 319.4 420.3 325.6 431.2 345.0 442.1 327.9 453.0 329.7 463.9 338.1 474.8 352.1 485.6 359.0 496.5 378.2 507.4 366.2 518.3 353.1 529.2 385.3 540.1 376.6 551.0 370.8 561.9 373.7 572.8 376.4 583.7 351.2 594.5 366.9 605.4 375.4 616.3 364.9 627.2 385.7 638.1 385.8 649.0 373.9 659.9 377.6 670.8 375.6 681.7 365.4 692.5 369.9 703.4 377.4 714.3 357.2 725.2 353.0 736.1 367.3 747.0 378.0"/>
<path class="r" d="M202.5 245.5 213.4 244.5 224.3 240.1 235.2 243.1 246.1 254.8 256.9 262.4 267.8 262.8 278.7 249.8 289.6 265.7 300.5 259.8 311.4 272.3 322.3 265.6 333.2 231.4 344.1 228.4 355.0 240.4 365.9 255.6 376.7 263.5 387.6 271.0 398.5 282.2 409.4 278.9 420.3 278.7 431.2 301.1 442.1 310.6 453.0 333.1 463.9 341.1 474.8 336.4 485.6 339.3 496.5 355.7 507.4 358.5 518.3 354.9 529.2 364.2 540.1 369.0 551.0 387.3 561.9 382.2 572.8 381.5 583.7 387.8 594.5 372.8 605.4 379.8 616.3 393.9 627.2 409.6 638.1 415.6 649.0 420.8 659.9 414.7 670.8 412.7 681.7 402.8 692.5 403.7 703.4 414.6 714.3 401.3 725.2 387.3 736.1 390.8 747.0 379.0"/>
<path class="r" d="M202.5 245.5 213.4 234.9 224.3 246.3 235.2 255.4 246.1 260.5 256.9 255.7 267.8 275.4 278.7 272.6 289.6 276.2 300.5 289.5 311.4 312.7 322.3 300.7 333.2 286.0 344.1 298.7 355.0 295.7 365.9 299.0 376.7 301.0 387.6 283.0 398.5 295.9 409.4 326.1 420.3 339.8 431.2 333.2 442.1 333.1 453.0 342.2 463.9 325.3 474.8 341.4 485.6 333.6 496.5 353.2 507.4 380.1 518.3 377.7 529.2 382.1 540.1 381.0 551.0 363.0 561.9 362.4 572.8 360.7 583.7 373.7 594.5 351.9 605.4 363.2 616.3 356.9 627.2 366.8 638.1 373.0 649.0 385.4 659.9 387.1 670.8 401.0 681.7 417.3 692.5 433.1 703.4 412.8 714.3 405.1 725.2 408.1 736.1 414.9 747.0 389.0"/>
<path class="r" d="M202.5 245.5 213.4 224.9 224.3 224.5 235.2 234.2 246.1 251.4 256.9 261.6 267.8 266.3 278.7 245.8 289.6 238.9 300.5 228.9 311.4 236.5 322.3 243.9 333.2 249.1 344.1 248.3 355.0 273.6 365.9 315.1 376.7 341.9 387.6 342.9 398.5 325.0 409.4 334.2 420.3 348.1 431.2 368.2 442.1 389.4 453.0 416.4 463.9 429.6 474.8 406.5 485.6 400.6 496.5 383.7 507.4 371.1 518.3 385.3 529.2 397.4 540.1 378.2 551.0 338.6 561.9 329.2 572.8 321.8 583.7 313.8 594.5 315.2 605.4 309.9 616.3 319.3 627.2 319.0 638.1 345.5 649.0 348.2 659.9 373.3 670.8 391.3 681.7 387.3 692.5 402.0 703.4 385.8 714.3 396.8 725.2 401.9 736.1 403.1 747.0 400.0"/>
<path class="r" d="M202.5 245.5 213.4 256.1 224.3 247.5 235.2 233.9 246.1 253.8 256.9 260.3 267.8 278.4 278.7 284.4 289.6 276.8 300.5 281.9 311.4 290.4 322.3 294.8 333.2 302.8 344.1 295.6 355.0 275.2 365.9 283.6 376.7 297.6 387.6 286.6 398.5 295.8 409.4 307.3 420.3 326.4 431.2 345.3 442.1 378.5 453.0 403.9 463.9 417.3 474.8 420.2 485.6 413.6 496.5 400.8 507.4 389.5 518.3 409.7 529.2 429.6 540.1 432.9 551.0 403.4 561.9 392.1 572.8 374.8 583.7 373.5 594.5 373.2 605.4 371.8 616.3 363.7 627.2 357.1 638.1 351.4 649.0 341.9 659.9 340.6 670.8 355.6 681.7 361.3 692.5 383.5 703.4 375.6 714.3 377.4 725.2 362.2 736.1 397.1 747.0 405.0"/>
<path class="r" d="M202.5 245.5 213.4 227.2 224.3 244.5 235.2 225.0 246.1 243.3 256.9 244.7 267.8 247.4 278.7 245.4 289.6 252.2 300.5 245.7 311.4 245.3 322.3 248.8 333.2 253.5 344.1 232.1 355.0 212.1 365.9 242.4 376.7 225.6 387.6 215.7 398.5 258.0 409.4 264.2 420.3 258.6 431.2 268.1 442.1 270.7 453.0 277.3 463.9 275.8 474.8 299.1 485.6 297.9 496.5 311.2 507.4 328.4 518.3 342.4 529.2 333.0 540.1 337.7 551.0 337.1 561.9 344.9 572.8 365.5 583.7 379.3 594.5 390.4 605.4 385.6 616.3 388.3 627.2 394.6 638.1 415.2 649.0 404.7 659.9 398.3 670.8 417.7 681.7 406.9 692.5 396.1 703.4 412.4 714.3 398.4 725.2 396.8 736.1 391.7 747.0 410.0"/>
<path class="r" d="M202.5 245.5 213.4 252.4 224.3 268.2 235.2 278.8 246.1 280.3 256.9 294.2 267.8 286.4 278.7 289.8 289.6 300.0 300.5 333.2 311.4 335.5 322.3 340.5 333.2 353.3 344.1 349.7 355.0 367.6 365.9 392.9 376.7 389.6 387.6 355.0 398.5 336.7 409.4 340.8 420.3 349.5 431.2 371.9 442.1 398.4 453.0 407.6 463.9 429.0 474.8 408.9 485.6 409.9 496.5 397.0 507.4 398.7 518.3 396.2 529.2 402.1 540.1 389.9 551.0 357.1 561.9 327.7 572.8 347.4 583.7 363.7 594.5 377.9 605.4 379.3 616.3 410.4 627.2 386.1 638.1 409.5 649.0 403.6 659.9 401.8 670.8 404.8 681.7 411.6 692.5 413.8 703.4 428.2 714.3 431.2 725.2 435.2 736.1 442.9 747.0 423.0"/>
<path class="r" d="M202.5 245.5 213.4 264.0 224.3 235.9 235.2 243.5 246.1 234.5 256.9 233.9 267.8 236.2 278.7 229.6 289.6 221.8 300.5 222.6 311.4 234.5 322.3 244.9 333.2 252.3 344.1 244.9 355.0 273.7 365.9 278.8 376.7 297.8 387.6 318.6 398.5 303.9 409.4 332.2 420.3 332.6 431.2 326.3 442.1 315.9 453.0 327.6 463.9 318.3 474.8 310.8 485.6 291.2 496.5 275.7 507.4 311.9 518.3 329.7 529.2 303.8 540.1 321.8 551.0 322.2 561.9 334.0 572.8 329.7 583.7 289.7 594.5 286.8 605.4 333.4 616.3 336.8 627.2 339.9 638.1 340.7 649.0 343.6 659.9 374.2 670.8 388.0 681.7 403.3 692.5 423.9 703.4 431.0 714.3 445.4 725.2 463.2 736.1 463.0 747.0 462.0"/>
<path class="r" d="M202.5 245.5 213.4 248.9 224.3 258.2 235.2 240.1 246.1 251.1 256.9 257.7 267.8 254.5 278.7 261.0 289.6 280.9 300.5 281.3 311.4 291.3 322.3 290.1 333.2 297.3 344.1 292.5 355.0 325.4 365.9 346.9 376.7 332.8 387.6 295.8 398.5 292.3 409.4 302.1 420.3 310.0 431.2 339.3 442.1 359.5 453.0 385.5 463.9 398.2 474.8 385.6 485.6 380.9 496.5 360.6 507.4 340.8 518.3 348.8 529.2 353.7 540.1 346.8 551.0 327.1 561.9 327.2 572.8 330.7 583.7 309.9 594.5 327.8 605.4 352.7 616.3 368.1 627.2 370.8 638.1 385.0 649.0 409.4 659.9 405.7 670.8 434.5 681.7 433.3 692.5 448.1 703.4 450.8 714.3 453.1 725.2 471.3 736.1 476.7 747.0 494.0"/>
<path class="t" d="M202.5 245.5 213.4 222.5 224.3 218.3 235.2 202.0 246.1 191.0 256.9 180.0 267.8 168.0 278.7 164.0 289.6 168.0 300.5 156.0 311.4 146.2 322.3 150.7 333.2 130.0 344.1 121.0 355.0 101.0 365.9 95.0 376.7 91.0 387.6 95.0 398.5 111.0 409.4 113.5 420.3 116.0 431.2 108.6 442.1 87.4 453.0 86.2 463.9 83.0 474.8 83.7 485.6 97.4 496.5 87.4 507.4 97.3 518.3 76.1 529.2 70.0 540.1 65.4 551.0 78.6 561.9 63.0 572.8 82.3 583.7 99.8 594.5 71.9 605.4 63.1 616.3 60.7 627.2 52.8 638.1 48.8 649.0 48.8 659.9 41.4 670.8 43.2 681.7 34.9 692.5 25.9 703.4 30.5 714.3 15.0 725.2 22.9 736.1 39.8 747.0 33.3"/>
<path class="r" d="M202.5 245.5 213.4 274.0 224.3 296.0 235.2 299.0 246.1 306.0 256.9 306.0 267.8 330.0 278.7 336.0 289.6 328.5 300.5 344.0 311.4 349.0 322.3 357.0 333.2 359.0 344.1 359.0 355.0 374.0 365.9 395.0 376.7 393.5 387.6 361.0 398.5 353.7 409.4 353.7 420.3 361.0 431.2 382.0 442.1 404.0 453.0 421.0 463.9 438.0 474.8 422.0 485.6 414.6 496.5 407.2 507.4 400.0 518.3 414.6 529.2 432.8 540.1 441.2 551.0 425.4 561.9 430.0 572.8 434.3 583.7 430.0 594.5 427.0 605.4 421.0 616.3 418.0 627.2 435.0 638.1 452.0 649.0 448.0 659.9 459.7 670.8 467.2 681.7 476.1 692.5 489.6 703.4 504.5 714.3 509.9 725.2 506.0 736.1 509.9 747.0 503.9"/>
</g>
<path d="M202.5 245.8 245.0 247.7 252.0 249.0 300.0 252.8 340.0 254.0 370.0 254.4 378.0 256.4 400.0 257.1 450.0 258.2 500.0 259.5 550.0 260.8 600.0 261.0 650.0 262.3 700.0 263.6 747.0 264.1" fill="none" stroke="#ffffff" stroke-width="2"/>
<rect x="3" y="295" width="7" height="12" fill="#089981"/>
<rect x="6" y="289" width="1" height="18" fill="#089981"/>
<rect x="14" y="287" width="7" height="9" fill="#089981"/>
<rect x="17" y="283" width="1" height="13" fill="#089981"/>
<rect x="25" y="288" width="7" height="1" fill="#f23645"/>
<rect x="28" y="286" width="1" height="10" fill="#f23645"/>
<rect x="35" y="278" width="7" height="11" fill="#089981"/>
<rect x="38" y="264" width="1" height="25" fill="#089981"/>
<rect x="46" y="273" width="7" height="7" fill="#089981"/>
<rect x="49" y="272" width="1" height="8" fill="#089981"/>
<rect x="57" y="273" width="7" height="1" fill="#f23645"/>
<rect x="60" y="264" width="1" height="13" fill="#f23645"/>
<rect x="68" y="268" width="7" height="6" fill="#089981"/>
<rect x="71" y="264" width="1" height="13" fill="#089981"/>
<rect x="79" y="263" width="7" height="6" fill="#089981"/>
<rect x="82" y="256" width="1" height="13" fill="#089981"/>
<rect x="90" y="255" width="7" height="9" fill="#089981"/>
<rect x="93" y="251" width="1" height="14" fill="#089981"/>
<rect x="101" y="255" width="7" height="4" fill="#f23645"/>
<rect x="104" y="247" width="1" height="12" fill="#f23645"/>
<rect x="112" y="258" width="7" height="6" fill="#f23645"/>
<rect x="115" y="257" width="1" height="7" fill="#f23645"/>
<rect x="123" y="261" width="7" height="1" fill="#089981"/>
<rect x="126" y="258" width="1" height="10" fill="#089981"/>
<rect x="134" y="261" width="7" height="5" fill="#f23645"/>
<rect x="137" y="261" width="1" height="11" fill="#f23645"/>
<rect x="145" y="258" width="7" height="8" fill="#089981"/>
<rect x="148" y="256" width="1" height="10" fill="#089981"/>
<rect x="155" y="258" width="7" height="1" fill="#f23645"/>
<rect x="158" y="255" width="1" height="7" fill="#f23645"/>
<rect x="166" y="272" width="7" height="4" fill="#089981"/>
<rect x="169" y="270" width="1" height="6" fill="#089981"/>
<rect x="177" y="271" width="7" height="2" fill="#089981"/>
<rect x="188" y="271" width="7" height="4" fill="#f23645"/>
<rect x="191" y="270" width="1" height="5" fill="#f23645"/>
<rect x="199" y="246" width="7" height="30" fill="#089981"/>
<rect x="202" y="243" width="1" height="33" fill="#089981"/>
<text x="759.3" y="36" fill="#089981" stroke="#089981" textLength="17.3" lengthAdjust="spacingAndGlyphs">Max</text>
<text x="759.6" y="175" fill="#089981" stroke="#089981" textLength="10" lengthAdjust="spacingAndGlyphs">R1</text>
<text x="759.4" y="371" fill="#f23645" stroke="#f23645" textLength="9.4" lengthAdjust="spacingAndGlyphs">S1</text>
<text x="759.2" y="507" fill="#f23645" stroke="#f23645" textLength="15.3" lengthAdjust="spacingAndGlyphs">Min</text>
</svg>
</body></html>
